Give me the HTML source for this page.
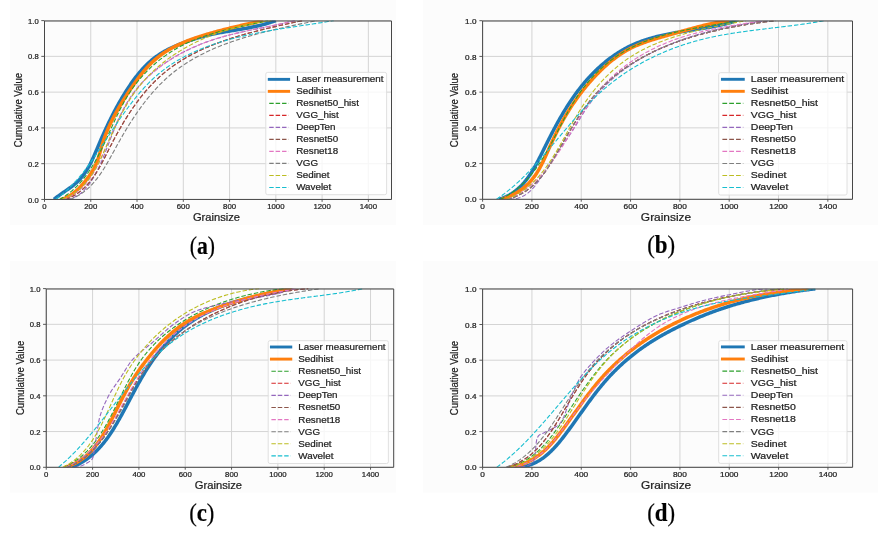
<!DOCTYPE html><html><head><meta charset="utf-8"><style>html,body{margin:0;padding:0;background:#fff;overflow:hidden;}svg{display:block;will-change:transform;}</style></head><body>
<svg width="878" height="533" viewBox="0 0 878 533" font-family='"Liberation Sans", sans-serif' fill="#1e1e1e">
<style>text{stroke:#1e1e1e;stroke-width:0.22px;}</style>
<rect width="878" height="533" fill="#ffffff"/>
<rect x="10" y="0" width="386" height="225" fill="#fcfcfc"/>
<clipPath id="clipa"><rect x="44.5" y="20.6" width="347" height="178.85"/></clipPath>
<path d="M44.5,20.6V199.45M90.77,20.6V199.45M137.03,20.6V199.45M183.3,20.6V199.45M229.57,20.6V199.45M275.83,20.6V199.45M322.1,20.6V199.45M368.37,20.6V199.45M44.5,199.45H391.5M44.5,163.68H391.5M44.5,127.91H391.5M44.5,92.14H391.5M44.5,56.37H391.5M44.5,20.6H391.5" stroke="#d4d4d4" stroke-width="1" fill="none"/>
<g clip-path="url(#clipa)" fill="none" stroke-linejoin="round">
<path d="M53.98,199.45 L54.86,198.7 L55.76,197.96 L56.68,197.23 L57.62,196.51 L58.57,195.8 L59.55,195.09 L60.54,194.38 L61.53,193.68 L62.54,192.98 L63.56,192.28 L64.58,191.58 L65.6,190.88 L66.63,190.17 L67.65,189.46 L68.67,188.75 L69.69,188.02 L70.69,187.29 L71.69,186.55 L72.68,185.8 L73.65,185.04 L74.6,184.26 L75.54,183.48 L76.46,182.67 L77.35,181.85 L78.23,181.01 L79.07,180.15 L79.89,179.28 L80.7,178.39 L81.47,177.48 L82.23,176.56 L82.97,175.62 L83.68,174.67 L84.38,173.71 L85.06,172.73 L85.72,171.74 L86.37,170.73 L87,169.72 L87.61,168.7 L88.21,167.66 L88.8,166.62 L89.37,165.56 L89.94,164.5 L90.49,163.43 L91.03,162.35 L91.55,161.27 L92.08,160.18 L92.59,159.08 L93.09,157.98 L93.59,156.88 L94.08,155.77 L94.57,154.66 L95.05,153.54 L95.53,152.42 L96,151.3 L96.48,150.18 L96.95,149.06 L97.42,147.94 L97.89,146.82 L98.36,145.7 L98.83,144.59 L99.31,143.47 L99.78,142.36 L100.26,141.25 L100.74,140.14 L101.22,139.03 L101.71,137.92 L102.19,136.82 L102.68,135.72 L103.17,134.62 L103.67,133.52 L104.16,132.42 L104.66,131.33 L105.16,130.23 L105.66,129.14 L106.17,128.05 L106.68,126.97 L107.19,125.88 L107.7,124.8 L108.22,123.71 L108.74,122.63 L109.27,121.55 L109.79,120.48 L110.32,119.4 L110.86,118.33 L111.39,117.26 L111.93,116.18 L112.48,115.12 L113.03,114.05 L113.58,112.98 L114.14,111.92 L114.7,110.86 L115.26,109.8 L115.83,108.74 L116.4,107.68 L116.98,106.63 L117.56,105.58 L118.14,104.52 L118.73,103.47 L119.33,102.43 L119.92,101.38 L120.53,100.33 L121.14,99.29 L121.75,98.25 L122.37,97.21 L122.99,96.17 L123.62,95.13 L124.25,94.1 L124.89,93.06 L125.54,92.03 L126.19,91 L126.84,89.97 L127.5,88.94 L128.17,87.92 L128.84,86.9 L129.52,85.88 L130.21,84.87 L130.9,83.86 L131.59,82.85 L132.3,81.85 L133.01,80.86 L133.73,79.87 L134.46,78.88 L135.19,77.9 L135.93,76.93 L136.68,75.97 L137.43,75.01 L138.2,74.06 L138.97,73.12 L139.75,72.19 L140.54,71.26 L141.34,70.35 L142.14,69.44 L142.96,68.55 L143.78,67.66 L144.62,66.78 L145.46,65.92 L146.31,65.07 L147.17,64.22 L148.04,63.39 L148.92,62.58 L149.81,61.77 L150.71,60.98 L151.63,60.2 L152.55,59.43 L153.48,58.68 L154.42,57.95 L155.38,57.22 L156.34,56.52 L157.32,55.83 L158.3,55.15 L159.3,54.49 L160.31,53.84 L161.33,53.2 L162.35,52.58 L163.39,51.98 L164.43,51.38 L165.48,50.8 L166.54,50.23 L167.61,49.67 L168.68,49.12 L169.76,48.58 L170.85,48.06 L171.95,47.54 L173.04,47.04 L174.15,46.54 L175.26,46.05 L176.37,45.57 L177.49,45.1 L178.61,44.64 L179.74,44.19 L180.87,43.74 L182,43.3 L183.14,42.87 L184.27,42.44 L185.41,42.02 L186.55,41.6 L187.7,41.2 L188.84,40.8 L189.99,40.4 L191.14,40.01 L192.29,39.63 L193.44,39.26 L194.6,38.89 L195.76,38.53 L196.91,38.18 L198.07,37.83 L199.24,37.49 L200.4,37.16 L201.57,36.84 L202.73,36.52 L203.9,36.22 L205.08,35.92 L206.25,35.62 L207.42,35.34 L208.6,35.06 L209.77,34.79 L210.95,34.53 L212.13,34.28 L213.31,34.03 L214.5,33.78 L215.68,33.55 L216.86,33.31 L218.05,33.09 L219.24,32.86 L220.42,32.64 L221.61,32.43 L222.8,32.22 L223.99,32.01 L225.18,31.8 L226.37,31.6 L227.56,31.4 L228.75,31.2 L229.94,31 L231.13,30.81 L232.32,30.61 L233.51,30.41 L234.7,30.22 L235.9,30.02 L237.09,29.82 L238.28,29.63 L239.47,29.43 L240.66,29.22 L241.85,29.02 L243.04,28.81 L244.23,28.61 L245.41,28.39 L246.6,28.18 L247.79,27.96 L248.97,27.73 L250.16,27.51 L251.34,27.27 L252.52,27.03 L253.7,26.79 L254.88,26.54 L256.06,26.28 L257.24,26.02 L258.42,25.75 L259.59,25.47 L260.76,25.18 L261.93,24.89 L263.1,24.59 L264.27,24.28 L265.44,23.96 L266.6,23.63 L267.76,23.29 L268.92,22.94 L270.08,22.57 L271.24,22.2 L272.39,21.82 L273.54,21.43 L274.69,21.02 L275.83,20.6" stroke="#1f77b4" stroke-width="3.5"/>
<path d="M60.69,199.45 L61.91,199.12 L63.1,198.74 L64.27,198.33 L65.4,197.87 L66.52,197.37 L67.6,196.84 L68.67,196.27 L69.71,195.67 L70.73,195.04 L71.73,194.37 L72.71,193.68 L73.67,192.95 L74.61,192.21 L75.53,191.43 L76.44,190.64 L77.32,189.82 L78.2,188.98 L79.06,188.13 L79.9,187.25 L80.73,186.37 L81.55,185.46 L82.36,184.55 L83.15,183.63 L83.94,182.69 L84.72,181.75 L85.49,180.8 L86.25,179.85 L86.99,178.89 L87.73,177.92 L88.46,176.95 L89.17,175.97 L89.87,174.98 L90.55,173.98 L91.22,172.97 L91.87,171.95 L92.5,170.93 L93.11,169.89 L93.7,168.85 L94.27,167.79 L94.82,166.72 L95.35,165.65 L95.85,164.56 L96.33,163.46 L96.78,162.35 L97.21,161.22 L97.62,160.09 L98.01,158.95 L98.38,157.8 L98.74,156.64 L99.09,155.48 L99.43,154.31 L99.76,153.15 L100.09,151.97 L100.41,150.8 L100.74,149.63 L101.06,148.46 L101.39,147.29 L101.73,146.12 L102.08,144.96 L102.44,143.8 L102.81,142.65 L103.18,141.5 L103.57,140.36 L103.96,139.22 L104.37,138.08 L104.78,136.95 L105.2,135.83 L105.63,134.7 L106.07,133.58 L106.52,132.47 L106.98,131.36 L107.44,130.25 L107.92,129.14 L108.4,128.04 L108.88,126.95 L109.38,125.85 L109.88,124.76 L110.39,123.67 L110.91,122.59 L111.43,121.51 L111.97,120.43 L112.5,119.36 L113.05,118.29 L113.6,117.22 L114.16,116.15 L114.72,115.09 L115.29,114.03 L115.87,112.97 L116.45,111.91 L117.04,110.86 L117.63,109.81 L118.23,108.76 L118.83,107.72 L119.44,106.68 L120.06,105.63 L120.68,104.59 L121.3,103.56 L121.93,102.52 L122.56,101.49 L123.2,100.46 L123.84,99.43 L124.48,98.4 L125.13,97.37 L125.78,96.35 L126.44,95.33 L127.1,94.3 L127.76,93.28 L128.43,92.26 L129.1,91.25 L129.77,90.23 L130.45,89.22 L131.13,88.2 L131.81,87.19 L132.5,86.19 L133.19,85.18 L133.89,84.18 L134.59,83.18 L135.29,82.19 L136,81.2 L136.72,80.22 L137.44,79.24 L138.17,78.26 L138.9,77.3 L139.64,76.33 L140.39,75.38 L141.14,74.43 L141.9,73.49 L142.67,72.55 L143.44,71.62 L144.22,70.7 L145.01,69.79 L145.8,68.89 L146.61,67.99 L147.42,67.11 L148.24,66.23 L149.07,65.36 L149.9,64.51 L150.75,63.66 L151.61,62.82 L152.47,62 L153.34,61.19 L154.23,60.38 L155.12,59.59 L156.03,58.82 L156.94,58.05 L157.87,57.3 L158.8,56.56 L159.75,55.83 L160.71,55.12 L161.67,54.42 L162.65,53.73 L163.64,53.06 L164.63,52.4 L165.64,51.75 L166.65,51.11 L167.68,50.48 L168.71,49.86 L169.75,49.26 L170.8,48.67 L171.85,48.08 L172.91,47.51 L173.98,46.95 L175.06,46.4 L176.14,45.86 L177.23,45.33 L178.33,44.8 L179.43,44.29 L180.54,43.79 L181.65,43.29 L182.77,42.81 L183.89,42.33 L185.02,41.86 L186.15,41.4 L187.28,40.95 L188.42,40.5 L189.57,40.06 L190.71,39.63 L191.86,39.21 L193.01,38.79 L194.17,38.38 L195.32,37.98 L196.48,37.59 L197.64,37.19 L198.8,36.81 L199.96,36.43 L201.13,36.06 L202.29,35.69 L203.45,35.33 L204.62,34.97 L205.78,34.61 L206.95,34.27 L208.11,33.92 L209.27,33.58 L210.44,33.24 L211.6,32.91 L212.76,32.58 L213.92,32.26 L215.08,31.94 L216.24,31.62 L217.4,31.31 L218.57,30.99 L219.73,30.69 L220.89,30.38 L222.05,30.08 L223.21,29.78 L224.37,29.49 L225.53,29.19 L226.69,28.9 L227.86,28.62 L229.02,28.33 L230.18,28.05 L231.34,27.77 L232.51,27.49 L233.67,27.21 L234.84,26.94 L236,26.66 L237.17,26.39 L238.34,26.12 L239.5,25.85 L240.67,25.58 L241.84,25.32 L243.01,25.05 L244.18,24.79 L245.36,24.52 L246.53,24.26 L247.71,24 L248.88,23.74 L250.06,23.48 L251.24,23.22 L252.42,22.96 L253.6,22.69 L254.78,22.43 L255.97,22.17 L257.15,21.91 L258.34,21.65 L259.53,21.39 L260.72,21.13 L261.92,20.87 L263.11,20.6" stroke="#ff7f0e" stroke-width="3.5"/>
<path d="M59.55,199.46 L60.64,198.83 L61.71,198.19 L62.76,197.54 L63.8,196.87 L64.83,196.19 L65.84,195.5 L66.83,194.79 L67.81,194.07 L68.77,193.34 L69.72,192.6 L70.65,191.85 L71.57,191.09 L72.48,190.31 L73.37,189.52 L74.25,188.73 L75.12,187.92 L75.97,187.1 L76.81,186.27 L77.64,185.43 L78.46,184.58 L79.26,183.72 L80.06,182.86 L80.84,181.98 L81.61,181.09 L82.37,180.19 L83.11,179.29 L83.85,178.37 L84.58,177.45 L85.3,176.52 L86,175.58 L86.7,174.63 L87.39,173.68 L88.07,172.72 L88.74,171.75 L89.4,170.77 L90.05,169.79 L90.7,168.79 L91.33,167.8 L91.96,166.79 L92.58,165.78 L93.2,164.76 L93.8,163.74 L94.4,162.71 L95,161.68 L95.58,160.64 L96.17,159.59 L96.74,158.54 L97.31,157.49 L97.87,156.43 L98.43,155.37 L98.99,154.3 L99.54,153.22 L100.08,152.15 L100.62,151.07 L101.16,149.98 L101.69,148.9 L102.22,147.81 L102.75,146.71 L103.27,145.62 L103.79,144.52 L104.3,143.42 L104.82,142.31 L105.33,141.21 L105.84,140.1 L106.35,138.99 L106.86,137.88 L107.37,136.77 L107.87,135.65 L108.38,134.54 L108.88,133.42 L109.38,132.31 L109.89,131.19 L110.39,130.07 L110.89,128.95 L111.4,127.84 L111.91,126.72 L112.41,125.6 L112.92,124.49 L113.43,123.37 L113.94,122.26 L114.46,121.15 L114.97,120.04 L115.49,118.93 L116.01,117.82 L116.54,116.71 L117.06,115.61 L117.59,114.51 L118.13,113.41 L118.67,112.31 L119.21,111.22 L119.76,110.12 L120.31,109.04 L120.87,107.95 L121.43,106.87 L121.99,105.79 L122.57,104.72 L123.15,103.65 L123.73,102.59 L124.32,101.53 L124.92,100.47 L125.52,99.42 L126.13,98.37 L126.75,97.33 L127.38,96.3 L128.01,95.27 L128.65,94.25 L129.3,93.23 L129.96,92.22 L130.62,91.21 L131.3,90.21 L131.98,89.22 L132.67,88.23 L133.37,87.25 L134.08,86.28 L134.8,85.31 L135.53,84.36 L136.26,83.4 L137,82.46 L137.75,81.52 L138.51,80.59 L139.28,79.66 L140.05,78.74 L140.84,77.83 L141.63,76.93 L142.43,76.03 L143.23,75.14 L144.05,74.26 L144.87,73.39 L145.7,72.52 L146.54,71.66 L147.38,70.81 L148.23,69.96 L149.09,69.12 L149.96,68.29 L150.83,67.47 L151.71,66.66 L152.6,65.85 L153.49,65.05 L154.4,64.26 L155.3,63.48 L156.22,62.7 L157.14,61.93 L158.07,61.17 L159.01,60.42 L159.95,59.68 L160.9,58.94 L161.85,58.21 L162.81,57.5 L163.78,56.78 L164.75,56.08 L165.73,55.39 L166.72,54.7 L167.71,54.03 L168.71,53.36 L169.71,52.7 L170.72,52.04 L171.74,51.4 L172.76,50.77 L173.79,50.14 L174.82,49.53 L175.86,48.92 L176.9,48.32 L177.95,47.73 L179.01,47.15 L180.07,46.58 L181.13,46.01 L182.2,45.46 L183.28,44.91 L184.36,44.38 L185.44,43.85 L186.53,43.33 L187.63,42.83 L188.73,42.33 L189.83,41.83 L190.94,41.35 L192.05,40.88 L193.17,40.41 L194.29,39.95 L195.42,39.5 L196.54,39.05 L197.68,38.62 L198.81,38.19 L199.95,37.77 L201.09,37.35 L202.24,36.94 L203.39,36.54 L204.54,36.15 L205.69,35.76 L206.85,35.38 L208.01,35 L209.17,34.63 L210.34,34.27 L211.5,33.91 L212.67,33.56 L213.85,33.21 L215.02,32.87 L216.19,32.53 L217.37,32.2 L218.55,31.88 L219.73,31.55 L220.91,31.24 L222.09,30.92 L223.28,30.61 L224.46,30.31 L225.65,30.01 L226.83,29.71 L228.02,29.42 L229.21,29.13 L230.4,28.84 L231.58,28.56 L232.77,28.28 L233.96,28 L235.15,27.73 L236.34,27.46 L237.53,27.19 L238.72,26.92 L239.9,26.66 L241.09,26.4 L242.28,26.14 L243.46,25.88 L244.65,25.62 L245.83,25.37 L247.01,25.11 L248.19,24.86 L249.37,24.61 L250.55,24.36 L251.73,24.11 L252.9,23.86 L254.08,23.61 L255.25,23.36 L256.42,23.11 L257.58,22.87 L258.75,22.62 L259.91,22.37 L261.07,22.12 L262.23,21.87 L263.38,21.62 L264.53,21.37 L265.68,21.12 L266.83,20.87 L267.97,20.61" stroke="#2ca02c" stroke-width="1.1" stroke-dasharray="4.45 1.95"/>
<path d="M65.8,199.46 L66.99,199 L68.15,198.52 L69.29,198.02 L70.41,197.5 L71.51,196.95 L72.58,196.39 L73.63,195.8 L74.67,195.2 L75.68,194.57 L76.67,193.93 L77.64,193.27 L78.59,192.59 L79.52,191.9 L80.44,191.18 L81.33,190.45 L82.21,189.71 L83.07,188.94 L83.92,188.16 L84.75,187.37 L85.56,186.56 L86.36,185.74 L87.14,184.9 L87.91,184.05 L88.67,183.18 L89.41,182.3 L90.14,181.41 L90.85,180.51 L91.55,179.59 L92.25,178.67 L92.93,177.73 L93.6,176.78 L94.26,175.82 L94.91,174.85 L95.55,173.87 L96.18,172.89 L96.8,171.89 L97.42,170.88 L98.03,169.87 L98.63,168.85 L99.22,167.82 L99.81,166.79 L100.39,165.75 L100.97,164.7 L101.54,163.65 L102.11,162.59 L102.67,161.52 L103.23,160.45 L103.79,159.38 L104.34,158.31 L104.9,157.23 L105.45,156.14 L106,155.06 L106.55,153.97 L107.09,152.88 L107.64,151.79 L108.19,150.69 L108.74,149.6 L109.29,148.51 L109.85,147.41 L110.4,146.32 L110.96,145.23 L111.52,144.13 L112.09,143.04 L112.65,141.95 L113.22,140.86 L113.8,139.78 L114.37,138.69 L114.95,137.61 L115.54,136.52 L116.12,135.44 L116.71,134.36 L117.31,133.28 L117.9,132.21 L118.5,131.13 L119.1,130.06 L119.71,128.99 L120.32,127.92 L120.94,126.86 L121.56,125.8 L122.18,124.74 L122.8,123.68 L123.43,122.62 L124.07,121.57 L124.7,120.52 L125.34,119.48 L125.99,118.44 L126.64,117.4 L127.29,116.36 L127.95,115.33 L128.61,114.3 L129.28,113.28 L129.95,112.26 L130.62,111.24 L131.3,110.23 L131.99,109.22 L132.68,108.21 L133.37,107.21 L134.07,106.22 L134.77,105.22 L135.48,104.24 L136.19,103.25 L136.91,102.28 L137.63,101.3 L138.36,100.34 L139.09,99.37 L139.82,98.42 L140.57,97.46 L141.31,96.52 L142.06,95.57 L142.82,94.64 L143.58,93.71 L144.35,92.78 L145.12,91.86 L145.9,90.95 L146.69,90.04 L147.48,89.14 L148.27,88.25 L149.07,87.36 L149.88,86.48 L150.69,85.6 L151.51,84.73 L152.33,83.87 L153.16,83.02 L154,82.17 L154.84,81.33 L155.68,80.49 L156.54,79.66 L157.4,78.84 L158.26,78.03 L159.13,77.23 L160.01,76.43 L160.89,75.64 L161.78,74.86 L162.68,74.08 L163.58,73.32 L164.49,72.56 L165.41,71.81 L166.33,71.07 L167.26,70.33 L168.19,69.61 L169.13,68.89 L170.08,68.18 L171.03,67.47 L171.99,66.78 L172.95,66.09 L173.92,65.41 L174.9,64.73 L175.88,64.07 L176.87,63.41 L177.86,62.75 L178.85,62.11 L179.86,61.47 L180.86,60.84 L181.88,60.21 L182.89,59.6 L183.91,58.99 L184.94,58.38 L185.97,57.78 L187.01,57.19 L188.05,56.61 L189.1,56.03 L190.15,55.46 L191.2,54.89 L192.26,54.33 L193.32,53.78 L194.39,53.24 L195.46,52.7 L196.54,52.16 L197.62,51.63 L198.7,51.11 L199.79,50.59 L200.88,50.08 L201.97,49.58 L203.07,49.08 L204.17,48.58 L205.28,48.1 L206.39,47.61 L207.5,47.14 L208.61,46.66 L209.73,46.2 L210.85,45.74 L211.98,45.28 L213.11,44.83 L214.24,44.38 L215.37,43.94 L216.5,43.5 L217.64,43.07 L218.78,42.65 L219.93,42.22 L221.07,41.81 L222.22,41.39 L223.37,40.99 L224.52,40.58 L225.68,40.18 L226.84,39.79 L227.99,39.4 L229.16,39.01 L230.32,38.63 L231.48,38.25 L232.65,37.88 L233.82,37.51 L234.98,37.15 L236.15,36.78 L237.33,36.43 L238.5,36.07 L239.67,35.72 L240.85,35.37 L242.03,35.03 L243.2,34.69 L244.38,34.35 L245.56,34.02 L246.74,33.69 L247.92,33.37 L249.11,33.04 L250.29,32.72 L251.47,32.41 L252.65,32.09 L253.84,31.78 L255.02,31.47 L256.21,31.17 L257.39,30.87 L258.57,30.57 L259.76,30.27 L260.94,29.98 L262.13,29.68 L263.31,29.39 L264.49,29.11 L265.68,28.82 L266.86,28.54 L268.04,28.26 L269.22,27.98 L270.4,27.71 L271.58,27.43 L272.76,27.16 L273.94,26.89 L275.12,26.62 L276.3,26.36 L277.47,26.09 L278.64,25.83 L279.82,25.57 L280.99,25.31 L282.16,25.05 L283.33,24.8 L284.49,24.54 L285.66,24.29 L286.82,24.03 L287.98,23.78 L289.14,23.53 L290.3,23.28 L291.46,23.04 L292.61,22.79 L293.76,22.54 L294.91,22.3 L296.06,22.05 L297.2,21.81 L298.35,21.56 L299.49,21.32 L300.62,21.08 L301.76,20.84 L302.89,20.59" stroke="#d62728" stroke-width="1.1" stroke-dasharray="4.45 1.95"/>
<path d="M66.94,199.45 L68.25,199.21 L69.52,198.92 L70.75,198.59 L71.94,198.21 L73.1,197.78 L74.22,197.32 L75.31,196.81 L76.36,196.26 L77.39,195.68 L78.38,195.06 L79.34,194.4 L80.28,193.71 L81.19,192.99 L82.07,192.25 L82.93,191.47 L83.76,190.67 L84.57,189.84 L85.36,188.99 L86.13,188.11 L86.88,187.22 L87.61,186.31 L88.33,185.38 L89.02,184.44 L89.71,183.48 L90.38,182.51 L91.03,181.53 L91.68,180.54 L92.31,179.54 L92.93,178.53 L93.54,177.51 L94.14,176.48 L94.72,175.45 L95.3,174.4 L95.87,173.35 L96.43,172.29 L96.98,171.23 L97.52,170.15 L98.05,169.07 L98.57,167.99 L99.09,166.9 L99.6,165.8 L100.1,164.7 L100.6,163.59 L101.09,162.48 L101.57,161.37 L102.05,160.25 L102.52,159.13 L102.99,158 L103.46,156.87 L103.92,155.74 L104.37,154.61 L104.83,153.47 L105.28,152.33 L105.72,151.19 L106.17,150.05 L106.61,148.91 L107.05,147.77 L107.49,146.63 L107.93,145.49 L108.37,144.35 L108.81,143.21 L109.25,142.08 L109.69,140.94 L110.13,139.8 L110.57,138.67 L111.01,137.54 L111.45,136.4 L111.9,135.27 L112.34,134.15 L112.79,133.02 L113.24,131.9 L113.69,130.77 L114.14,129.65 L114.6,128.54 L115.06,127.42 L115.52,126.31 L115.99,125.2 L116.46,124.1 L116.94,122.99 L117.42,121.89 L117.9,120.8 L118.39,119.7 L118.88,118.61 L119.38,117.53 L119.88,116.45 L120.39,115.37 L120.91,114.3 L121.43,113.23 L121.95,112.16 L122.49,111.1 L123.03,110.05 L123.58,109 L124.13,107.95 L124.69,106.91 L125.26,105.88 L125.84,104.84 L126.43,103.82 L127.02,102.8 L127.63,101.79 L128.24,100.78 L128.86,99.78 L129.49,98.78 L130.13,97.79 L130.78,96.81 L131.45,95.83 L132.12,94.86 L132.8,93.9 L133.49,92.94 L134.19,91.99 L134.91,91.05 L135.63,90.12 L136.37,89.19 L137.12,88.27 L137.88,87.35 L138.64,86.45 L139.42,85.55 L140.21,84.65 L141.01,83.77 L141.82,82.89 L142.63,82.02 L143.46,81.15 L144.3,80.3 L145.14,79.45 L146,78.6 L146.86,77.77 L147.73,76.94 L148.62,76.12 L149.5,75.3 L150.4,74.49 L151.31,73.69 L152.22,72.9 L153.15,72.12 L154.08,71.34 L155.01,70.57 L155.96,69.8 L156.91,69.05 L157.87,68.3 L158.84,67.55 L159.81,66.82 L160.79,66.09 L161.78,65.37 L162.78,64.66 L163.78,63.95 L164.78,63.25 L165.8,62.56 L166.82,61.87 L167.84,61.2 L168.87,60.53 L169.91,59.86 L170.95,59.21 L171.99,58.56 L173.05,57.92 L174.1,57.28 L175.16,56.66 L176.23,56.04 L177.3,55.43 L178.38,54.82 L179.45,54.23 L180.54,53.64 L181.63,53.05 L182.72,52.48 L183.81,51.91 L184.91,51.35 L186.01,50.8 L187.12,50.25 L188.22,49.71 L189.34,49.18 L190.45,48.66 L191.57,48.14 L192.69,47.63 L193.81,47.13 L194.93,46.64 L196.06,46.15 L197.19,45.67 L198.32,45.2 L199.45,44.74 L200.58,44.28 L201.71,43.83 L202.85,43.39 L203.99,42.95 L205.12,42.53 L206.26,42.11 L207.4,41.69 L208.54,41.29 L209.68,40.89 L210.82,40.5 L211.97,40.12 L213.11,39.74 L214.25,39.37 L215.4,39.01 L216.54,38.65 L217.69,38.3 L218.83,37.95 L219.98,37.61 L221.12,37.28 L222.27,36.95 L223.42,36.63 L224.57,36.31 L225.72,36 L226.87,35.69 L228.02,35.39 L229.17,35.09 L230.32,34.79 L231.48,34.5 L232.63,34.22 L233.78,33.93 L234.94,33.65 L236.09,33.38 L237.25,33.11 L238.41,32.84 L239.56,32.57 L240.72,32.31 L241.88,32.05 L243.04,31.79 L244.2,31.54 L245.36,31.29 L246.52,31.04 L247.69,30.79 L248.85,30.54 L250.01,30.3 L251.18,30.05 L252.34,29.81 L253.51,29.57 L254.68,29.33 L255.84,29.09 L257.01,28.85 L258.18,28.61 L259.35,28.37 L260.52,28.14 L261.69,27.9 L262.86,27.66 L264.04,27.42 L265.21,27.18 L266.38,26.95 L267.56,26.71 L268.74,26.46 L269.91,26.22 L271.09,25.98 L272.27,25.73 L273.45,25.49 L274.63,25.24 L275.81,24.99 L276.99,24.74 L278.17,24.48 L279.35,24.23 L280.54,23.97 L281.72,23.71 L282.91,23.44 L284.09,23.17 L285.28,22.9 L286.47,22.63 L287.66,22.35 L288.84,22.07 L290.03,21.78 L291.23,21.49 L292.42,21.2 L293.61,20.9 L294.8,20.6" stroke="#9467bd" stroke-width="1.1" stroke-dasharray="4.45 1.95"/>
<path d="M65.8,199.46 L66.99,199 L68.15,198.52 L69.29,198.02 L70.41,197.5 L71.51,196.95 L72.58,196.39 L73.63,195.8 L74.67,195.2 L75.68,194.57 L76.67,193.93 L77.64,193.27 L78.59,192.59 L79.52,191.9 L80.44,191.18 L81.33,190.45 L82.21,189.71 L83.07,188.94 L83.92,188.16 L84.75,187.37 L85.56,186.56 L86.36,185.74 L87.14,184.9 L87.91,184.05 L88.67,183.18 L89.41,182.3 L90.14,181.41 L90.85,180.51 L91.55,179.59 L92.25,178.67 L92.93,177.73 L93.6,176.78 L94.26,175.82 L94.91,174.85 L95.55,173.87 L96.18,172.89 L96.8,171.89 L97.42,170.88 L98.03,169.87 L98.63,168.85 L99.22,167.82 L99.81,166.79 L100.39,165.75 L100.97,164.7 L101.54,163.65 L102.11,162.59 L102.67,161.52 L103.23,160.45 L103.79,159.38 L104.34,158.31 L104.9,157.23 L105.45,156.14 L106,155.06 L106.55,153.97 L107.09,152.88 L107.64,151.79 L108.19,150.69 L108.74,149.6 L109.29,148.51 L109.85,147.41 L110.4,146.32 L110.96,145.23 L111.52,144.13 L112.09,143.04 L112.65,141.95 L113.22,140.86 L113.8,139.78 L114.37,138.69 L114.95,137.61 L115.54,136.52 L116.12,135.44 L116.71,134.36 L117.31,133.28 L117.9,132.21 L118.5,131.13 L119.1,130.06 L119.71,128.99 L120.32,127.92 L120.94,126.86 L121.56,125.8 L122.18,124.74 L122.8,123.68 L123.43,122.62 L124.07,121.57 L124.7,120.52 L125.34,119.48 L125.99,118.44 L126.64,117.4 L127.29,116.36 L127.95,115.33 L128.61,114.3 L129.28,113.28 L129.95,112.26 L130.62,111.24 L131.3,110.23 L131.99,109.22 L132.68,108.21 L133.37,107.21 L134.07,106.22 L134.77,105.22 L135.48,104.24 L136.19,103.25 L136.91,102.28 L137.63,101.3 L138.36,100.34 L139.09,99.37 L139.82,98.42 L140.57,97.46 L141.31,96.52 L142.06,95.57 L142.82,94.64 L143.58,93.71 L144.35,92.78 L145.12,91.86 L145.9,90.95 L146.69,90.04 L147.48,89.14 L148.27,88.25 L149.07,87.36 L149.88,86.48 L150.69,85.6 L151.51,84.73 L152.33,83.87 L153.16,83.02 L154,82.17 L154.84,81.33 L155.68,80.49 L156.54,79.66 L157.4,78.84 L158.26,78.03 L159.13,77.23 L160.01,76.43 L160.89,75.64 L161.78,74.86 L162.68,74.08 L163.58,73.32 L164.49,72.56 L165.41,71.81 L166.33,71.07 L167.26,70.33 L168.19,69.61 L169.13,68.89 L170.08,68.18 L171.03,67.47 L171.99,66.78 L172.95,66.09 L173.92,65.41 L174.9,64.73 L175.88,64.07 L176.87,63.41 L177.86,62.75 L178.85,62.11 L179.86,61.47 L180.86,60.84 L181.88,60.21 L182.89,59.6 L183.91,58.99 L184.94,58.38 L185.97,57.78 L187.01,57.19 L188.05,56.61 L189.1,56.03 L190.15,55.46 L191.2,54.89 L192.26,54.33 L193.32,53.78 L194.39,53.24 L195.46,52.7 L196.54,52.16 L197.62,51.63 L198.7,51.11 L199.79,50.59 L200.88,50.08 L201.97,49.58 L203.07,49.08 L204.17,48.58 L205.28,48.1 L206.39,47.61 L207.5,47.14 L208.61,46.66 L209.73,46.2 L210.85,45.74 L211.98,45.28 L213.11,44.83 L214.24,44.38 L215.37,43.94 L216.5,43.5 L217.64,43.07 L218.78,42.65 L219.93,42.22 L221.07,41.81 L222.22,41.39 L223.37,40.99 L224.52,40.58 L225.68,40.18 L226.84,39.79 L227.99,39.4 L229.16,39.01 L230.32,38.63 L231.48,38.25 L232.65,37.88 L233.82,37.51 L234.98,37.15 L236.15,36.78 L237.33,36.43 L238.5,36.07 L239.67,35.72 L240.85,35.37 L242.03,35.03 L243.2,34.69 L244.38,34.35 L245.56,34.02 L246.74,33.69 L247.92,33.37 L249.11,33.04 L250.29,32.72 L251.47,32.41 L252.65,32.09 L253.84,31.78 L255.02,31.47 L256.21,31.17 L257.39,30.87 L258.57,30.57 L259.76,30.27 L260.94,29.98 L262.13,29.68 L263.31,29.39 L264.49,29.11 L265.68,28.82 L266.86,28.54 L268.04,28.26 L269.22,27.98 L270.4,27.71 L271.58,27.43 L272.76,27.16 L273.94,26.89 L275.12,26.62 L276.3,26.36 L277.47,26.09 L278.64,25.83 L279.82,25.57 L280.99,25.31 L282.16,25.05 L283.33,24.8 L284.49,24.54 L285.66,24.29 L286.82,24.03 L287.98,23.78 L289.14,23.53 L290.3,23.28 L291.46,23.04 L292.61,22.79 L293.76,22.54 L294.91,22.3 L296.06,22.05 L297.2,21.81 L298.35,21.56 L299.49,21.32 L300.62,21.08 L301.76,20.84 L302.89,20.59" stroke="#8c564b" stroke-width="1.1" stroke-dasharray="4.45 1.95"/>
<path d="M63.01,199.46 L64.23,199.01 L65.42,198.54 L66.59,198.04 L67.73,197.52 L68.85,196.99 L69.95,196.43 L71.02,195.85 L72.07,195.25 L73.09,194.63 L74.1,193.99 L75.08,193.33 L76.05,192.66 L76.99,191.96 L77.91,191.25 L78.82,190.52 L79.7,189.77 L80.57,189.01 L81.41,188.23 L82.24,187.44 L83.05,186.63 L83.85,185.8 L84.63,184.96 L85.39,184.11 L86.14,183.24 L86.87,182.36 L87.59,181.46 L88.3,180.56 L88.99,179.64 L89.66,178.71 L90.33,177.76 L90.98,176.81 L91.62,175.84 L92.25,174.87 L92.87,173.88 L93.47,172.89 L94.07,171.88 L94.66,170.87 L95.23,169.85 L95.8,168.81 L96.36,167.78 L96.91,166.73 L97.46,165.68 L97.99,164.61 L98.52,163.55 L99.04,162.47 L99.56,161.39 L100.07,160.31 L100.58,159.22 L101.08,158.12 L101.58,157.02 L102.07,155.92 L102.56,154.81 L103.04,153.7 L103.53,152.59 L104.01,151.47 L104.49,150.35 L104.97,149.23 L105.44,148.11 L105.92,146.99 L106.4,145.86 L106.87,144.74 L107.35,143.61 L107.83,142.49 L108.31,141.36 L108.79,140.23 L109.27,139.11 L109.75,137.98 L110.23,136.86 L110.72,135.73 L111.2,134.61 L111.69,133.49 L112.18,132.36 L112.68,131.24 L113.17,130.13 L113.67,129.01 L114.17,127.89 L114.68,126.78 L115.19,125.67 L115.7,124.56 L116.22,123.45 L116.74,122.35 L117.26,121.25 L117.79,120.15 L118.32,119.06 L118.86,117.97 L119.4,116.88 L119.95,115.79 L120.5,114.71 L121.06,113.64 L121.62,112.56 L122.19,111.49 L122.77,110.43 L123.35,109.37 L123.94,108.32 L124.53,107.27 L125.13,106.22 L125.74,105.18 L126.36,104.15 L126.98,103.12 L127.61,102.1 L128.25,101.08 L128.89,100.07 L129.55,99.07 L130.21,98.07 L130.88,97.08 L131.56,96.09 L132.25,95.12 L132.94,94.14 L133.65,93.18 L134.36,92.23 L135.09,91.28 L135.82,90.34 L136.57,89.4 L137.32,88.48 L138.08,87.56 L138.85,86.65 L139.63,85.74 L140.42,84.85 L141.22,83.96 L142.03,83.08 L142.84,82.2 L143.66,81.34 L144.49,80.48 L145.33,79.63 L146.18,78.78 L147.04,77.94 L147.9,77.12 L148.77,76.29 L149.65,75.48 L150.53,74.67 L151.43,73.87 L152.33,73.08 L153.24,72.29 L154.15,71.52 L155.08,70.75 L156,69.98 L156.94,69.23 L157.88,68.48 L158.83,67.74 L159.79,67.01 L160.75,66.28 L161.72,65.56 L162.7,64.85 L163.68,64.15 L164.66,63.45 L165.66,62.76 L166.66,62.08 L167.66,61.4 L168.67,60.73 L169.69,60.07 L170.71,59.42 L171.74,58.77 L172.77,58.13 L173.8,57.5 L174.85,56.88 L175.89,56.26 L176.94,55.65 L178,55.05 L179.06,54.45 L180.13,53.87 L181.2,53.28 L182.27,52.71 L183.35,52.14 L184.43,51.58 L185.52,51.03 L186.61,50.49 L187.7,49.95 L188.8,49.42 L189.9,48.9 L191,48.38 L192.11,47.87 L193.22,47.37 L194.34,46.87 L195.45,46.38 L196.57,45.9 L197.7,45.43 L198.82,44.96 L199.95,44.5 L201.08,44.05 L202.22,43.6 L203.35,43.17 L204.49,42.74 L205.63,42.31 L206.77,41.89 L207.92,41.48 L209.06,41.08 L210.21,40.68 L211.36,40.29 L212.51,39.91 L213.67,39.53 L214.82,39.16 L215.98,38.8 L217.14,38.44 L218.3,38.08 L219.46,37.74 L220.62,37.39 L221.78,37.06 L222.95,36.73 L224.12,36.4 L225.28,36.08 L226.45,35.76 L227.62,35.45 L228.79,35.14 L229.97,34.84 L231.14,34.54 L232.31,34.24 L233.49,33.95 L234.67,33.66 L235.84,33.38 L237.02,33.1 L238.2,32.82 L239.38,32.54 L240.56,32.27 L241.74,32 L242.92,31.74 L244.1,31.48 L245.29,31.21 L246.47,30.96 L247.65,30.7 L248.84,30.45 L250.02,30.19 L251.2,29.94 L252.39,29.69 L253.57,29.45 L254.76,29.2 L255.94,28.96 L257.13,28.71 L258.31,28.47 L259.5,28.23 L260.68,27.99 L261.87,27.74 L263.05,27.5 L264.24,27.26 L265.42,27.02 L266.6,26.78 L267.79,26.54 L268.97,26.3 L270.15,26.06 L271.33,25.81 L272.52,25.57 L273.7,25.33 L274.88,25.08 L276.06,24.83 L277.24,24.59 L278.41,24.34 L279.59,24.09 L280.77,23.83 L281.94,23.58 L283.12,23.32 L284.29,23.06 L285.46,22.8 L286.63,22.53 L287.81,22.27 L288.97,22 L290.14,21.72 L291.31,21.45 L292.47,21.17 L293.64,20.89 L294.8,20.6" stroke="#e377c2" stroke-width="1.1" stroke-dasharray="4.45 1.95"/>
<path d="M69.97,199.47 L71.13,199.01 L72.28,198.53 L73.41,198.03 L74.51,197.51 L75.6,196.97 L76.66,196.42 L77.71,195.84 L78.74,195.24 L79.75,194.63 L80.74,194 L81.71,193.35 L82.67,192.68 L83.61,192 L84.53,191.3 L85.44,190.58 L86.33,189.85 L87.2,189.1 L88.06,188.34 L88.91,187.56 L89.74,186.77 L90.56,185.97 L91.36,185.15 L92.15,184.31 L92.93,183.47 L93.7,182.61 L94.45,181.74 L95.2,180.86 L95.93,179.97 L96.65,179.06 L97.36,178.15 L98.06,177.22 L98.76,176.28 L99.44,175.34 L100.11,174.38 L100.78,173.42 L101.44,172.45 L102.09,171.47 L102.73,170.48 L103.37,169.48 L104,168.48 L104.63,167.46 L105.25,166.45 L105.86,165.42 L106.47,164.39 L107.08,163.36 L107.68,162.32 L108.27,161.27 L108.87,160.23 L109.46,159.17 L110.05,158.12 L110.64,157.06 L111.22,155.99 L111.81,154.93 L112.39,153.86 L112.98,152.79 L113.56,151.72 L114.15,150.64 L114.73,149.57 L115.32,148.5 L115.91,147.42 L116.5,146.35 L117.09,145.27 L117.68,144.2 L118.28,143.13 L118.88,142.06 L119.48,140.99 L120.09,139.92 L120.7,138.85 L121.31,137.78 L121.92,136.72 L122.54,135.65 L123.16,134.59 L123.78,133.53 L124.4,132.47 L125.03,131.41 L125.66,130.36 L126.3,129.31 L126.94,128.26 L127.58,127.21 L128.22,126.16 L128.87,125.12 L129.52,124.08 L130.18,123.04 L130.84,122 L131.5,120.97 L132.16,119.94 L132.83,118.91 L133.51,117.89 L134.18,116.87 L134.87,115.85 L135.55,114.83 L136.24,113.82 L136.93,112.82 L137.63,111.81 L138.33,110.81 L139.03,109.82 L139.74,108.82 L140.45,107.84 L141.17,106.85 L141.89,105.87 L142.62,104.9 L143.35,103.93 L144.08,102.96 L144.82,102 L145.57,101.04 L146.32,100.09 L147.07,99.14 L147.83,98.2 L148.59,97.26 L149.36,96.33 L150.13,95.41 L150.91,94.48 L151.69,93.57 L152.48,92.66 L153.27,91.75 L154.06,90.86 L154.87,89.96 L155.67,89.08 L156.49,88.19 L157.31,87.32 L158.13,86.45 L158.96,85.59 L159.79,84.73 L160.63,83.89 L161.48,83.04 L162.33,82.21 L163.18,81.38 L164.04,80.56 L164.91,79.74 L165.79,78.93 L166.66,78.13 L167.55,77.34 L168.44,76.55 L169.34,75.78 L170.24,75 L171.15,74.24 L172.06,73.49 L172.99,72.74 L173.91,72 L174.85,71.27 L175.79,70.54 L176.73,69.83 L177.68,69.12 L178.64,68.41 L179.6,67.72 L180.57,67.03 L181.54,66.35 L182.52,65.68 L183.5,65.02 L184.49,64.36 L185.49,63.71 L186.49,63.06 L187.49,62.42 L188.5,61.79 L189.52,61.17 L190.54,60.55 L191.56,59.94 L192.59,59.34 L193.62,58.74 L194.66,58.15 L195.7,57.57 L196.75,56.99 L197.8,56.42 L198.86,55.86 L199.92,55.3 L200.98,54.75 L202.05,54.2 L203.13,53.66 L204.2,53.13 L205.28,52.6 L206.37,52.08 L207.46,51.56 L208.55,51.05 L209.64,50.55 L210.74,50.05 L211.85,49.55 L212.95,49.06 L214.06,48.58 L215.17,48.1 L216.29,47.63 L217.41,47.17 L218.53,46.7 L219.66,46.25 L220.79,45.8 L221.92,45.35 L223.05,44.91 L224.19,44.47 L225.33,44.04 L226.47,43.62 L227.61,43.2 L228.76,42.78 L229.91,42.37 L231.06,41.96 L232.21,41.56 L233.37,41.16 L234.53,40.76 L235.69,40.37 L236.85,39.99 L238.02,39.61 L239.18,39.23 L240.35,38.86 L241.52,38.49 L242.69,38.12 L243.86,37.76 L245.04,37.4 L246.21,37.05 L247.39,36.7 L248.57,36.35 L249.75,36.01 L250.93,35.67 L252.11,35.34 L253.29,35.01 L254.48,34.68 L255.66,34.35 L256.85,34.03 L258.03,33.71 L259.22,33.4 L260.41,33.09 L261.6,32.78 L262.78,32.47 L263.97,32.17 L265.16,31.87 L266.35,31.57 L267.54,31.28 L268.73,30.98 L269.92,30.69 L271.11,30.41 L272.3,30.12 L273.49,29.84 L274.68,29.56 L275.87,29.28 L277.06,29.01 L278.25,28.74 L279.43,28.47 L280.62,28.2 L281.81,27.93 L282.99,27.67 L284.18,27.41 L285.36,27.14 L286.55,26.89 L287.73,26.63 L288.91,26.37 L290.09,26.12 L291.27,25.87 L292.45,25.62 L293.62,25.37 L294.8,25.12 L295.97,24.87 L297.14,24.63 L298.32,24.39 L299.48,24.14 L300.65,23.9 L301.82,23.66 L302.98,23.42 L304.14,23.18 L305.3,22.95 L306.46,22.71 L307.61,22.47 L308.77,22.24 L309.92,22 L311.06,21.77 L312.21,21.53 L313.35,21.3 L314.49,21.07 L315.63,20.84 L316.77,20.6" stroke="#7f7f7f" stroke-width="1.1" stroke-dasharray="4.45 1.95"/>
<path d="M61.86,199.46 L63.08,199 L64.27,198.52 L65.45,198.02 L66.6,197.5 L67.72,196.96 L68.83,196.4 L69.91,195.82 L70.97,195.22 L72.01,194.6 L73.03,193.96 L74.03,193.3 L75.01,192.63 L75.97,191.94 L76.91,191.23 L77.83,190.51 L78.73,189.76 L79.62,189.01 L80.48,188.23 L81.33,187.45 L82.17,186.64 L82.98,185.82 L83.79,184.99 L84.57,184.14 L85.34,183.28 L86.1,182.41 L86.84,181.52 L87.57,180.62 L88.28,179.71 L88.98,178.79 L89.67,177.85 L90.35,176.9 L91.02,175.94 L91.67,174.98 L92.31,174 L92.94,173.01 L93.57,172.01 L94.18,171 L94.78,169.99 L95.38,168.96 L95.96,167.93 L96.54,166.89 L97.11,165.84 L97.67,164.78 L98.23,163.72 L98.78,162.65 L99.32,161.58 L99.86,160.5 L100.39,159.41 L100.92,158.32 L101.44,157.22 L101.96,156.12 L102.48,155.02 L102.99,153.91 L103.5,152.8 L104,151.68 L104.51,150.57 L105.01,149.45 L105.52,148.33 L106.02,147.2 L106.52,146.08 L107.02,144.95 L107.52,143.83 L108.03,142.7 L108.53,141.57 L109.03,140.44 L109.54,139.32 L110.04,138.19 L110.55,137.06 L111.06,135.93 L111.57,134.81 L112.08,133.68 L112.59,132.55 L113.1,131.43 L113.62,130.31 L114.14,129.18 L114.66,128.06 L115.19,126.94 L115.71,125.82 L116.24,124.71 L116.78,123.59 L117.31,122.48 L117.85,121.37 L118.39,120.27 L118.94,119.16 L119.49,118.06 L120.05,116.96 L120.6,115.87 L121.17,114.78 L121.74,113.69 L122.31,112.6 L122.88,111.52 L123.47,110.44 L124.05,109.37 L124.65,108.3 L125.24,107.24 L125.85,106.18 L126.45,105.12 L127.07,104.07 L127.69,103.03 L128.32,101.99 L128.95,100.95 L129.59,99.93 L130.24,98.9 L130.89,97.89 L131.55,96.87 L132.22,95.87 L132.89,94.87 L133.58,93.88 L134.27,92.89 L134.96,91.91 L135.67,90.94 L136.38,89.97 L137.1,89.02 L137.83,88.07 L138.57,87.12 L139.31,86.18 L140.07,85.25 L140.83,84.33 L141.59,83.42 L142.37,82.51 L143.15,81.6 L143.94,80.71 L144.74,79.82 L145.54,78.94 L146.36,78.07 L147.17,77.2 L148,76.34 L148.83,75.48 L149.67,74.64 L150.52,73.8 L151.37,72.96 L152.23,72.14 L153.1,71.32 L153.97,70.5 L154.85,69.7 L155.73,68.9 L156.63,68.11 L157.52,67.32 L158.43,66.54 L159.34,65.77 L160.26,65.01 L161.18,64.25 L162.11,63.49 L163.04,62.75 L163.98,62.01 L164.93,61.28 L165.88,60.55 L166.84,59.84 L167.8,59.12 L168.77,58.42 L169.74,57.72 L170.72,57.03 L171.71,56.34 L172.7,55.66 L173.69,54.99 L174.69,54.33 L175.69,53.67 L176.7,53.01 L177.72,52.37 L178.74,51.73 L179.76,51.1 L180.79,50.47 L181.83,49.85 L182.86,49.24 L183.91,48.63 L184.95,48.03 L186,47.43 L187.06,46.85 L188.12,46.27 L189.18,45.69 L190.25,45.12 L191.32,44.56 L192.4,44 L193.48,43.46 L194.56,42.91 L195.65,42.38 L196.74,41.85 L197.84,41.32 L198.94,40.8 L200.04,40.29 L201.14,39.79 L202.25,39.29 L203.36,38.8 L204.48,38.31 L205.6,37.83 L206.72,37.36 L207.84,36.89 L208.97,36.43 L210.1,35.98 L211.23,35.53 L212.37,35.08 L213.51,34.65 L214.65,34.22 L215.79,33.79 L216.94,33.38 L218.09,32.96 L219.24,32.56 L220.39,32.16 L221.55,31.77 L222.71,31.38 L223.87,31 L225.03,30.62 L226.19,30.25 L227.36,29.89 L228.52,29.53 L229.69,29.18 L230.86,28.84 L232.04,28.5 L233.21,28.17 L234.39,27.84 L235.56,27.52 L236.74,27.2 L237.92,26.89 L239.1,26.59 L240.29,26.29 L241.47,26 L242.65,25.72 L243.84,25.44 L245.02,25.16 L246.21,24.9 L247.4,24.64 L248.59,24.38 L249.78,24.13 L250.97,23.89 L252.16,23.65 L253.35,23.41 L254.54,23.19 L255.73,22.97 L256.92,22.75 L258.11,22.54 L259.3,22.34 L260.49,22.14 L261.69,21.95 L262.88,21.76 L264.07,21.58 L265.26,21.41 L266.45,21.24 L267.64,21.07 L268.83,20.91 L270.02,20.76 L271.21,20.62" stroke="#bcbd22" stroke-width="1.1" stroke-dasharray="4.45 1.95"/>
<path d="M55.62,199.45 L56.59,198.74 L57.56,198.03 L58.52,197.3 L59.47,196.57 L60.4,195.83 L61.33,195.08 L62.25,194.32 L63.16,193.55 L64.06,192.78 L64.96,191.99 L65.84,191.2 L66.72,190.4 L67.58,189.59 L68.44,188.77 L69.3,187.95 L70.14,187.12 L70.98,186.28 L71.81,185.44 L72.63,184.59 L73.44,183.73 L74.25,182.86 L75.05,181.99 L75.85,181.11 L76.64,180.23 L77.42,179.34 L78.2,178.44 L78.97,177.54 L79.74,176.63 L80.5,175.71 L81.25,174.79 L82,173.87 L82.75,172.94 L83.49,172 L84.22,171.06 L84.95,170.11 L85.68,169.16 L86.4,168.21 L87.12,167.25 L87.84,166.29 L88.55,165.32 L89.26,164.35 L89.96,163.37 L90.66,162.39 L91.36,161.41 L92.06,160.42 L92.75,159.43 L93.45,158.43 L94.14,157.44 L94.82,156.44 L95.51,155.43 L96.19,154.43 L96.88,153.42 L97.56,152.41 L98.24,151.39 L98.92,150.38 L99.6,149.36 L100.27,148.34 L100.95,147.32 L101.63,146.3 L102.31,145.27 L102.98,144.25 L103.66,143.22 L104.34,142.19 L105.02,141.16 L105.7,140.13 L106.37,139.1 L107.05,138.07 L107.73,137.03 L108.41,136 L109.09,134.97 L109.78,133.93 L110.46,132.9 L111.14,131.87 L111.83,130.84 L112.51,129.8 L113.2,128.77 L113.89,127.74 L114.58,126.71 L115.27,125.68 L115.96,124.65 L116.65,123.63 L117.35,122.6 L118.05,121.58 L118.75,120.56 L119.45,119.53 L120.15,118.52 L120.86,117.5 L121.57,116.49 L122.28,115.47 L122.99,114.46 L123.7,113.46 L124.42,112.45 L125.14,111.45 L125.86,110.45 L126.59,109.46 L127.31,108.47 L128.05,107.48 L128.78,106.49 L129.52,105.51 L130.26,104.53 L131,103.56 L131.75,102.59 L132.49,101.62 L133.25,100.66 L134,99.71 L134.76,98.75 L135.53,97.81 L136.3,96.87 L137.07,95.93 L137.84,95 L138.62,94.07 L139.41,93.15 L140.19,92.23 L140.99,91.32 L141.78,90.42 L142.58,89.52 L143.39,88.63 L144.2,87.74 L145.01,86.86 L145.83,85.99 L146.65,85.12 L147.48,84.26 L148.32,83.41 L149.16,82.56 L150,81.72 L150.85,80.89 L151.7,80.07 L152.56,79.25 L153.43,78.44 L154.3,77.64 L155.17,76.85 L156.06,76.06 L156.94,75.29 L157.84,74.52 L158.74,73.76 L159.64,73.01 L160.55,72.26 L161.47,71.53 L162.39,70.81 L163.32,70.09 L164.26,69.38 L165.2,68.68 L166.14,67.99 L167.09,67.3 L168.05,66.63 L169.01,65.96 L169.98,65.3 L170.96,64.65 L171.93,64 L172.92,63.37 L173.91,62.74 L174.9,62.12 L175.9,61.51 L176.9,60.9 L177.91,60.3 L178.93,59.71 L179.94,59.13 L180.97,58.55 L182,57.98 L183.03,57.42 L184.07,56.87 L185.11,56.32 L186.15,55.78 L187.2,55.24 L188.26,54.72 L189.32,54.2 L190.38,53.68 L191.45,53.18 L192.52,52.68 L193.6,52.18 L194.68,51.69 L195.76,51.21 L196.85,50.74 L197.94,50.27 L199.04,49.81 L200.13,49.35 L201.24,48.9 L202.34,48.45 L203.45,48.01 L204.57,47.58 L205.68,47.15 L206.8,46.73 L207.93,46.32 L209.05,45.91 L210.18,45.5 L211.31,45.1 L212.45,44.71 L213.59,44.32 L214.73,43.94 L215.87,43.56 L217.02,43.18 L218.17,42.81 L219.32,42.45 L220.48,42.09 L221.64,41.74 L222.8,41.39 L223.96,41.05 L225.13,40.71 L226.29,40.37 L227.46,40.04 L228.64,39.71 L229.81,39.39 L230.99,39.08 L232.17,38.76 L233.35,38.45 L234.53,38.15 L235.71,37.85 L236.9,37.55 L238.09,37.26 L239.28,36.97 L240.47,36.68 L241.66,36.4 L242.86,36.12 L244.05,35.85 L245.25,35.58 L246.45,35.31 L247.65,35.04 L248.85,34.78 L250.05,34.53 L251.26,34.27 L252.46,34.02 L253.67,33.77 L254.87,33.53 L256.08,33.28 L257.29,33.04 L258.5,32.81 L259.71,32.57 L260.92,32.34 L262.13,32.11 L263.34,31.89 L264.55,31.66 L265.77,31.44 L266.98,31.22 L268.19,31.01 L269.4,30.79 L270.62,30.58 L271.83,30.37 L273.05,30.16 L274.26,29.95 L275.47,29.75 L276.69,29.54 L277.9,29.34 L279.11,29.14 L280.33,28.95 L281.54,28.75 L282.75,28.55 L283.96,28.36 L285.17,28.17 L286.38,27.98 L287.59,27.79 L288.8,27.6 L290.01,27.41 L291.22,27.22 L292.43,27.04 L293.63,26.85 L294.84,26.67 L296.04,26.49 L297.24,26.3 L298.45,26.12 L299.65,25.94 L300.85,25.76 L302.04,25.58 L303.24,25.4 L304.43,25.22 L305.63,25.04 L306.82,24.86 L308.01,24.68 L309.2,24.5 L310.38,24.32 L311.57,24.14 L312.75,23.96 L313.93,23.78 L315.11,23.6 L316.29,23.42 L317.47,23.24 L318.64,23.06 L319.81,22.88 L320.98,22.69 L322.14,22.51 L323.31,22.33 L324.47,22.14 L325.63,21.95 L326.78,21.77 L327.94,21.58 L329.09,21.39 L330.23,21.2 L331.38,21.01 L332.52,20.82 L333.66,20.62" stroke="#17becf" stroke-width="1.1" stroke-dasharray="4.45 1.95"/>
</g>
<path d="M44.5,199.45V21H391.5V199.45Z" fill="none" stroke="#474747" stroke-width="1"/>
<path d="M44.5,199.45v2.4M90.77,199.45v2.4M137.03,199.45v2.4M183.3,199.45v2.4M229.57,199.45v2.4M275.83,199.45v2.4M322.1,199.45v2.4M368.37,199.45v2.4M44.5,199.45h-3.2M44.5,163.68h-3.2M44.5,127.91h-3.2M44.5,92.14h-3.2M44.5,56.37h-3.2M44.5,20.6h-3.2" stroke="#474747" stroke-width="0.9" fill="none"/>
<text x="44.5" y="209.35" font-size="7" text-anchor="middle" textLength="4.33" lengthAdjust="spacingAndGlyphs">0</text>
<text x="90.77" y="209.35" font-size="7" text-anchor="middle" textLength="12.99" lengthAdjust="spacingAndGlyphs">200</text>
<text x="137.03" y="209.35" font-size="7" text-anchor="middle" textLength="12.99" lengthAdjust="spacingAndGlyphs">400</text>
<text x="183.3" y="209.35" font-size="7" text-anchor="middle" textLength="12.99" lengthAdjust="spacingAndGlyphs">600</text>
<text x="229.57" y="209.35" font-size="7" text-anchor="middle" textLength="12.99" lengthAdjust="spacingAndGlyphs">800</text>
<text x="275.83" y="209.35" font-size="7" text-anchor="middle" textLength="17.32" lengthAdjust="spacingAndGlyphs">1000</text>
<text x="322.1" y="209.35" font-size="7" text-anchor="middle" textLength="17.32" lengthAdjust="spacingAndGlyphs">1200</text>
<text x="368.37" y="209.35" font-size="7" text-anchor="middle" textLength="17.32" lengthAdjust="spacingAndGlyphs">1400</text>
<text x="38.7" y="202.55" font-size="7" text-anchor="end" textLength="10.6" lengthAdjust="spacingAndGlyphs">0.0</text>
<text x="38.7" y="166.78" font-size="7" text-anchor="end" textLength="10.6" lengthAdjust="spacingAndGlyphs">0.2</text>
<text x="38.7" y="131.01" font-size="7" text-anchor="end" textLength="10.6" lengthAdjust="spacingAndGlyphs">0.4</text>
<text x="38.7" y="95.24" font-size="7" text-anchor="end" textLength="10.6" lengthAdjust="spacingAndGlyphs">0.6</text>
<text x="38.7" y="59.47" font-size="7" text-anchor="end" textLength="10.6" lengthAdjust="spacingAndGlyphs">0.8</text>
<text x="38.7" y="23.7" font-size="7" text-anchor="end" textLength="10.6" lengthAdjust="spacingAndGlyphs">1.0</text>
<text x="216.5" y="220.75" font-size="10.3" text-anchor="middle" textLength="47.2" lengthAdjust="spacingAndGlyphs">Grainsize</text>
<text transform="translate(22,110.02) scale(1.0,1) rotate(-90)" x="0" y="0" font-size="10.3" text-anchor="middle" textLength="74.3" lengthAdjust="spacingAndGlyphs">Cumulative Value</text>
<rect x="265.8" y="72.4" width="120.8" height="122.3" rx="1.8" fill="#ffffff" fill-opacity="0.8" stroke="#dcdcdc" stroke-width="0.9"/>
<path d="M269.25,79.35H288.65" stroke="#1f77b4" stroke-width="2.9" stroke-linecap="square"/>
<path d="M269.25,91.36H288.65" stroke="#ff7f0e" stroke-width="2.9" stroke-linecap="square"/>
<path d="M269.25,103.37H288.65" stroke="#2ca02c" stroke-width="1.1" stroke-dasharray="4.45 1.95"/>
<path d="M269.25,115.38H288.65" stroke="#d62728" stroke-width="1.1" stroke-dasharray="4.45 1.95"/>
<path d="M269.25,127.39H288.65" stroke="#9467bd" stroke-width="1.1" stroke-dasharray="4.45 1.95"/>
<path d="M269.25,139.4H288.65" stroke="#8c564b" stroke-width="1.1" stroke-dasharray="4.45 1.95"/>
<path d="M269.25,151.41H288.65" stroke="#e377c2" stroke-width="1.1" stroke-dasharray="4.45 1.95"/>
<path d="M269.25,163.42H288.65" stroke="#7f7f7f" stroke-width="1.1" stroke-dasharray="4.45 1.95"/>
<path d="M269.25,175.43H288.65" stroke="#bcbd22" stroke-width="1.1" stroke-dasharray="4.45 1.95"/>
<path d="M269.25,187.44H288.65" stroke="#17becf" stroke-width="1.1" stroke-dasharray="4.45 1.95"/>
<text x="0" y="0" font-size="8.7" transform="translate(296.2,82.3) scale(1.13,1)">Laser measurement</text>
<text x="0" y="0" font-size="8.7" transform="translate(296.2,94.31) scale(1.13,1)">Sedihist</text>
<text x="0" y="0" font-size="8.7" transform="translate(296.2,106.32) scale(1.13,1)">Resnet50_hist</text>
<text x="0" y="0" font-size="8.7" transform="translate(296.2,118.33) scale(1.13,1)">VGG_hist</text>
<text x="0" y="0" font-size="8.7" transform="translate(296.2,130.34) scale(1.13,1)">DeepTen</text>
<text x="0" y="0" font-size="8.7" transform="translate(296.2,142.35) scale(1.13,1)">Resnet50</text>
<text x="0" y="0" font-size="8.7" transform="translate(296.2,154.36) scale(1.13,1)">Resnet18</text>
<text x="0" y="0" font-size="8.7" transform="translate(296.2,166.37) scale(1.13,1)">VGG</text>
<text x="0" y="0" font-size="8.7" transform="translate(296.2,178.38) scale(1.13,1)">Sedinet</text>
<text x="0" y="0" font-size="8.7" transform="translate(296.2,190.39) scale(1.13,1)">Wavelet</text>
<text x="202.3" y="253.7" font-family='"Liberation Serif", serif' font-size="24.5" text-anchor="middle" textLength="25.3" lengthAdjust="spacingAndGlyphs" fill="#000">(<tspan font-weight="bold">a</tspan>)</text>
<rect x="423" y="0" width="455" height="225" fill="#fcfcfc"/>
<clipPath id="clipb"><rect x="482.6" y="20.7" width="369.9" height="178.6"/></clipPath>
<path d="M482.6,20.7V199.3M531.92,20.7V199.3M581.24,20.7V199.3M630.56,20.7V199.3M679.88,20.7V199.3M729.2,20.7V199.3M778.52,20.7V199.3M827.84,20.7V199.3M482.6,199.3H852.5M482.6,163.58H852.5M482.6,127.86H852.5M482.6,92.14H852.5M482.6,56.42H852.5M482.6,20.7H852.5" stroke="#d4d4d4" stroke-width="1" fill="none"/>
<g clip-path="url(#clipb)" fill="none" stroke-linejoin="round">
<path d="M498.87,199.3 L500.14,198.92 L501.38,198.5 L502.6,198.07 L503.79,197.6 L504.96,197.11 L506.1,196.6 L507.22,196.06 L508.32,195.5 L509.39,194.91 L510.44,194.3 L511.48,193.67 L512.49,193.02 L513.47,192.35 L514.44,191.65 L515.39,190.94 L516.32,190.21 L517.23,189.46 L518.12,188.69 L519,187.9 L519.85,187.09 L520.69,186.27 L521.52,185.44 L522.32,184.58 L523.11,183.71 L523.89,182.83 L524.65,181.93 L525.39,181.02 L526.12,180.1 L526.84,179.17 L527.54,178.22 L528.24,177.26 L528.92,176.29 L529.59,175.31 L530.24,174.33 L530.89,173.33 L531.53,172.32 L532.15,171.31 L532.77,170.28 L533.38,169.25 L533.99,168.22 L534.58,167.17 L535.17,166.13 L535.75,165.07 L536.33,164.01 L536.9,162.95 L537.46,161.89 L538.02,160.82 L538.58,159.74 L539.13,158.67 L539.68,157.59 L540.23,156.51 L540.78,155.42 L541.32,154.34 L541.86,153.25 L542.4,152.16 L542.94,151.07 L543.47,149.98 L544.01,148.89 L544.55,147.8 L545.09,146.71 L545.63,145.62 L546.17,144.53 L546.71,143.44 L547.26,142.35 L547.8,141.27 L548.35,140.18 L548.9,139.09 L549.45,138.01 L550,136.92 L550.56,135.84 L551.12,134.76 L551.68,133.68 L552.24,132.6 L552.8,131.52 L553.37,130.45 L553.94,129.37 L554.51,128.3 L555.09,127.23 L555.67,126.16 L556.25,125.09 L556.83,124.02 L557.42,122.96 L558,121.9 L558.6,120.84 L559.19,119.78 L559.79,118.73 L560.39,117.68 L561,116.63 L561.61,115.58 L562.22,114.53 L562.84,113.49 L563.46,112.45 L564.08,111.42 L564.71,110.38 L565.35,109.35 L565.98,108.32 L566.62,107.3 L567.27,106.28 L567.92,105.26 L568.57,104.24 L569.23,103.23 L569.89,102.22 L570.56,101.22 L571.23,100.22 L571.91,99.22 L572.59,98.23 L573.28,97.24 L573.97,96.25 L574.66,95.27 L575.37,94.29 L576.07,93.32 L576.79,92.35 L577.5,91.39 L578.23,90.43 L578.96,89.47 L579.69,88.52 L580.43,87.57 L581.18,86.63 L581.93,85.69 L582.69,84.76 L583.45,83.83 L584.22,82.91 L585,81.99 L585.78,81.08 L586.57,80.17 L587.37,79.27 L588.17,78.37 L588.98,77.48 L589.8,76.6 L590.62,75.72 L591.45,74.84 L592.28,73.97 L593.13,73.11 L593.98,72.25 L594.83,71.4 L595.7,70.55 L596.57,69.72 L597.45,68.88 L598.33,68.06 L599.22,67.24 L600.12,66.43 L601.02,65.62 L601.93,64.83 L602.85,64.04 L603.77,63.25 L604.71,62.48 L605.64,61.71 L606.59,60.96 L607.54,60.21 L608.49,59.46 L609.45,58.73 L610.42,58.01 L611.4,57.29 L612.38,56.58 L613.36,55.89 L614.36,55.2 L615.36,54.52 L616.36,53.85 L617.37,53.19 L618.39,52.54 L619.41,51.9 L620.44,51.27 L621.48,50.65 L622.52,50.05 L623.57,49.45 L624.62,48.86 L625.68,48.29 L626.74,47.72 L627.81,47.17 L628.88,46.63 L629.96,46.1 L631.05,45.58 L632.14,45.07 L633.24,44.58 L634.34,44.09 L635.45,43.62 L636.56,43.16 L637.68,42.71 L638.8,42.27 L639.92,41.84 L641.05,41.42 L642.19,41.01 L643.32,40.61 L644.47,40.22 L645.61,39.83 L646.76,39.46 L647.91,39.1 L649.07,38.74 L650.23,38.4 L651.39,38.06 L652.55,37.73 L653.72,37.41 L654.89,37.1 L656.07,36.79 L657.24,36.49 L658.42,36.2 L659.6,35.92 L660.78,35.64 L661.96,35.37 L663.15,35.1 L664.33,34.85 L665.52,34.59 L666.71,34.35 L667.9,34.11 L669.09,33.87 L670.28,33.64 L671.47,33.42 L672.66,33.2 L673.85,32.98 L675.05,32.77 L676.24,32.56 L677.44,32.36 L678.63,32.16 L679.83,31.96 L681.02,31.76 L682.22,31.57 L683.41,31.38 L684.61,31.19 L685.8,31.01 L687,30.82 L688.19,30.64 L689.39,30.45 L690.58,30.27 L691.78,30.09 L692.98,29.91 L694.17,29.73 L695.36,29.54 L696.56,29.36 L697.75,29.18 L698.95,28.99 L700.14,28.8 L701.33,28.61 L702.52,28.42 L703.71,28.23 L704.9,28.03 L706.09,27.83 L707.28,27.63 L708.47,27.42 L709.66,27.21 L710.84,27 L712.03,26.78 L713.21,26.56 L714.39,26.33 L715.57,26.1 L716.76,25.86 L717.93,25.62 L719.11,25.36 L720.29,25.11 L721.46,24.85 L722.64,24.58 L723.81,24.3 L724.98,24.01 L726.15,23.72 L727.32,23.42 L728.49,23.11 L729.65,22.8 L730.81,22.47 L731.97,22.14 L733.13,21.79 L734.29,21.44 L735.44,21.07 L736.6,20.7" stroke="#1f77b4" stroke-width="3.5"/>
<path d="M501.59,199.3 L502.77,198.92 L503.95,198.53 L505.12,198.11 L506.28,197.68 L507.43,197.22 L508.57,196.75 L509.7,196.25 L510.81,195.74 L511.92,195.21 L513.01,194.65 L514.09,194.08 L515.16,193.5 L516.21,192.89 L517.25,192.26 L518.27,191.62 L519.29,190.96 L520.28,190.28 L521.26,189.58 L522.23,188.87 L523.18,188.13 L524.12,187.38 L525.03,186.62 L525.93,185.83 L526.82,185.03 L527.68,184.21 L528.53,183.38 L529.36,182.53 L530.17,181.66 L530.96,180.78 L531.73,179.88 L532.48,178.97 L533.21,178.04 L533.93,177.09 L534.63,176.14 L535.32,175.17 L535.98,174.18 L536.64,173.19 L537.28,172.18 L537.91,171.17 L538.52,170.14 L539.12,169.1 L539.71,168.06 L540.29,167 L540.86,165.94 L541.42,164.87 L541.97,163.79 L542.51,162.71 L543.05,161.62 L543.58,160.53 L544.1,159.43 L544.62,158.33 L545.13,157.22 L545.64,156.11 L546.14,155 L546.64,153.88 L547.14,152.77 L547.63,151.65 L548.13,150.54 L548.62,149.42 L549.12,148.31 L549.61,147.2 L550.11,146.08 L550.61,144.98 L551.11,143.87 L551.62,142.77 L552.12,141.67 L552.63,140.57 L553.15,139.48 L553.66,138.39 L554.18,137.3 L554.71,136.21 L555.23,135.13 L555.76,134.05 L556.29,132.97 L556.83,131.9 L557.37,130.83 L557.91,129.76 L558.46,128.69 L559.01,127.63 L559.57,126.57 L560.13,125.51 L560.69,124.45 L561.26,123.4 L561.84,122.35 L562.41,121.3 L563,120.26 L563.59,119.22 L564.18,118.18 L564.78,117.14 L565.38,116.11 L565.99,115.07 L566.6,114.05 L567.22,113.02 L567.85,111.99 L568.48,110.97 L569.11,109.95 L569.76,108.94 L570.41,107.92 L571.06,106.91 L571.72,105.9 L572.39,104.9 L573.06,103.9 L573.74,102.9 L574.42,101.9 L575.11,100.91 L575.8,99.92 L576.5,98.93 L577.21,97.94 L577.92,96.96 L578.64,95.99 L579.36,95.01 L580.09,94.04 L580.82,93.08 L581.56,92.12 L582.31,91.16 L583.06,90.2 L583.81,89.25 L584.58,88.31 L585.34,87.36 L586.11,86.43 L586.89,85.49 L587.67,84.56 L588.46,83.64 L589.25,82.72 L590.05,81.8 L590.85,80.89 L591.66,79.98 L592.48,79.08 L593.29,78.19 L594.12,77.3 L594.95,76.41 L595.78,75.53 L596.62,74.65 L597.46,73.78 L598.31,72.91 L599.16,72.05 L600.02,71.2 L600.89,70.35 L601.76,69.51 L602.63,68.68 L603.51,67.85 L604.39,67.03 L605.29,66.21 L606.18,65.41 L607.08,64.61 L607.99,63.81 L608.91,63.03 L609.83,62.26 L610.75,61.49 L611.68,60.73 L612.62,59.99 L613.57,59.25 L614.52,58.52 L615.47,57.8 L616.44,57.09 L617.41,56.39 L618.38,55.7 L619.37,55.02 L620.36,54.35 L621.35,53.69 L622.36,53.05 L623.37,52.41 L624.38,51.79 L625.41,51.18 L626.44,50.58 L627.48,50 L628.53,49.42 L629.58,48.86 L630.64,48.31 L631.71,47.78 L632.79,47.26 L633.87,46.75 L634.96,46.25 L636.06,45.77 L637.16,45.29 L638.27,44.83 L639.38,44.37 L640.5,43.93 L641.63,43.5 L642.76,43.07 L643.89,42.66 L645.03,42.25 L646.17,41.85 L647.32,41.45 L648.47,41.07 L649.62,40.69 L650.78,40.31 L651.94,39.95 L653.1,39.58 L654.26,39.23 L655.43,38.87 L656.6,38.53 L657.77,38.18 L658.94,37.84 L660.11,37.5 L661.28,37.16 L662.46,36.83 L663.63,36.5 L664.8,36.17 L665.98,35.84 L667.15,35.51 L668.32,35.18 L669.49,34.85 L670.66,34.52 L671.83,34.19 L673,33.85 L674.16,33.52 L675.33,33.19 L676.49,32.85 L677.65,32.52 L678.82,32.19 L679.98,31.85 L681.14,31.52 L682.3,31.19 L683.45,30.86 L684.61,30.53 L685.77,30.2 L686.93,29.88 L688.09,29.55 L689.25,29.23 L690.4,28.91 L691.56,28.59 L692.72,28.27 L693.88,27.96 L695.04,27.65 L696.2,27.34 L697.36,27.03 L698.52,26.73 L699.68,26.44 L700.84,26.14 L702,25.85 L703.17,25.57 L704.33,25.28 L705.5,25.01 L706.66,24.73 L707.83,24.47 L709,24.2 L710.17,23.95 L711.35,23.7 L712.52,23.45 L713.7,23.21 L714.88,22.97 L716.06,22.75 L717.24,22.52 L718.43,22.31 L719.61,22.1 L720.8,21.9 L721.99,21.7 L723.19,21.52 L724.38,21.34 L725.58,21.16 L726.79,21 L727.99,20.84 L729.2,20.7" stroke="#ff7f0e" stroke-width="3.5"/>
<path d="M500.37,199.32 L501.5,198.78 L502.61,198.23 L503.71,197.66 L504.79,197.08 L505.86,196.49 L506.91,195.88 L507.95,195.26 L508.98,194.63 L509.99,193.99 L510.99,193.33 L511.98,192.66 L512.96,191.98 L513.92,191.28 L514.87,190.57 L515.81,189.86 L516.73,189.13 L517.65,188.38 L518.55,187.63 L519.44,186.87 L520.32,186.09 L521.19,185.31 L522.05,184.51 L522.89,183.71 L523.73,182.89 L524.56,182.07 L525.38,181.23 L526.18,180.38 L526.98,179.53 L527.77,178.67 L528.55,177.79 L529.32,176.91 L530.08,176.02 L530.83,175.12 L531.57,174.22 L532.31,173.3 L533.04,172.38 L533.75,171.45 L534.47,170.51 L535.17,169.56 L535.87,168.61 L536.56,167.65 L537.24,166.68 L537.92,165.71 L538.59,164.73 L539.25,163.74 L539.91,162.75 L540.56,161.75 L541.21,160.75 L541.85,159.74 L542.48,158.72 L543.11,157.7 L543.74,156.68 L544.36,155.65 L544.98,154.61 L545.59,153.58 L546.2,152.53 L546.8,151.48 L547.4,150.43 L548,149.38 L548.59,148.32 L549.18,147.26 L549.77,146.19 L550.35,145.12 L550.93,144.05 L551.51,142.98 L552.09,141.9 L552.67,140.82 L553.24,139.74 L553.81,138.66 L554.38,137.57 L554.95,136.49 L555.52,135.4 L556.09,134.31 L556.66,133.22 L557.22,132.13 L557.79,131.04 L558.36,129.95 L558.92,128.86 L559.49,127.76 L560.06,126.67 L560.63,125.58 L561.2,124.49 L561.77,123.4 L562.34,122.31 L562.92,121.22 L563.49,120.13 L564.07,119.04 L564.65,117.96 L565.23,116.87 L565.82,115.79 L566.41,114.71 L567,113.63 L567.59,112.56 L568.19,111.49 L568.79,110.42 L569.39,109.35 L570,108.29 L570.62,107.23 L571.23,106.17 L571.86,105.12 L572.48,104.07 L573.11,103.02 L573.75,101.98 L574.39,100.95 L575.04,99.91 L575.69,98.89 L576.35,97.87 L577.02,96.85 L577.69,95.84 L578.37,94.83 L579.05,93.83 L579.75,92.84 L580.44,91.85 L581.15,90.87 L581.86,89.89 L582.59,88.92 L583.31,87.96 L584.05,87 L584.79,86.05 L585.54,85.11 L586.3,84.17 L587.07,83.24 L587.84,82.32 L588.62,81.4 L589.4,80.49 L590.2,79.59 L591,78.69 L591.8,77.8 L592.62,76.92 L593.44,76.05 L594.26,75.18 L595.1,74.32 L595.94,73.47 L596.79,72.62 L597.64,71.79 L598.5,70.95 L599.37,70.13 L600.25,69.32 L601.13,68.51 L602.01,67.71 L602.91,66.91 L603.81,66.13 L604.72,65.35 L605.63,64.58 L606.55,63.82 L607.47,63.07 L608.41,62.32 L609.34,61.59 L610.29,60.86 L611.24,60.14 L612.2,59.42 L613.16,58.72 L614.13,58.02 L615.1,57.33 L616.08,56.65 L617.07,55.98 L618.06,55.32 L619.06,54.67 L620.06,54.02 L621.07,53.38 L622.09,52.75 L623.11,52.13 L624.14,51.52 L625.17,50.92 L626.21,50.33 L627.25,49.75 L628.3,49.17 L629.36,48.6 L630.42,48.05 L631.48,47.5 L632.55,46.96 L633.63,46.43 L634.71,45.91 L635.8,45.4 L636.89,44.9 L637.98,44.4 L639.09,43.91 L640.19,43.44 L641.3,42.97 L642.41,42.5 L643.53,42.05 L644.66,41.6 L645.78,41.16 L646.91,40.73 L648.05,40.31 L649.19,39.89 L650.33,39.48 L651.48,39.08 L652.62,38.68 L653.78,38.3 L654.93,37.91 L656.09,37.54 L657.25,37.17 L658.42,36.81 L659.59,36.45 L660.76,36.1 L661.93,35.76 L663.11,35.42 L664.29,35.09 L665.47,34.76 L666.65,34.44 L667.84,34.12 L669.02,33.81 L670.21,33.51 L671.4,33.21 L672.6,32.91 L673.79,32.62 L674.99,32.34 L676.19,32.06 L677.38,31.78 L678.58,31.51 L679.79,31.24 L680.99,30.98 L682.19,30.72 L683.4,30.46 L684.6,30.21 L685.81,29.96 L687.01,29.72 L688.22,29.48 L689.43,29.24 L690.63,29.01 L691.84,28.77 L693.05,28.55 L694.25,28.32 L695.46,28.1 L696.67,27.88 L697.87,27.66 L699.08,27.44 L700.29,27.23 L701.49,27.02 L702.69,26.81 L703.9,26.6 L705.1,26.4 L706.3,26.2 L707.5,25.99 L708.7,25.79 L709.89,25.59 L711.09,25.4 L712.28,25.2 L713.48,25 L714.67,24.81 L715.85,24.61 L717.04,24.42 L718.23,24.23 L719.41,24.03 L720.59,23.84 L721.76,23.65 L722.94,23.46 L724.11,23.26 L725.28,23.07 L726.45,22.88 L727.61,22.68 L728.77,22.49 L729.93,22.3 L731.08,22.1 L732.23,21.9 L733.38,21.71 L734.53,21.51 L735.67,21.31 L736.8,21.11 L737.94,20.91 L739.06,20.7" stroke="#2ca02c" stroke-width="1.1" stroke-dasharray="4.45 1.95"/>
<path d="M507.26,199.31 L508.54,198.97 L509.8,198.6 L511.04,198.21 L512.25,197.81 L513.45,197.38 L514.62,196.93 L515.78,196.46 L516.91,195.97 L518.03,195.46 L519.12,194.94 L520.2,194.39 L521.26,193.83 L522.31,193.24 L523.33,192.64 L524.34,192.03 L525.33,191.39 L526.31,190.74 L527.27,190.07 L528.21,189.39 L529.14,188.69 L530.06,187.97 L530.96,187.24 L531.84,186.49 L532.72,185.73 L533.57,184.96 L534.42,184.17 L535.25,183.37 L536.07,182.56 L536.88,181.73 L537.67,180.89 L538.46,180.04 L539.23,179.18 L539.99,178.3 L540.75,177.41 L541.49,176.52 L542.22,175.61 L542.95,174.69 L543.66,173.77 L544.37,172.83 L545.06,171.89 L545.75,170.93 L546.44,169.97 L547.11,169 L547.78,168.02 L548.44,167.04 L549.1,166.04 L549.75,165.04 L550.39,164.04 L551.03,163.03 L551.66,162.01 L552.29,160.99 L552.92,159.96 L553.54,158.92 L554.16,157.89 L554.78,156.85 L555.39,155.8 L556,154.75 L556.61,153.7 L557.22,152.65 L557.82,151.59 L558.43,150.53 L559.03,149.47 L559.64,148.41 L560.24,147.35 L560.84,146.29 L561.45,145.22 L562.06,144.16 L562.66,143.1 L563.27,142.03 L563.88,140.97 L564.5,139.91 L565.11,138.85 L565.72,137.79 L566.34,136.73 L566.96,135.67 L567.58,134.61 L568.2,133.55 L568.83,132.49 L569.45,131.44 L570.08,130.39 L570.72,129.34 L571.35,128.29 L571.99,127.24 L572.63,126.19 L573.27,125.15 L573.92,124.11 L574.56,123.07 L575.22,122.04 L575.87,121.01 L576.53,119.98 L577.19,118.95 L577.86,117.93 L578.53,116.91 L579.2,115.89 L579.88,114.88 L580.56,113.87 L581.24,112.87 L581.93,111.87 L582.62,110.87 L583.32,109.88 L584.02,108.89 L584.73,107.91 L585.44,106.93 L586.16,105.96 L586.88,104.99 L587.61,104.02 L588.34,103.07 L589.07,102.11 L589.82,101.17 L590.56,100.22 L591.32,99.29 L592.07,98.36 L592.84,97.44 L593.61,96.52 L594.38,95.61 L595.17,94.7 L595.95,93.81 L596.75,92.91 L597.55,92.03 L598.35,91.15 L599.17,90.28 L599.99,89.42 L600.81,88.56 L601.65,87.71 L602.48,86.87 L603.33,86.04 L604.18,85.21 L605.03,84.38 L605.9,83.57 L606.77,82.76 L607.64,81.96 L608.52,81.16 L609.41,80.38 L610.3,79.59 L611.19,78.82 L612.1,78.05 L613.01,77.29 L613.92,76.53 L614.84,75.78 L615.76,75.04 L616.69,74.31 L617.63,73.58 L618.57,72.85 L619.52,72.14 L620.47,71.42 L621.42,70.72 L622.38,70.02 L623.35,69.33 L624.32,68.64 L625.29,67.96 L626.28,67.29 L627.26,66.62 L628.25,65.96 L629.25,65.31 L630.24,64.66 L631.25,64.01 L632.26,63.38 L633.27,62.75 L634.29,62.12 L635.31,61.5 L636.33,60.89 L637.36,60.28 L638.4,59.68 L639.43,59.08 L640.48,58.49 L641.52,57.9 L642.57,57.32 L643.63,56.75 L644.68,56.18 L645.75,55.62 L646.81,55.06 L647.88,54.51 L648.95,53.96 L650.03,53.42 L651.11,52.89 L652.19,52.36 L653.28,51.83 L654.37,51.31 L655.46,50.8 L656.56,50.29 L657.66,49.78 L658.76,49.29 L659.87,48.79 L660.98,48.3 L662.09,47.82 L663.21,47.34 L664.33,46.87 L665.45,46.4 L666.57,45.94 L667.7,45.48 L668.83,45.03 L669.96,44.58 L671.09,44.14 L672.23,43.7 L673.37,43.26 L674.51,42.84 L675.66,42.41 L676.8,41.99 L677.95,41.58 L679.1,41.17 L680.25,40.76 L681.41,40.36 L682.57,39.97 L683.73,39.57 L684.89,39.19 L686.05,38.8 L687.22,38.43 L688.38,38.05 L689.55,37.68 L690.72,37.32 L691.89,36.96 L693.07,36.6 L694.24,36.25 L695.42,35.9 L696.6,35.56 L697.78,35.22 L698.96,34.88 L700.14,34.55 L701.32,34.22 L702.51,33.9 L703.69,33.58 L704.88,33.27 L706.06,32.96 L707.25,32.65 L708.44,32.35 L709.63,32.05 L710.82,31.75 L712.01,31.46 L713.21,31.17 L714.4,30.89 L715.59,30.61 L716.79,30.33 L717.98,30.06 L719.18,29.79 L720.37,29.52 L721.57,29.26 L722.76,29 L723.96,28.75 L725.15,28.5 L726.35,28.25 L727.55,28 L728.74,27.76 L729.94,27.53 L731.13,27.29 L732.33,27.06 L733.53,26.83 L734.72,26.61 L735.92,26.39 L737.11,26.17 L738.3,25.95 L739.5,25.74 L740.69,25.53 L741.88,25.33 L743.08,25.13 L744.27,24.93 L745.46,24.73 L746.65,24.54 L747.84,24.35 L749.02,24.16 L750.21,23.97 L751.4,23.79 L752.58,23.61 L753.76,23.44 L754.95,23.26 L756.13,23.09 L757.31,22.92 L758.49,22.76 L759.66,22.6 L760.84,22.43 L762.01,22.28 L763.19,22.12 L764.36,21.97 L765.53,21.82 L766.69,21.67 L767.86,21.53 L769.02,21.38 L770.19,21.24 L771.35,21.1 L772.51,20.97 L773.66,20.84 L774.82,20.7" stroke="#d62728" stroke-width="1.1" stroke-dasharray="4.45 1.95"/>
<path d="M509.73,199.3 L511.16,199.24 L512.55,199.13 L513.9,198.96 L515.21,198.75 L516.47,198.49 L517.7,198.18 L518.89,197.83 L520.04,197.43 L521.15,196.99 L522.24,196.52 L523.29,196 L524.3,195.45 L525.29,194.86 L526.25,194.24 L527.19,193.58 L528.09,192.9 L528.97,192.18 L529.83,191.44 L530.67,190.67 L531.49,189.87 L532.28,189.05 L533.06,188.21 L533.82,187.35 L534.57,186.47 L535.3,185.57 L536.02,184.66 L536.73,183.73 L537.43,182.78 L538.12,181.83 L538.8,180.87 L539.47,179.89 L540.14,178.91 L540.8,177.92 L541.46,176.92 L542.12,175.92 L542.77,174.91 L543.42,173.9 L544.06,172.88 L544.71,171.86 L545.35,170.84 L546,169.82 L546.64,168.8 L547.29,167.77 L547.93,166.75 L548.58,165.73 L549.24,164.72 L549.9,163.7 L550.56,162.69 L551.22,161.69 L551.89,160.68 L552.56,159.68 L553.24,158.68 L553.92,157.69 L554.6,156.7 L555.28,155.7 L555.97,154.71 L556.65,153.73 L557.34,152.74 L558.03,151.75 L558.72,150.77 L559.41,149.78 L560.1,148.8 L560.8,147.81 L561.49,146.83 L562.18,145.85 L562.87,144.86 L563.57,143.87 L564.26,142.89 L564.95,141.9 L565.64,140.91 L566.32,139.91 L567.01,138.92 L567.69,137.92 L568.38,136.93 L569.06,135.92 L569.73,134.92 L570.41,133.91 L571.08,132.9 L571.75,131.89 L572.41,130.87 L573.07,129.84 L573.73,128.82 L574.38,127.79 L575.03,126.75 L575.67,125.71 L576.31,124.66 L576.95,123.62 L577.59,122.57 L578.22,121.52 L578.85,120.46 L579.49,119.41 L580.12,118.36 L580.76,117.31 L581.39,116.26 L582.04,115.21 L582.68,114.17 L583.33,113.13 L583.98,112.1 L584.64,111.07 L585.3,110.05 L585.97,109.03 L586.65,108.02 L587.34,107.02 L588.03,106.03 L588.73,105.04 L589.44,104.06 L590.15,103.09 L590.87,102.12 L591.6,101.16 L592.34,100.21 L593.08,99.27 L593.83,98.33 L594.58,97.4 L595.35,96.48 L596.11,95.56 L596.89,94.65 L597.67,93.75 L598.46,92.85 L599.25,91.97 L600.05,91.08 L600.86,90.21 L601.68,89.34 L602.49,88.48 L603.32,87.62 L604.15,86.77 L604.99,85.93 L605.83,85.1 L606.68,84.27 L607.54,83.45 L608.4,82.63 L609.27,81.82 L610.14,81.02 L611.02,80.23 L611.91,79.44 L612.8,78.66 L613.69,77.88 L614.59,77.11 L615.5,76.35 L616.41,75.59 L617.33,74.84 L618.25,74.09 L619.18,73.35 L620.11,72.62 L621.05,71.9 L622,71.18 L622.94,70.46 L623.9,69.76 L624.86,69.05 L625.82,68.36 L626.79,67.67 L627.76,66.99 L628.74,66.31 L629.72,65.64 L630.71,64.97 L631.7,64.31 L632.69,63.66 L633.69,63.01 L634.7,62.37 L635.71,61.74 L636.72,61.11 L637.74,60.48 L638.76,59.86 L639.79,59.25 L640.82,58.64 L641.85,58.04 L642.89,57.45 L643.93,56.86 L644.98,56.27 L646.03,55.69 L647.08,55.12 L648.14,54.55 L649.2,53.99 L650.26,53.43 L651.33,52.88 L652.4,52.33 L653.48,51.79 L654.56,51.26 L655.64,50.73 L656.73,50.2 L657.81,49.68 L658.91,49.17 L660,48.66 L661.1,48.16 L662.2,47.66 L663.31,47.17 L664.41,46.68 L665.52,46.19 L666.64,45.72 L667.75,45.24 L668.87,44.78 L669.99,44.31 L671.12,43.85 L672.24,43.4 L673.37,42.95 L674.51,42.51 L675.64,42.07 L676.78,41.64 L677.92,41.21 L679.06,40.79 L680.2,40.37 L681.35,39.95 L682.5,39.54 L683.65,39.14 L684.8,38.74 L685.95,38.34 L687.11,37.95 L688.27,37.57 L689.43,37.19 L690.59,36.81 L691.75,36.44 L692.92,36.07 L694.08,35.7 L695.25,35.34 L696.42,34.99 L697.59,34.64 L698.77,34.29 L699.94,33.95 L701.12,33.62 L702.29,33.28 L703.47,32.95 L704.65,32.63 L705.83,32.31 L707.01,31.99 L708.19,31.68 L709.38,31.37 L710.56,31.07 L711.75,30.77 L712.93,30.47 L714.12,30.18 L715.31,29.9 L716.5,29.61 L717.68,29.33 L718.87,29.06 L720.06,28.79 L721.25,28.52 L722.44,28.25 L723.64,27.99 L724.83,27.74 L726.02,27.49 L727.21,27.24 L728.4,26.99 L729.6,26.75 L730.79,26.51 L731.98,26.28 L733.17,26.05 L734.36,25.82 L735.56,25.6 L736.75,25.38 L737.94,25.16 L739.13,24.95 L740.32,24.74 L741.51,24.54 L742.7,24.33 L743.89,24.14 L745.08,23.94 L746.27,23.75 L747.45,23.56 L748.64,23.37 L749.83,23.19 L751.01,23.01 L752.2,22.84 L753.38,22.67 L754.56,22.5 L755.74,22.33 L756.92,22.17 L758.1,22.01 L759.28,21.85 L760.46,21.7 L761.63,21.55 L762.81,21.4 L763.98,21.25 L765.15,21.11 L766.32,20.97 L767.49,20.84 L768.66,20.7" stroke="#9467bd" stroke-width="1.1" stroke-dasharray="4.45 1.95"/>
<path d="M507.26,199.31 L508.54,198.97 L509.8,198.6 L511.04,198.21 L512.25,197.81 L513.45,197.38 L514.62,196.93 L515.78,196.46 L516.91,195.97 L518.03,195.46 L519.12,194.94 L520.2,194.39 L521.26,193.83 L522.31,193.24 L523.33,192.64 L524.34,192.03 L525.33,191.39 L526.31,190.74 L527.27,190.07 L528.21,189.39 L529.14,188.69 L530.06,187.97 L530.96,187.24 L531.84,186.49 L532.72,185.73 L533.57,184.96 L534.42,184.17 L535.25,183.37 L536.07,182.56 L536.88,181.73 L537.67,180.89 L538.46,180.04 L539.23,179.18 L539.99,178.3 L540.75,177.41 L541.49,176.52 L542.22,175.61 L542.95,174.69 L543.66,173.77 L544.37,172.83 L545.06,171.89 L545.75,170.93 L546.44,169.97 L547.11,169 L547.78,168.02 L548.44,167.04 L549.1,166.04 L549.75,165.04 L550.39,164.04 L551.03,163.03 L551.66,162.01 L552.29,160.99 L552.92,159.96 L553.54,158.92 L554.16,157.89 L554.78,156.85 L555.39,155.8 L556,154.75 L556.61,153.7 L557.22,152.65 L557.82,151.59 L558.43,150.53 L559.03,149.47 L559.64,148.41 L560.24,147.35 L560.84,146.29 L561.45,145.22 L562.06,144.16 L562.66,143.1 L563.27,142.03 L563.88,140.97 L564.5,139.91 L565.11,138.85 L565.72,137.79 L566.34,136.73 L566.96,135.67 L567.58,134.61 L568.2,133.55 L568.83,132.49 L569.45,131.44 L570.08,130.39 L570.72,129.34 L571.35,128.29 L571.99,127.24 L572.63,126.19 L573.27,125.15 L573.92,124.11 L574.56,123.07 L575.22,122.04 L575.87,121.01 L576.53,119.98 L577.19,118.95 L577.86,117.93 L578.53,116.91 L579.2,115.89 L579.88,114.88 L580.56,113.87 L581.24,112.87 L581.93,111.87 L582.62,110.87 L583.32,109.88 L584.02,108.89 L584.73,107.91 L585.44,106.93 L586.16,105.96 L586.88,104.99 L587.61,104.02 L588.34,103.07 L589.07,102.11 L589.82,101.17 L590.56,100.22 L591.32,99.29 L592.07,98.36 L592.84,97.44 L593.61,96.52 L594.38,95.61 L595.17,94.7 L595.95,93.81 L596.75,92.91 L597.55,92.03 L598.35,91.15 L599.17,90.28 L599.99,89.42 L600.81,88.56 L601.65,87.71 L602.48,86.87 L603.33,86.04 L604.18,85.21 L605.03,84.38 L605.9,83.57 L606.77,82.76 L607.64,81.96 L608.52,81.16 L609.41,80.38 L610.3,79.59 L611.19,78.82 L612.1,78.05 L613.01,77.29 L613.92,76.53 L614.84,75.78 L615.76,75.04 L616.69,74.31 L617.63,73.58 L618.57,72.85 L619.52,72.14 L620.47,71.42 L621.42,70.72 L622.38,70.02 L623.35,69.33 L624.32,68.64 L625.29,67.96 L626.28,67.29 L627.26,66.62 L628.25,65.96 L629.25,65.31 L630.24,64.66 L631.25,64.01 L632.26,63.38 L633.27,62.75 L634.29,62.12 L635.31,61.5 L636.33,60.89 L637.36,60.28 L638.4,59.68 L639.43,59.08 L640.48,58.49 L641.52,57.9 L642.57,57.32 L643.63,56.75 L644.68,56.18 L645.75,55.62 L646.81,55.06 L647.88,54.51 L648.95,53.96 L650.03,53.42 L651.11,52.89 L652.19,52.36 L653.28,51.83 L654.37,51.31 L655.46,50.8 L656.56,50.29 L657.66,49.78 L658.76,49.29 L659.87,48.79 L660.98,48.3 L662.09,47.82 L663.21,47.34 L664.33,46.87 L665.45,46.4 L666.57,45.94 L667.7,45.48 L668.83,45.03 L669.96,44.58 L671.09,44.14 L672.23,43.7 L673.37,43.26 L674.51,42.84 L675.66,42.41 L676.8,41.99 L677.95,41.58 L679.1,41.17 L680.25,40.76 L681.41,40.36 L682.57,39.97 L683.73,39.57 L684.89,39.19 L686.05,38.8 L687.22,38.43 L688.38,38.05 L689.55,37.68 L690.72,37.32 L691.89,36.96 L693.07,36.6 L694.24,36.25 L695.42,35.9 L696.6,35.56 L697.78,35.22 L698.96,34.88 L700.14,34.55 L701.32,34.22 L702.51,33.9 L703.69,33.58 L704.88,33.27 L706.06,32.96 L707.25,32.65 L708.44,32.35 L709.63,32.05 L710.82,31.75 L712.01,31.46 L713.21,31.17 L714.4,30.89 L715.59,30.61 L716.79,30.33 L717.98,30.06 L719.18,29.79 L720.37,29.52 L721.57,29.26 L722.76,29 L723.96,28.75 L725.15,28.5 L726.35,28.25 L727.55,28 L728.74,27.76 L729.94,27.53 L731.13,27.29 L732.33,27.06 L733.53,26.83 L734.72,26.61 L735.92,26.39 L737.11,26.17 L738.3,25.95 L739.5,25.74 L740.69,25.53 L741.88,25.33 L743.08,25.13 L744.27,24.93 L745.46,24.73 L746.65,24.54 L747.84,24.35 L749.02,24.16 L750.21,23.97 L751.4,23.79 L752.58,23.61 L753.76,23.44 L754.95,23.26 L756.13,23.09 L757.31,22.92 L758.49,22.76 L759.66,22.6 L760.84,22.43 L762.01,22.28 L763.19,22.12 L764.36,21.97 L765.53,21.82 L766.69,21.67 L767.86,21.53 L769.02,21.38 L770.19,21.24 L771.35,21.1 L772.51,20.97 L773.66,20.84 L774.82,20.7" stroke="#8c564b" stroke-width="1.1" stroke-dasharray="4.45 1.95"/>
<path d="M507.27,199.32 L508.43,198.85 L509.57,198.37 L510.7,197.88 L511.82,197.37 L512.93,196.84 L514.02,196.31 L515.1,195.76 L516.16,195.19 L517.22,194.62 L518.26,194.03 L519.29,193.43 L520.31,192.81 L521.32,192.18 L522.32,191.54 L523.3,190.89 L524.27,190.23 L525.24,189.55 L526.19,188.87 L527.13,188.17 L528.07,187.46 L528.99,186.74 L529.9,186.01 L530.8,185.27 L531.69,184.51 L532.58,183.75 L533.45,182.98 L534.32,182.2 L535.17,181.41 L536.02,180.6 L536.86,179.79 L537.69,178.97 L538.51,178.14 L539.32,177.3 L540.13,176.46 L540.93,175.6 L541.72,174.74 L542.5,173.87 L543.28,172.99 L544.05,172.1 L544.81,171.2 L545.56,170.3 L546.31,169.39 L547.05,168.47 L547.79,167.55 L548.52,166.62 L549.25,165.68 L549.96,164.74 L550.68,163.79 L551.39,162.84 L552.09,161.88 L552.79,160.91 L553.48,159.94 L554.17,158.96 L554.85,157.98 L555.53,156.99 L556.2,156 L556.88,155 L557.54,154 L558.21,152.99 L558.87,151.99 L559.52,150.97 L560.18,149.96 L560.83,148.94 L561.48,147.91 L562.12,146.89 L562.77,145.86 L563.41,144.83 L564.05,143.79 L564.68,142.75 L565.32,141.72 L565.95,140.67 L566.58,139.63 L567.22,138.59 L567.84,137.54 L568.47,136.49 L569.1,135.45 L569.73,134.4 L570.36,133.35 L570.98,132.3 L571.61,131.24 L572.24,130.19 L572.87,129.14 L573.49,128.09 L574.12,127.04 L574.75,125.99 L575.38,124.94 L576.01,123.89 L576.65,122.84 L577.28,121.8 L577.92,120.75 L578.55,119.71 L579.19,118.67 L579.84,117.63 L580.48,116.59 L581.13,115.55 L581.78,114.52 L582.43,113.49 L583.08,112.46 L583.74,111.44 L584.41,110.42 L585.07,109.4 L585.74,108.38 L586.41,107.37 L587.09,106.37 L587.77,105.36 L588.46,104.37 L589.15,103.37 L589.84,102.38 L590.54,101.4 L591.25,100.42 L591.96,99.45 L592.67,98.48 L593.4,97.51 L594.12,96.56 L594.86,95.6 L595.59,94.66 L596.34,93.72 L597.09,92.79 L597.85,91.86 L598.62,90.94 L599.39,90.03 L600.17,89.12 L600.95,88.22 L601.74,87.33 L602.54,86.44 L603.35,85.57 L604.16,84.69 L604.98,83.83 L605.8,82.97 L606.63,82.12 L607.47,81.27 L608.31,80.43 L609.16,79.6 L610.01,78.77 L610.87,77.96 L611.74,77.14 L612.61,76.34 L613.49,75.54 L614.37,74.75 L615.26,73.96 L616.16,73.18 L617.06,72.41 L617.97,71.64 L618.88,70.89 L619.8,70.13 L620.72,69.39 L621.65,68.65 L622.59,67.92 L623.53,67.19 L624.47,66.47 L625.42,65.76 L626.38,65.05 L627.34,64.35 L628.3,63.66 L629.27,62.97 L630.25,62.29 L631.23,61.62 L632.21,60.95 L633.2,60.29 L634.2,59.63 L635.2,58.99 L636.2,58.34 L637.21,57.71 L638.22,57.08 L639.24,56.46 L640.26,55.84 L641.29,55.23 L642.32,54.63 L643.36,54.04 L644.4,53.45 L645.44,52.86 L646.49,52.29 L647.54,51.71 L648.6,51.15 L649.66,50.59 L650.72,50.04 L651.79,49.5 L652.86,48.96 L653.94,48.43 L655.02,47.9 L656.1,47.38 L657.19,46.87 L658.28,46.36 L659.38,45.86 L660.47,45.37 L661.57,44.88 L662.68,44.4 L663.79,43.92 L664.9,43.45 L666.01,42.99 L667.13,42.53 L668.25,42.08 L669.38,41.64 L670.5,41.2 L671.63,40.77 L672.77,40.35 L673.9,39.93 L675.04,39.51 L676.18,39.11 L677.33,38.71 L678.48,38.31 L679.63,37.93 L680.78,37.54 L681.94,37.17 L683.09,36.8 L684.25,36.44 L685.42,36.08 L686.58,35.73 L687.75,35.38 L688.92,35.04 L690.09,34.7 L691.26,34.37 L692.44,34.05 L693.61,33.73 L694.79,33.41 L695.97,33.1 L697.15,32.8 L698.34,32.5 L699.52,32.2 L700.71,31.91 L701.9,31.63 L703.08,31.34 L704.27,31.07 L705.46,30.79 L706.66,30.52 L707.85,30.26 L709.04,29.99 L710.24,29.74 L711.43,29.48 L712.63,29.23 L713.83,28.98 L715.02,28.74 L716.22,28.5 L717.42,28.26 L718.62,28.03 L719.82,27.8 L721.01,27.57 L722.21,27.35 L723.41,27.12 L724.61,26.9 L725.81,26.69 L727.01,26.47 L728.21,26.26 L729.4,26.05 L730.6,25.84 L731.8,25.64 L732.99,25.43 L734.19,25.23 L735.38,25.03 L736.58,24.83 L737.77,24.64 L738.96,24.44 L740.15,24.25 L741.34,24.05 L742.53,23.86 L743.72,23.67 L744.9,23.48 L746.09,23.3 L747.27,23.11 L748.45,22.92 L749.64,22.74 L750.81,22.55 L751.99,22.36 L753.17,22.18 L754.34,22 L755.51,21.81 L756.68,21.63 L757.85,21.44 L759.01,21.26 L760.17,21.08 L761.33,20.89 L762.49,20.71" stroke="#e377c2" stroke-width="1.1" stroke-dasharray="4.45 1.95"/>
<path d="M507.26,199.31 L508.54,198.96 L509.8,198.6 L511.03,198.21 L512.25,197.81 L513.44,197.38 L514.62,196.93 L515.77,196.46 L516.91,195.97 L518.02,195.46 L519.12,194.93 L520.2,194.39 L521.26,193.82 L522.3,193.24 L523.33,192.64 L524.34,192.02 L525.33,191.39 L526.31,190.73 L527.27,190.07 L528.21,189.38 L529.14,188.68 L530.05,187.96 L530.95,187.23 L531.84,186.49 L532.71,185.73 L533.57,184.95 L534.41,184.17 L535.25,183.36 L536.07,182.55 L536.87,181.72 L537.67,180.88 L538.45,180.03 L539.23,179.17 L539.99,178.29 L540.74,177.41 L541.48,176.51 L542.22,175.6 L542.94,174.69 L543.66,173.76 L544.36,172.82 L545.06,171.88 L545.75,170.93 L546.43,169.96 L547.11,168.99 L547.78,168.01 L548.44,167.03 L549.09,166.04 L549.74,165.04 L550.39,164.03 L551.03,163.02 L551.66,162 L552.29,160.98 L552.92,159.95 L553.54,158.92 L554.16,157.88 L554.78,156.84 L555.39,155.8 L556,154.75 L556.61,153.7 L557.22,152.64 L557.82,151.59 L558.43,150.53 L559.03,149.47 L559.64,148.41 L560.24,147.35 L560.85,146.28 L561.45,145.22 L562.06,144.16 L562.67,143.1 L563.28,142.03 L563.89,140.97 L564.5,139.91 L565.11,138.85 L565.73,137.78 L566.35,136.72 L566.96,135.66 L567.59,134.61 L568.21,133.55 L568.83,132.49 L569.46,131.44 L570.09,130.39 L570.72,129.34 L571.36,128.29 L571.99,127.24 L572.63,126.19 L573.28,125.15 L573.92,124.11 L574.57,123.07 L575.22,122.04 L575.88,121.01 L576.54,119.98 L577.2,118.95 L577.87,117.93 L578.53,116.91 L579.21,115.9 L579.88,114.88 L580.57,113.87 L581.25,112.87 L581.94,111.87 L582.63,110.87 L583.33,109.88 L584.03,108.89 L584.74,107.91 L585.45,106.93 L586.17,105.96 L586.89,104.99 L587.62,104.03 L588.35,103.07 L589.08,102.12 L589.83,101.17 L590.57,100.23 L591.33,99.29 L592.08,98.36 L592.85,97.44 L593.62,96.52 L594.39,95.61 L595.18,94.71 L595.96,93.81 L596.76,92.92 L597.56,92.03 L598.36,91.16 L599.18,90.29 L600,89.42 L600.82,88.57 L601.66,87.72 L602.49,86.87 L603.34,86.04 L604.19,85.21 L605.04,84.39 L605.91,83.57 L606.77,82.76 L607.65,81.96 L608.53,81.16 L609.41,80.38 L610.31,79.59 L611.2,78.82 L612.11,78.05 L613.01,77.29 L613.93,76.53 L614.85,75.78 L615.77,75.04 L616.7,74.3 L617.64,73.57 L618.58,72.85 L619.52,72.13 L620.47,71.42 L621.43,70.71 L622.39,70.02 L623.35,69.32 L624.32,68.64 L625.3,67.96 L626.28,67.28 L627.26,66.62 L628.25,65.95 L629.25,65.3 L630.25,64.65 L631.25,64 L632.26,63.37 L633.27,62.73 L634.29,62.11 L635.31,61.49 L636.33,60.87 L637.36,60.26 L638.4,59.66 L639.43,59.06 L640.48,58.47 L641.52,57.89 L642.57,57.31 L643.63,56.73 L644.68,56.16 L645.75,55.6 L646.81,55.04 L647.88,54.49 L648.95,53.94 L650.03,53.4 L651.11,52.87 L652.19,52.34 L653.28,51.81 L654.37,51.29 L655.46,50.78 L656.56,50.27 L657.66,49.76 L658.76,49.27 L659.87,48.77 L660.98,48.28 L662.09,47.8 L663.2,47.32 L664.32,46.85 L665.44,46.38 L666.57,45.92 L667.69,45.46 L668.82,45.01 L669.95,44.56 L671.09,44.12 L672.22,43.68 L673.36,43.24 L674.51,42.82 L675.65,42.39 L676.8,41.97 L677.95,41.56 L679.1,41.15 L680.25,40.74 L681.41,40.34 L682.56,39.95 L683.72,39.55 L684.88,39.17 L686.05,38.79 L687.21,38.41 L688.38,38.03 L689.55,37.66 L690.72,37.3 L691.89,36.94 L693.06,36.58 L694.24,36.23 L695.42,35.89 L696.6,35.54 L697.77,35.2 L698.96,34.87 L700.14,34.54 L701.32,34.21 L702.51,33.89 L703.69,33.57 L704.88,33.26 L706.07,32.95 L707.25,32.64 L708.44,32.34 L709.63,32.04 L710.83,31.75 L712.02,31.46 L713.21,31.17 L714.4,30.89 L715.6,30.61 L716.79,30.33 L717.99,30.06 L719.18,29.79 L720.38,29.53 L721.58,29.27 L722.77,29.01 L723.97,28.76 L725.17,28.51 L726.36,28.26 L727.56,28.02 L728.76,27.78 L729.95,27.54 L731.15,27.31 L732.35,27.08 L733.54,26.86 L734.74,26.63 L735.94,26.41 L737.13,26.2 L738.33,25.98 L739.52,25.78 L740.72,25.57 L741.91,25.37 L743.1,25.17 L744.3,24.97 L745.49,24.77 L746.68,24.58 L747.87,24.4 L749.06,24.21 L750.25,24.03 L751.43,23.85 L752.62,23.67 L753.81,23.5 L754.99,23.33 L756.17,23.16 L757.36,23 L758.54,22.83 L759.71,22.67 L760.89,22.52 L762.07,22.36 L763.24,22.21 L764.42,22.06 L765.59,21.91 L766.76,21.77 L767.93,21.63 L769.09,21.49 L770.26,21.35 L771.42,21.22 L772.58,21.09 L773.74,20.96 L774.9,20.83 L776.05,20.7" stroke="#7f7f7f" stroke-width="1.1" stroke-dasharray="4.45 1.95"/>
<path d="M506.04,199.32 L507.23,198.88 L508.39,198.42 L509.54,197.95 L510.67,197.46 L511.79,196.95 L512.9,196.43 L513.99,195.9 L515.07,195.35 L516.13,194.78 L517.18,194.2 L518.21,193.61 L519.23,193 L520.24,192.37 L521.24,191.74 L522.22,191.09 L523.19,190.42 L524.15,189.75 L525.09,189.06 L526.02,188.36 L526.94,187.64 L527.85,186.91 L528.75,186.17 L529.64,185.42 L530.52,184.66 L531.38,183.89 L532.24,183.1 L533.08,182.31 L533.91,181.5 L534.74,180.68 L535.55,179.85 L536.36,179.01 L537.16,178.17 L537.94,177.31 L538.72,176.44 L539.49,175.56 L540.25,174.68 L541,173.78 L541.75,172.88 L542.49,171.97 L543.22,171.04 L543.94,170.12 L544.65,169.18 L545.36,168.24 L546.06,167.28 L546.75,166.33 L547.44,165.36 L548.12,164.39 L548.8,163.41 L549.47,162.42 L550.14,161.43 L550.79,160.43 L551.45,159.43 L552.1,158.42 L552.74,157.41 L553.38,156.39 L554.02,155.36 L554.65,154.33 L555.28,153.3 L555.9,152.26 L556.52,151.22 L557.14,150.18 L557.76,149.13 L558.37,148.07 L558.98,147.02 L559.58,145.96 L560.19,144.9 L560.79,143.83 L561.39,142.77 L561.99,141.7 L562.59,140.63 L563.19,139.56 L563.78,138.48 L564.38,137.41 L564.97,136.33 L565.56,135.25 L566.16,134.18 L566.75,133.1 L567.35,132.02 L567.94,130.94 L568.54,129.86 L569.13,128.79 L569.73,127.71 L570.33,126.63 L570.93,125.56 L571.53,124.48 L572.14,123.41 L572.75,122.34 L573.35,121.27 L573.97,120.2 L574.58,119.14 L575.2,118.07 L575.82,117.01 L576.44,115.96 L577.07,114.9 L577.7,113.85 L578.34,112.81 L578.98,111.76 L579.62,110.72 L580.27,109.69 L580.93,108.66 L581.58,107.63 L582.25,106.61 L582.92,105.59 L583.59,104.58 L584.27,103.57 L584.95,102.57 L585.64,101.57 L586.34,100.58 L587.03,99.59 L587.74,98.61 L588.45,97.63 L589.16,96.66 L589.88,95.69 L590.61,94.73 L591.34,93.77 L592.07,92.82 L592.81,91.87 L593.56,90.93 L594.31,90 L595.06,89.07 L595.83,88.14 L596.59,87.23 L597.36,86.31 L598.14,85.41 L598.93,84.51 L599.71,83.61 L600.51,82.72 L601.31,81.84 L602.11,80.97 L602.92,80.1 L603.74,79.23 L604.56,78.38 L605.39,77.53 L606.22,76.68 L607.06,75.85 L607.91,75.02 L608.76,74.19 L609.61,73.38 L610.48,72.57 L611.34,71.76 L612.22,70.97 L613.1,70.18 L613.98,69.4 L614.87,68.62 L615.77,67.85 L616.67,67.09 L617.58,66.34 L618.49,65.6 L619.42,64.86 L620.34,64.13 L621.27,63.41 L622.21,62.69 L623.16,61.98 L624.11,61.28 L625.07,60.59 L626.03,59.91 L627,59.23 L627.97,58.57 L628.95,57.91 L629.94,57.25 L630.94,56.61 L631.94,55.98 L632.94,55.35 L633.96,54.73 L634.97,54.12 L636,53.52 L637.03,52.92 L638.06,52.33 L639.1,51.75 L640.15,51.18 L641.2,50.62 L642.26,50.06 L643.32,49.51 L644.38,48.97 L645.46,48.43 L646.53,47.9 L647.61,47.38 L648.7,46.86 L649.79,46.36 L650.89,45.86 L651.98,45.36 L653.09,44.87 L654.2,44.39 L655.31,43.92 L656.42,43.45 L657.54,42.99 L658.67,42.53 L659.8,42.08 L660.93,41.64 L662.06,41.2 L663.2,40.77 L664.34,40.34 L665.49,39.92 L666.63,39.51 L667.78,39.1 L668.94,38.7 L670.1,38.3 L671.26,37.91 L672.42,37.52 L673.58,37.14 L674.75,36.76 L675.92,36.39 L677.09,36.02 L678.27,35.66 L679.45,35.3 L680.62,34.95 L681.81,34.6 L682.99,34.26 L684.17,33.92 L685.36,33.59 L686.55,33.26 L687.74,32.94 L688.93,32.62 L690.12,32.3 L691.31,31.99 L692.51,31.68 L693.7,31.37 L694.9,31.07 L696.1,30.78 L697.3,30.48 L698.5,30.19 L699.7,29.91 L700.9,29.63 L702.1,29.35 L703.3,29.07 L704.5,28.8 L705.7,28.53 L706.9,28.26 L708.1,28 L709.31,27.74 L710.51,27.48 L711.71,27.23 L712.91,26.98 L714.11,26.73 L715.31,26.48 L716.5,26.24 L717.7,25.99 L718.9,25.75 L720.1,25.52 L721.29,25.28 L722.48,25.05 L723.68,24.82 L724.87,24.59 L726.06,24.36 L727.25,24.14 L728.43,23.91 L729.62,23.69 L730.8,23.47 L731.98,23.25 L733.16,23.03 L734.34,22.82 L735.51,22.6 L736.68,22.39 L737.85,22.18 L739.02,21.97 L740.19,21.75 L741.35,21.55 L742.51,21.34 L743.67,21.13 L744.82,20.92 L745.97,20.71" stroke="#bcbd22" stroke-width="1.1" stroke-dasharray="4.45 1.95"/>
<path d="M496.43,199.32 L497.42,198.66 L498.39,197.99 L499.37,197.31 L500.33,196.62 L501.29,195.93 L502.25,195.23 L503.2,194.53 L504.15,193.82 L505.09,193.1 L506.03,192.37 L506.96,191.64 L507.89,190.9 L508.81,190.15 L509.73,189.4 L510.64,188.64 L511.55,187.88 L512.46,187.11 L513.36,186.34 L514.25,185.55 L515.15,184.77 L516.04,183.97 L516.92,183.18 L517.8,182.37 L518.68,181.56 L519.55,180.75 L520.42,179.93 L521.29,179.11 L522.15,178.28 L523.01,177.45 L523.87,176.61 L524.72,175.77 L525.57,174.92 L526.42,174.07 L527.26,173.21 L528.1,172.35 L528.94,171.49 L529.77,170.62 L530.61,169.75 L531.44,168.88 L532.26,168 L533.09,167.12 L533.91,166.23 L534.73,165.34 L535.55,164.45 L536.36,163.56 L537.18,162.66 L537.99,161.76 L538.8,160.86 L539.61,159.95 L540.41,159.05 L541.22,158.14 L542.02,157.22 L542.82,156.31 L543.62,155.39 L544.42,154.47 L545.21,153.55 L546.01,152.63 L546.8,151.7 L547.6,150.78 L548.39,149.85 L549.18,148.92 L549.97,147.99 L550.76,147.06 L551.55,146.13 L552.34,145.2 L553.12,144.26 L553.91,143.33 L554.7,142.4 L555.48,141.46 L556.27,140.52 L557.06,139.59 L557.84,138.65 L558.63,137.71 L559.41,136.78 L560.2,135.84 L560.98,134.91 L561.77,133.97 L562.56,133.03 L563.34,132.1 L564.13,131.17 L564.92,130.23 L565.71,129.3 L566.5,128.37 L567.29,127.44 L568.08,126.51 L568.87,125.58 L569.66,124.65 L570.46,123.73 L571.25,122.8 L572.05,121.88 L572.85,120.96 L573.65,120.04 L574.45,119.13 L575.25,118.21 L576.05,117.3 L576.86,116.39 L577.67,115.48 L578.48,114.58 L579.29,113.68 L580.1,112.78 L580.92,111.88 L581.73,110.99 L582.55,110.1 L583.37,109.21 L584.2,108.33 L585.03,107.45 L585.86,106.57 L586.69,105.7 L587.52,104.83 L588.36,103.96 L589.2,103.1 L590.04,102.24 L590.89,101.38 L591.74,100.53 L592.59,99.69 L593.45,98.85 L594.31,98.01 L595.17,97.18 L596.03,96.35 L596.9,95.53 L597.78,94.71 L598.65,93.9 L599.53,93.09 L600.42,92.29 L601.31,91.49 L602.2,90.7 L603.09,89.92 L603.99,89.14 L604.9,88.36 L605.8,87.59 L606.72,86.83 L607.63,86.07 L608.55,85.31 L609.47,84.57 L610.4,83.82 L611.33,83.09 L612.26,82.35 L613.2,81.63 L614.14,80.9 L615.09,80.19 L616.03,79.48 L616.99,78.77 L617.94,78.07 L618.9,77.38 L619.86,76.69 L620.83,76 L621.8,75.32 L622.77,74.65 L623.75,73.98 L624.73,73.32 L625.71,72.66 L626.7,72.01 L627.69,71.36 L628.68,70.72 L629.68,70.08 L630.68,69.45 L631.68,68.82 L632.69,68.2 L633.7,67.59 L634.71,66.98 L635.73,66.37 L636.75,65.77 L637.77,65.17 L638.8,64.59 L639.83,64 L640.86,63.42 L641.89,62.85 L642.93,62.28 L643.97,61.72 L645.02,61.16 L646.07,60.6 L647.12,60.06 L648.17,59.51 L649.22,58.97 L650.28,58.44 L651.35,57.91 L652.41,57.39 L653.48,56.88 L654.55,56.36 L655.62,55.86 L656.7,55.36 L657.78,54.86 L658.86,54.37 L659.94,53.88 L661.03,53.4 L662.12,52.92 L663.21,52.45 L664.31,51.99 L665.41,51.53 L666.51,51.07 L667.61,50.62 L668.72,50.18 L669.83,49.74 L670.94,49.3 L672.05,48.87 L673.17,48.45 L674.28,48.03 L675.4,47.61 L676.53,47.2 L677.65,46.8 L678.78,46.4 L679.91,46 L681.04,45.61 L682.18,45.23 L683.32,44.85 L684.46,44.48 L685.6,44.11 L686.74,43.74 L687.89,43.38 L689.04,43.03 L690.19,42.68 L691.34,42.34 L692.5,42 L693.65,41.66 L694.81,41.33 L695.98,41.01 L697.14,40.69 L698.3,40.38 L699.47,40.07 L700.64,39.76 L701.81,39.46 L702.99,39.17 L704.16,38.88 L705.34,38.6 L706.52,38.32 L707.7,38.04 L708.88,37.77 L710.07,37.51 L711.26,37.24 L712.44,36.99 L713.63,36.74 L714.82,36.49 L716.02,36.24 L717.21,36 L718.41,35.77 L719.6,35.54 L720.8,35.31 L722,35.08 L723.2,34.86 L724.41,34.65 L725.61,34.43 L726.81,34.22 L728.02,34.02 L729.22,33.81 L730.43,33.61 L731.64,33.41 L732.85,33.22 L734.06,33.03 L735.27,32.84 L736.48,32.65 L737.69,32.47 L738.91,32.29 L740.12,32.11 L741.34,31.94 L742.55,31.76 L743.77,31.59 L744.98,31.42 L746.2,31.25 L747.41,31.09 L748.63,30.93 L749.85,30.76 L751.06,30.6 L752.28,30.45 L753.5,30.29 L754.72,30.13 L755.93,29.98 L757.15,29.83 L758.37,29.68 L759.58,29.53 L760.8,29.38 L762.02,29.23 L763.24,29.08 L764.45,28.94 L765.67,28.79 L766.88,28.64 L768.1,28.5 L769.31,28.35 L770.53,28.21 L771.74,28.07 L772.95,27.92 L774.17,27.78 L775.38,27.64 L776.59,27.49 L777.8,27.35 L779.01,27.2 L780.22,27.06 L781.42,26.92 L782.63,26.77 L783.84,26.62 L785.04,26.48 L786.24,26.33 L787.45,26.18 L788.65,26.03 L789.85,25.88 L791.05,25.73 L792.24,25.58 L793.44,25.43 L794.63,25.27 L795.83,25.12 L797.02,24.96 L798.21,24.8 L799.39,24.64 L800.58,24.47 L801.77,24.31 L802.95,24.14 L804.13,23.97 L805.31,23.8 L806.49,23.63 L807.66,23.45 L808.84,23.28 L810.01,23.1 L811.18,22.91 L812.35,22.73 L813.51,22.54 L814.67,22.35 L815.84,22.16 L816.99,21.96 L818.15,21.76 L819.3,21.56 L820.46,21.35 L821.61,21.14 L822.75,20.93 L823.9,20.71" stroke="#17becf" stroke-width="1.1" stroke-dasharray="4.45 1.95"/>
</g>
<path d="M482.6,199.3V21H852.5V199.3Z" fill="none" stroke="#474747" stroke-width="1"/>
<path d="M482.6,199.3v2.4M531.92,199.3v2.4M581.24,199.3v2.4M630.56,199.3v2.4M679.88,199.3v2.4M729.2,199.3v2.4M778.52,199.3v2.4M827.84,199.3v2.4M482.6,199.3h-3.2M482.6,163.58h-3.2M482.6,127.86h-3.2M482.6,92.14h-3.2M482.6,56.42h-3.2M482.6,20.7h-3.2" stroke="#474747" stroke-width="0.9" fill="none"/>
<text x="482.6" y="209.2" font-size="7" text-anchor="middle" textLength="4.62" lengthAdjust="spacingAndGlyphs">0</text>
<text x="531.92" y="209.2" font-size="7" text-anchor="middle" textLength="13.85" lengthAdjust="spacingAndGlyphs">200</text>
<text x="581.24" y="209.2" font-size="7" text-anchor="middle" textLength="13.85" lengthAdjust="spacingAndGlyphs">400</text>
<text x="630.56" y="209.2" font-size="7" text-anchor="middle" textLength="13.85" lengthAdjust="spacingAndGlyphs">600</text>
<text x="679.88" y="209.2" font-size="7" text-anchor="middle" textLength="13.85" lengthAdjust="spacingAndGlyphs">800</text>
<text x="729.2" y="209.2" font-size="7" text-anchor="middle" textLength="18.46" lengthAdjust="spacingAndGlyphs">1000</text>
<text x="778.52" y="209.2" font-size="7" text-anchor="middle" textLength="18.46" lengthAdjust="spacingAndGlyphs">1200</text>
<text x="827.84" y="209.2" font-size="7" text-anchor="middle" textLength="18.46" lengthAdjust="spacingAndGlyphs">1400</text>
<text x="476.42" y="202.4" font-size="7" text-anchor="end" textLength="11.3" lengthAdjust="spacingAndGlyphs">0.0</text>
<text x="476.42" y="166.68" font-size="7" text-anchor="end" textLength="11.3" lengthAdjust="spacingAndGlyphs">0.2</text>
<text x="476.42" y="130.96" font-size="7" text-anchor="end" textLength="11.3" lengthAdjust="spacingAndGlyphs">0.4</text>
<text x="476.42" y="95.24" font-size="7" text-anchor="end" textLength="11.3" lengthAdjust="spacingAndGlyphs">0.6</text>
<text x="476.42" y="59.52" font-size="7" text-anchor="end" textLength="11.3" lengthAdjust="spacingAndGlyphs">0.8</text>
<text x="476.42" y="23.8" font-size="7" text-anchor="end" textLength="11.3" lengthAdjust="spacingAndGlyphs">1.0</text>
<text x="666.05" y="220.6" font-size="10.3" text-anchor="middle" textLength="50.32" lengthAdjust="spacingAndGlyphs">Grainsize</text>
<text transform="translate(458.12,110) scale(1.066,1) rotate(-90)" x="0" y="0" font-size="10.3" text-anchor="middle" textLength="74.3" lengthAdjust="spacingAndGlyphs">Cumulative Value</text>
<rect x="718.7" y="72.7" width="128.3" height="122.3" rx="1.8" fill="#ffffff" fill-opacity="0.8" stroke="#dcdcdc" stroke-width="0.9"/>
<path d="M722.4,79.3H743.3" stroke="#1f77b4" stroke-width="2.9" stroke-linecap="square"/>
<path d="M722.4,91.32H743.3" stroke="#ff7f0e" stroke-width="2.9" stroke-linecap="square"/>
<path d="M722.4,103.34H743.3" stroke="#2ca02c" stroke-width="1.1" stroke-dasharray="4.74 2.08"/>
<path d="M722.4,115.36H743.3" stroke="#d62728" stroke-width="1.1" stroke-dasharray="4.74 2.08"/>
<path d="M722.4,127.38H743.3" stroke="#9467bd" stroke-width="1.1" stroke-dasharray="4.74 2.08"/>
<path d="M722.4,139.4H743.3" stroke="#8c564b" stroke-width="1.1" stroke-dasharray="4.74 2.08"/>
<path d="M722.4,151.42H743.3" stroke="#e377c2" stroke-width="1.1" stroke-dasharray="4.74 2.08"/>
<path d="M722.4,163.44H743.3" stroke="#7f7f7f" stroke-width="1.1" stroke-dasharray="4.74 2.08"/>
<path d="M722.4,175.46H743.3" stroke="#bcbd22" stroke-width="1.1" stroke-dasharray="4.74 2.08"/>
<path d="M722.4,187.48H743.3" stroke="#17becf" stroke-width="1.1" stroke-dasharray="4.74 2.08"/>
<text x="0" y="0" font-size="8.7" transform="translate(750.8,82.25) scale(1.21,1)">Laser measurement</text>
<text x="0" y="0" font-size="8.7" transform="translate(750.8,94.27) scale(1.21,1)">Sedihist</text>
<text x="0" y="0" font-size="8.7" transform="translate(750.8,106.29) scale(1.21,1)">Resnet50_hist</text>
<text x="0" y="0" font-size="8.7" transform="translate(750.8,118.31) scale(1.21,1)">VGG_hist</text>
<text x="0" y="0" font-size="8.7" transform="translate(750.8,130.33) scale(1.21,1)">DeepTen</text>
<text x="0" y="0" font-size="8.7" transform="translate(750.8,142.35) scale(1.21,1)">Resnet50</text>
<text x="0" y="0" font-size="8.7" transform="translate(750.8,154.37) scale(1.21,1)">Resnet18</text>
<text x="0" y="0" font-size="8.7" transform="translate(750.8,166.39) scale(1.21,1)">VGG</text>
<text x="0" y="0" font-size="8.7" transform="translate(750.8,178.41) scale(1.21,1)">Sedinet</text>
<text x="0" y="0" font-size="8.7" transform="translate(750.8,190.43) scale(1.21,1)">Wavelet</text>
<text x="661.2" y="252.9" font-family='"Liberation Serif", serif' font-size="24.5" text-anchor="middle" textLength="28.0" lengthAdjust="spacingAndGlyphs" fill="#000">(<tspan font-weight="bold">b</tspan>)</text>
<rect x="10" y="261" width="386" height="231.5" fill="#fcfcfc"/>
<clipPath id="clipc"><rect x="46.25" y="288.6" width="347.45" height="178.7"/></clipPath>
<path d="M46.25,288.6V467.3M92.58,288.6V467.3M138.9,288.6V467.3M185.23,288.6V467.3M231.56,288.6V467.3M277.88,288.6V467.3M324.21,288.6V467.3M370.54,288.6V467.3M46.25,467.3H393.7M46.25,431.56H393.7M46.25,395.82H393.7M46.25,360.08H393.7M46.25,324.34H393.7M46.25,288.6H393.7" stroke="#d4d4d4" stroke-width="1" fill="none"/>
<g clip-path="url(#clipc)" fill="none" stroke-linejoin="round">
<path d="M71.73,467.3 L72.92,466.81 L74.09,466.31 L75.25,465.79 L76.39,465.25 L77.51,464.7 L78.62,464.13 L79.71,463.54 L80.78,462.94 L81.84,462.32 L82.88,461.69 L83.91,461.04 L84.92,460.38 L85.92,459.71 L86.9,459.01 L87.87,458.31 L88.82,457.59 L89.76,456.86 L90.69,456.12 L91.6,455.36 L92.5,454.59 L93.39,453.81 L94.27,453.02 L95.13,452.21 L95.98,451.4 L96.82,450.57 L97.65,449.73 L98.47,448.88 L99.27,448.02 L100.07,447.15 L100.85,446.27 L101.63,445.38 L102.39,444.48 L103.14,443.57 L103.89,442.65 L104.63,441.72 L105.35,440.79 L106.07,439.84 L106.78,438.89 L107.48,437.93 L108.18,436.96 L108.86,435.99 L109.54,435.01 L110.21,434.02 L110.88,433.03 L111.54,432.03 L112.19,431.02 L112.83,430.01 L113.47,428.99 L114.1,427.97 L114.73,426.94 L115.36,425.91 L115.97,424.87 L116.59,423.83 L117.2,422.79 L117.8,421.74 L118.4,420.69 L119,419.63 L119.59,418.57 L120.18,417.51 L120.77,416.45 L121.36,415.39 L121.94,414.32 L122.52,413.25 L123.1,412.18 L123.68,411.11 L124.25,410.04 L124.83,408.97 L125.4,407.89 L125.97,406.82 L126.54,405.74 L127.11,404.67 L127.68,403.59 L128.25,402.51 L128.82,401.43 L129.39,400.36 L129.96,399.28 L130.53,398.2 L131.1,397.13 L131.67,396.05 L132.24,394.97 L132.81,393.9 L133.38,392.82 L133.96,391.75 L134.53,390.68 L135.11,389.61 L135.69,388.53 L136.27,387.47 L136.85,386.4 L137.44,385.33 L138.02,384.27 L138.61,383.2 L139.21,382.14 L139.8,381.09 L140.4,380.03 L141.01,378.98 L141.61,377.92 L142.22,376.87 L142.84,375.83 L143.45,374.78 L144.07,373.74 L144.7,372.71 L145.33,371.67 L145.97,370.64 L146.61,369.61 L147.25,368.59 L147.9,367.57 L148.56,366.55 L149.22,365.54 L149.88,364.53 L150.55,363.52 L151.23,362.52 L151.92,361.53 L152.61,360.54 L153.31,359.55 L154.01,358.57 L154.72,357.59 L155.44,356.62 L156.16,355.65 L156.89,354.69 L157.63,353.73 L158.37,352.78 L159.12,351.83 L159.88,350.89 L160.64,349.96 L161.41,349.03 L162.19,348.1 L162.97,347.18 L163.76,346.27 L164.56,345.37 L165.36,344.47 L166.17,343.58 L166.98,342.69 L167.8,341.81 L168.63,340.94 L169.47,340.07 L170.31,339.21 L171.16,338.36 L172.01,337.51 L172.87,336.68 L173.74,335.84 L174.61,335.02 L175.49,334.21 L176.38,333.4 L177.27,332.6 L178.17,331.8 L179.08,331.02 L179.99,330.24 L180.91,329.47 L181.83,328.71 L182.76,327.96 L183.7,327.22 L184.64,326.48 L185.59,325.76 L186.55,325.04 L187.51,324.33 L188.48,323.63 L189.45,322.94 L190.43,322.26 L191.42,321.58 L192.42,320.92 L193.42,320.27 L194.42,319.62 L195.43,318.99 L196.45,318.36 L197.48,317.75 L198.51,317.14 L199.55,316.55 L200.59,315.96 L201.64,315.38 L202.69,314.81 L203.75,314.26 L204.81,313.71 L205.88,313.16 L206.96,312.63 L208.04,312.11 L209.13,311.59 L210.22,311.09 L211.31,310.59 L212.41,310.1 L213.51,309.61 L214.62,309.14 L215.73,308.67 L216.85,308.21 L217.97,307.76 L219.1,307.31 L220.23,306.87 L221.36,306.44 L222.49,306.02 L223.63,305.6 L224.78,305.19 L225.92,304.79 L227.07,304.39 L228.22,304 L229.38,303.61 L230.53,303.23 L231.7,302.86 L232.86,302.49 L234.02,302.13 L235.19,301.77 L236.36,301.42 L237.53,301.07 L238.71,300.73 L239.88,300.4 L241.06,300.07 L242.24,299.74 L243.42,299.42 L244.6,299.1 L245.79,298.79 L246.97,298.48 L248.16,298.17 L249.35,297.87 L250.53,297.57 L251.72,297.28 L252.91,296.99 L254.1,296.71 L255.29,296.42 L256.48,296.14 L257.67,295.87 L258.86,295.59 L260.05,295.32 L261.25,295.05 L262.44,294.79 L263.63,294.52 L264.82,294.26 L266,294 L267.19,293.75 L268.38,293.49 L269.57,293.24 L270.75,292.99 L271.94,292.74 L273.12,292.49 L274.3,292.24 L275.48,292 L276.66,291.75 L277.84,291.51 L279.01,291.26 L280.18,291.02 L281.35,290.78 L282.52,290.54 L283.69,290.3 L284.85,290.05 L286.01,289.81 L287.17,289.57 L288.33,289.33 L289.48,289.09 L290.63,288.84 L291.78,288.6" stroke="#1f77b4" stroke-width="3.5"/>
<path d="M64.78,467.3 L66.03,466.93 L67.26,466.54 L68.47,466.13 L69.65,465.69 L70.82,465.22 L71.97,464.74 L73.1,464.23 L74.2,463.7 L75.29,463.15 L76.36,462.58 L77.41,461.99 L78.44,461.37 L79.46,460.74 L80.46,460.09 L81.44,459.42 L82.4,458.73 L83.35,458.02 L84.28,457.3 L85.19,456.56 L86.09,455.8 L86.98,455.02 L87.85,454.23 L88.7,453.42 L89.55,452.6 L90.37,451.76 L91.19,450.91 L91.99,450.05 L92.77,449.17 L93.55,448.28 L94.31,447.37 L95.06,446.45 L95.8,445.53 L96.53,444.59 L97.25,443.63 L97.96,442.67 L98.65,441.7 L99.34,440.72 L100.02,439.73 L100.69,438.73 L101.34,437.72 L102,436.7 L102.64,435.68 L103.27,434.65 L103.9,433.61 L104.52,432.57 L105.13,431.51 L105.74,430.46 L106.34,429.4 L106.93,428.33 L107.52,427.26 L108.11,426.18 L108.68,425.11 L109.26,424.03 L109.83,422.94 L110.39,421.86 L110.96,420.77 L111.51,419.68 L112.07,418.59 L112.62,417.5 L113.18,416.41 L113.72,415.32 L114.27,414.22 L114.82,413.14 L115.36,412.05 L115.91,410.96 L116.45,409.88 L117,408.79 L117.54,407.71 L118.08,406.63 L118.63,405.55 L119.17,404.48 L119.72,403.4 L120.27,402.33 L120.81,401.26 L121.36,400.19 L121.91,399.12 L122.47,398.06 L123.02,396.99 L123.58,395.93 L124.14,394.87 L124.71,393.82 L125.27,392.76 L125.84,391.71 L126.42,390.66 L127,389.62 L127.58,388.57 L128.16,387.53 L128.75,386.5 L129.35,385.46 L129.95,384.43 L130.56,383.4 L131.17,382.37 L131.78,381.35 L132.41,380.33 L133.04,379.31 L133.67,378.3 L134.31,377.28 L134.96,376.28 L135.62,375.27 L136.28,374.27 L136.95,373.27 L137.62,372.28 L138.3,371.28 L138.98,370.29 L139.68,369.31 L140.37,368.32 L141.08,367.34 L141.79,366.36 L142.5,365.39 L143.22,364.41 L143.94,363.44 L144.67,362.48 L145.41,361.51 L146.15,360.55 L146.89,359.59 L147.64,358.63 L148.4,357.67 L149.16,356.72 L149.92,355.77 L150.69,354.82 L151.47,353.88 L152.25,352.94 L153.03,352 L153.82,351.07 L154.62,350.15 L155.42,349.23 L156.22,348.31 L157.04,347.4 L157.85,346.49 L158.68,345.59 L159.5,344.69 L160.34,343.81 L161.18,342.92 L162.02,342.05 L162.87,341.18 L163.73,340.31 L164.59,339.46 L165.46,338.61 L166.34,337.77 L167.22,336.94 L168.11,336.11 L169,335.29 L169.9,334.49 L170.81,333.69 L171.72,332.9 L172.64,332.11 L173.56,331.34 L174.49,330.58 L175.43,329.83 L176.38,329.08 L177.33,328.35 L178.29,327.63 L179.25,326.92 L180.22,326.22 L181.2,325.53 L182.19,324.85 L183.18,324.18 L184.18,323.53 L185.18,322.88 L186.2,322.25 L187.21,321.63 L188.24,321.02 L189.27,320.42 L190.31,319.83 L191.35,319.25 L192.4,318.67 L193.45,318.11 L194.51,317.56 L195.58,317.02 L196.65,316.48 L197.72,315.96 L198.8,315.44 L199.89,314.93 L200.97,314.43 L202.07,313.93 L203.16,313.45 L204.26,312.97 L205.37,312.49 L206.48,312.03 L207.59,311.56 L208.7,311.11 L209.82,310.66 L210.94,310.22 L212.06,309.78 L213.19,309.35 L214.32,308.92 L215.45,308.5 L216.58,308.08 L217.72,307.66 L218.85,307.25 L219.99,306.85 L221.13,306.44 L222.27,306.04 L223.41,305.65 L224.56,305.25 L225.7,304.86 L226.85,304.48 L228,304.09 L229.15,303.71 L230.3,303.34 L231.45,302.96 L232.61,302.6 L233.76,302.23 L234.92,301.87 L236.07,301.51 L237.23,301.15 L238.39,300.8 L239.55,300.45 L240.71,300.11 L241.87,299.77 L243.04,299.43 L244.2,299.1 L245.37,298.77 L246.53,298.44 L247.7,298.12 L248.87,297.8 L250.04,297.48 L251.21,297.17 L252.38,296.86 L253.55,296.56 L254.72,296.26 L255.9,295.96 L257.07,295.67 L258.24,295.38 L259.42,295.09 L260.59,294.81 L261.77,294.53 L262.95,294.25 L264.12,293.98 L265.3,293.71 L266.48,293.45 L267.66,293.19 L268.84,292.93 L270.02,292.68 L271.2,292.43 L272.38,292.18 L273.56,291.94 L274.74,291.7 L275.92,291.47 L277.1,291.24 L278.28,291.01 L279.47,290.79 L280.65,290.57 L281.83,290.36 L283.01,290.15 L284.2,289.94 L285.38,289.74 L286.56,289.54 L287.74,289.34 L288.93,289.15 L290.11,288.96 L291.29,288.78 L292.48,288.6" stroke="#ff7f0e" stroke-width="3.5"/>
<path d="M63.63,467.31 L64.77,466.8 L65.9,466.27 L67.01,465.72 L68.11,465.16 L69.18,464.58 L70.25,463.99 L71.3,463.39 L72.33,462.77 L73.35,462.13 L74.35,461.48 L75.35,460.82 L76.32,460.15 L77.28,459.46 L78.23,458.75 L79.17,458.04 L80.09,457.31 L81,456.57 L81.9,455.81 L82.78,455.05 L83.66,454.27 L84.52,453.48 L85.37,452.68 L86.2,451.87 L87.03,451.05 L87.84,450.21 L88.65,449.37 L89.44,448.51 L90.22,447.65 L90.99,446.77 L91.76,445.89 L92.51,444.99 L93.25,444.09 L93.99,443.17 L94.71,442.25 L95.43,441.32 L96.13,440.38 L96.83,439.43 L97.52,438.47 L98.2,437.51 L98.88,436.53 L99.54,435.55 L100.2,434.57 L100.86,433.57 L101.5,432.57 L102.14,431.56 L102.77,430.55 L103.4,429.53 L104.02,428.5 L104.63,427.47 L105.24,426.43 L105.84,425.38 L106.44,424.34 L107.04,423.28 L107.62,422.22 L108.21,421.16 L108.79,420.09 L109.36,419.02 L109.93,417.94 L110.5,416.86 L111.07,415.78 L111.63,414.69 L112.19,413.6 L112.74,412.51 L113.3,411.41 L113.85,410.31 L114.4,409.21 L114.95,408.11 L115.49,407.01 L116.04,405.9 L116.58,404.79 L117.12,403.68 L117.66,402.57 L118.2,401.46 L118.75,400.35 L119.29,399.24 L119.83,398.12 L120.37,397.01 L120.91,395.9 L121.45,394.79 L122,393.68 L122.54,392.57 L123.09,391.46 L123.64,390.35 L124.19,389.24 L124.74,388.14 L125.29,387.04 L125.85,385.94 L126.41,384.84 L126.98,383.74 L127.54,382.65 L128.11,381.56 L128.69,380.47 L129.26,379.39 L129.85,378.31 L130.43,377.23 L131.02,376.16 L131.62,375.09 L132.22,374.03 L132.83,372.97 L133.44,371.91 L134.05,370.86 L134.68,369.82 L135.31,368.78 L135.94,367.75 L136.58,366.72 L137.23,365.7 L137.89,364.68 L138.55,363.67 L139.22,362.67 L139.9,361.68 L140.59,360.69 L141.28,359.71 L141.99,358.74 L142.7,357.77 L143.42,356.81 L144.14,355.86 L144.88,354.92 L145.62,353.98 L146.38,353.06 L147.14,352.14 L147.9,351.22 L148.68,350.32 L149.46,349.42 L150.25,348.53 L151.05,347.64 L151.85,346.77 L152.67,345.9 L153.49,345.04 L154.31,344.18 L155.15,343.33 L155.99,342.49 L156.84,341.66 L157.7,340.84 L158.56,340.02 L159.43,339.21 L160.3,338.4 L161.19,337.6 L162.07,336.81 L162.97,336.03 L163.87,335.25 L164.78,334.49 L165.7,333.72 L166.62,332.97 L167.54,332.22 L168.48,331.48 L169.42,330.74 L170.36,330.02 L171.31,329.3 L172.27,328.58 L173.23,327.88 L174.2,327.18 L175.18,326.48 L176.16,325.8 L177.14,325.12 L178.13,324.44 L179.13,323.78 L180.13,323.12 L181.13,322.46 L182.14,321.82 L183.16,321.18 L184.18,320.55 L185.21,319.92 L186.24,319.3 L187.27,318.69 L188.31,318.08 L189.36,317.48 L190.41,316.89 L191.46,316.3 L192.52,315.72 L193.58,315.15 L194.65,314.58 L195.72,314.02 L196.79,313.46 L197.87,312.91 L198.95,312.37 L200.04,311.83 L201.13,311.31 L202.22,310.78 L203.32,310.26 L204.42,309.75 L205.52,309.25 L206.63,308.75 L207.74,308.26 L208.86,307.77 L209.97,307.29 L211.09,306.82 L212.22,306.35 L213.35,305.89 L214.47,305.44 L215.61,304.99 L216.74,304.54 L217.88,304.11 L219.02,303.67 L220.16,303.25 L221.31,302.83 L222.46,302.42 L223.61,302.01 L224.76,301.61 L225.92,301.21 L227.07,300.82 L228.23,300.44 L229.39,300.06 L230.55,299.69 L231.72,299.32 L232.89,298.96 L234.05,298.6 L235.22,298.26 L236.39,297.91 L237.57,297.57 L238.74,297.24 L239.92,296.91 L241.09,296.59 L242.27,296.28 L243.45,295.97 L244.63,295.66 L245.81,295.37 L246.99,295.07 L248.18,294.78 L249.36,294.5 L250.54,294.23 L251.73,293.95 L252.91,293.69 L254.1,293.43 L255.28,293.17 L256.47,292.92 L257.66,292.68 L258.84,292.44 L260.03,292.21 L261.22,291.98 L262.4,291.76 L263.59,291.54 L264.78,291.32 L265.96,291.12 L267.15,290.92 L268.34,290.72 L269.52,290.53 L270.7,290.34 L271.89,290.16 L273.07,289.98 L274.25,289.81 L275.44,289.64 L276.62,289.48 L277.8,289.33 L278.97,289.17 L280.15,289.03 L281.33,288.89 L282.5,288.75 L283.68,288.62" stroke="#2ca02c" stroke-width="1.1" stroke-dasharray="4.45 1.95"/>
<path d="M67.11,467.31 L68.29,466.83 L69.46,466.33 L70.61,465.81 L71.74,465.27 L72.86,464.72 L73.96,464.16 L75.05,463.58 L76.12,462.98 L77.17,462.37 L78.21,461.75 L79.24,461.11 L80.25,460.45 L81.24,459.79 L82.23,459.1 L83.2,458.41 L84.15,457.7 L85.09,456.98 L86.02,456.25 L86.94,455.5 L87.84,454.74 L88.73,453.97 L89.61,453.19 L90.48,452.4 L91.34,451.59 L92.18,450.78 L93.01,449.95 L93.84,449.11 L94.65,448.26 L95.45,447.4 L96.24,446.54 L97.02,445.66 L97.8,444.77 L98.56,443.87 L99.31,442.97 L100.06,442.05 L100.79,441.13 L101.52,440.2 L102.24,439.26 L102.95,438.31 L103.66,437.36 L104.35,436.39 L105.04,435.42 L105.73,434.45 L106.4,433.46 L107.07,432.47 L107.73,431.48 L108.39,430.48 L109.04,429.47 L109.69,428.46 L110.33,427.44 L110.97,426.41 L111.6,425.38 L112.22,424.35 L112.85,423.31 L113.46,422.27 L114.08,421.23 L114.69,420.18 L115.3,419.12 L115.9,418.07 L116.5,417.01 L117.1,415.95 L117.7,414.88 L118.3,413.81 L118.89,412.75 L119.48,411.67 L120.07,410.6 L120.66,409.53 L121.25,408.45 L121.84,407.38 L122.42,406.3 L123.01,405.22 L123.6,404.15 L124.18,403.07 L124.77,401.99 L125.36,400.92 L125.95,399.84 L126.54,398.76 L127.14,397.69 L127.73,396.62 L128.33,395.55 L128.93,394.48 L129.53,393.41 L130.14,392.35 L130.74,391.29 L131.35,390.23 L131.97,389.17 L132.59,388.12 L133.21,387.07 L133.84,386.02 L134.47,384.98 L135.1,383.94 L135.75,382.91 L136.39,381.88 L137.04,380.86 L137.7,379.84 L138.36,378.82 L139.03,377.82 L139.71,376.82 L140.39,375.82 L141.08,374.83 L141.78,373.84 L142.48,372.86 L143.18,371.89 L143.9,370.92 L144.62,369.96 L145.34,369.01 L146.08,368.06 L146.81,367.11 L147.56,366.17 L148.31,365.24 L149.07,364.31 L149.83,363.39 L150.6,362.47 L151.37,361.56 L152.15,360.66 L152.93,359.76 L153.72,358.87 L154.52,357.98 L155.32,357.1 L156.13,356.22 L156.94,355.35 L157.76,354.49 L158.59,353.63 L159.42,352.77 L160.25,351.93 L161.09,351.08 L161.94,350.25 L162.79,349.42 L163.65,348.59 L164.51,347.77 L165.37,346.96 L166.25,346.15 L167.12,345.35 L168.01,344.55 L168.89,343.76 L169.79,342.98 L170.68,342.2 L171.58,341.42 L172.49,340.65 L173.4,339.89 L174.32,339.13 L175.24,338.38 L176.17,337.64 L177.1,336.9 L178.03,336.16 L178.97,335.43 L179.92,334.71 L180.87,333.99 L181.82,333.28 L182.78,332.58 L183.74,331.88 L184.71,331.18 L185.68,330.49 L186.66,329.81 L187.64,329.13 L188.62,328.46 L189.61,327.79 L190.6,327.13 L191.6,326.47 L192.6,325.82 L193.61,325.18 L194.62,324.54 L195.63,323.91 L196.65,323.28 L197.67,322.66 L198.69,322.04 L199.72,321.43 L200.75,320.82 L201.79,320.22 L202.83,319.63 L203.87,319.04 L204.92,318.46 L205.97,317.88 L207.03,317.31 L208.08,316.74 L209.15,316.18 L210.21,315.63 L211.28,315.08 L212.35,314.53 L213.43,314 L214.5,313.46 L215.59,312.94 L216.67,312.41 L217.76,311.9 L218.85,311.39 L219.95,310.88 L221.04,310.38 L222.14,309.89 L223.25,309.4 L224.35,308.92 L225.46,308.44 L226.58,307.97 L227.69,307.5 L228.81,307.04 L229.93,306.58 L231.06,306.13 L232.18,305.69 L233.31,305.25 L234.44,304.82 L235.58,304.39 L236.72,303.97 L237.85,303.55 L239,303.14 L240.14,302.73 L241.29,302.33 L242.44,301.94 L243.59,301.55 L244.74,301.16 L245.9,300.79 L247.06,300.41 L248.22,300.05 L249.38,299.68 L250.55,299.33 L251.71,298.98 L252.88,298.63 L254.06,298.29 L255.23,297.96 L256.4,297.63 L257.58,297.3 L258.76,296.99 L259.94,296.67 L261.12,296.37 L262.31,296.06 L263.49,295.77 L264.68,295.48 L265.87,295.19 L267.06,294.91 L268.25,294.64 L269.45,294.37 L270.64,294.1 L271.84,293.85 L273.04,293.59 L274.24,293.35 L275.44,293.1 L276.64,292.87 L277.84,292.64 L279.05,292.41 L280.26,292.19 L281.46,291.98 L282.67,291.77 L283.88,291.56 L285.09,291.36 L286.3,291.17 L287.51,290.98 L288.73,290.8 L289.94,290.62 L291.16,290.45 L292.37,290.29 L293.59,290.12 L294.81,289.97 L296.03,289.82 L297.24,289.67 L298.46,289.54 L299.68,289.4 L300.9,289.27 L302.13,289.15 L303.35,289.03 L304.57,288.92 L305.79,288.81 L307.01,288.71 L308.24,288.61" stroke="#d62728" stroke-width="1.1" stroke-dasharray="4.45 1.95"/>
<path d="M74.05,467.3 L75.4,467.19 L76.72,467.02 L78,466.77 L79.24,466.47 L80.44,466.1 L81.61,465.69 L82.74,465.24 L83.84,464.74 L84.91,464.21 L85.95,463.65 L86.96,463.07 L87.93,462.47 L88.88,461.86 L89.81,461.23 L90.78,460.46 L91.69,459.56 L92.44,458.57 L92.91,457.55 L93.22,456.45 L93.46,455.27 L93.67,454.04 L93.86,452.8 L94.05,451.58 L94.25,450.39 L94.45,449.19 L94.63,448 L94.82,446.8 L94.99,445.61 L95.17,444.41 L95.35,443.22 L95.54,442.02 L95.73,440.83 L95.92,439.63 L96.11,438.44 L96.3,437.25 L96.49,436.05 L96.68,434.86 L96.87,433.67 L97.06,432.47 L97.25,431.28 L97.44,430.08 L97.61,428.88 L97.78,427.68 L97.95,426.47 L98.12,425.27 L98.31,424.07 L98.5,422.88 L98.71,421.7 L98.94,420.52 L99.19,419.36 L99.47,418.2 L99.78,417.04 L100.11,415.88 L100.46,414.73 L100.83,413.57 L101.22,412.42 L101.63,411.28 L102.05,410.13 L102.5,409 L102.95,407.86 L103.42,406.73 L103.91,405.61 L104.4,404.49 L104.9,403.37 L105.41,402.26 L105.93,401.16 L106.46,400.07 L106.99,398.98 L107.52,397.9 L108.05,396.83 L108.59,395.76 L109.14,394.71 L109.72,393.66 L110.32,392.63 L110.95,391.6 L111.59,390.58 L112.25,389.57 L112.93,388.57 L113.62,387.57 L114.31,386.57 L115.02,385.58 L115.72,384.59 L116.43,383.6 L117.14,382.61 L117.85,381.62 L118.55,380.62 L119.24,379.62 L119.93,378.62 L120.59,377.61 L121.25,376.59 L121.9,375.57 L122.54,374.53 L123.18,373.49 L123.82,372.44 L124.45,371.39 L125.08,370.35 L125.72,369.3 L126.36,368.27 L127.01,367.24 L127.67,366.22 L128.33,365.21 L129.01,364.21 L129.71,363.24 L130.42,362.28 L131.14,361.34 L131.89,360.43 L132.66,359.54 L133.45,358.67 L134.27,357.81 L135.11,356.97 L135.97,356.14 L136.84,355.32 L137.73,354.51 L138.64,353.72 L139.56,352.93 L140.49,352.15 L141.43,351.37 L142.38,350.61 L143.34,349.84 L144.3,349.08 L145.26,348.32 L146.22,347.56 L147.18,346.8 L148.14,346.04 L149.1,345.28 L150.04,344.51 L150.99,343.74 L151.92,342.96 L152.84,342.18 L153.75,341.38 L154.66,340.58 L155.57,339.78 L156.47,338.97 L157.37,338.15 L158.27,337.34 L159.17,336.52 L160.07,335.7 L160.97,334.88 L161.87,334.07 L162.77,333.26 L163.68,332.45 L164.58,331.64 L165.49,330.85 L166.41,330.06 L167.33,329.27 L168.26,328.5 L169.19,327.74 L170.13,326.99 L171.07,326.25 L172.03,325.52 L172.99,324.81 L173.97,324.11 L174.95,323.42 L175.93,322.72 L176.92,322.02 L177.92,321.32 L178.93,320.62 L179.94,319.92 L180.95,319.23 L181.98,318.55 L183,317.87 L184.04,317.21 L185.08,316.56 L186.12,315.92 L187.17,315.29 L188.23,314.69 L189.29,314.1 L190.36,313.53 L191.43,312.99 L192.51,312.47 L193.59,311.98 L194.68,311.51 L195.77,311.07 L196.87,310.66 L197.97,310.26 L199.09,309.87 L200.21,309.49 L201.35,309.12 L202.48,308.76 L203.63,308.41 L204.78,308.07 L205.94,307.74 L207.1,307.41 L208.27,307.09 L209.44,306.78 L210.62,306.48 L211.8,306.18 L212.98,305.89 L214.17,305.6 L215.36,305.32 L216.55,305.05 L217.74,304.77 L218.94,304.51 L220.13,304.24 L221.33,303.98 L222.52,303.73 L223.72,303.47 L224.91,303.22 L226.11,302.97 L227.3,302.72 L228.49,302.47 L229.68,302.22 L230.86,301.97 L232.04,301.72 L233.22,301.48 L234.41,301.25 L235.59,301.02 L236.78,300.8 L237.97,300.58 L239.16,300.37 L240.35,300.16 L241.55,299.96 L242.74,299.76 L243.94,299.57 L245.13,299.38 L246.33,299.19 L247.53,299 L248.73,298.82 L249.93,298.63 L251.12,298.45 L252.32,298.27 L253.52,298.09 L254.72,297.9 L255.92,297.72 L257.12,297.53 L258.31,297.35 L259.51,297.16 L260.7,296.96 L261.9,296.77 L263.09,296.57 L264.28,296.36 L265.47,296.16 L266.66,295.94 L267.85,295.72 L269.03,295.5 L270.22,295.27 L271.4,295.03 L272.57,294.78 L273.75,294.53 L274.92,294.27 L276.1,294 L277.26,293.72 L278.43,293.42 L279.59,293.11 L280.75,292.78 L281.91,292.44 L283.07,292.09 L284.22,291.73 L285.37,291.36 L286.53,290.98 L287.67,290.59 L288.82,290.2 L289.97,289.81 L291.11,289.41 L292.26,289 L293.4,288.6" stroke="#9467bd" stroke-width="1.1" stroke-dasharray="4.45 1.95"/>
<path d="M67.11,467.31 L68.3,466.83 L69.47,466.34 L70.63,465.82 L71.76,465.29 L72.89,464.75 L73.99,464.19 L75.08,463.61 L76.16,463.02 L77.22,462.41 L78.26,461.79 L79.29,461.15 L80.31,460.5 L81.31,459.84 L82.29,459.16 L83.27,458.47 L84.22,457.76 L85.17,457.04 L86.1,456.31 L87.02,455.57 L87.93,454.81 L88.82,454.05 L89.7,453.27 L90.57,452.47 L91.43,451.67 L92.27,450.86 L93.11,450.03 L93.93,449.19 L94.75,448.35 L95.55,447.49 L96.34,446.62 L97.12,445.75 L97.9,444.86 L98.66,443.96 L99.41,443.06 L100.16,442.15 L100.9,441.22 L101.62,440.29 L102.34,439.35 L103.05,438.41 L103.76,437.45 L104.45,436.49 L105.14,435.52 L105.82,434.54 L106.5,433.56 L107.17,432.57 L107.83,431.57 L108.49,430.57 L109.14,429.56 L109.78,428.55 L110.42,427.53 L111.06,426.51 L111.68,425.48 L112.31,424.44 L112.93,423.4 L113.55,422.36 L114.16,421.31 L114.77,420.26 L115.37,419.21 L115.98,418.15 L116.58,417.09 L117.17,416.03 L117.77,414.96 L118.36,413.9 L118.95,412.83 L119.54,411.75 L120.13,410.68 L120.72,409.61 L121.3,408.53 L121.89,407.45 L122.47,406.37 L123.06,405.3 L123.64,404.22 L124.23,403.14 L124.81,402.06 L125.4,400.98 L125.99,399.9 L126.58,398.83 L127.17,397.75 L127.76,396.68 L128.35,395.61 L128.95,394.54 L129.55,393.47 L130.15,392.4 L130.76,391.34 L131.37,390.28 L131.98,389.22 L132.59,388.17 L133.21,387.11 L133.84,386.07 L134.47,385.02 L135.1,383.99 L135.74,382.95 L136.38,381.92 L137.03,380.9 L137.69,379.88 L138.35,378.86 L139.02,377.85 L139.69,376.85 L140.37,375.85 L141.06,374.86 L141.75,373.87 L142.45,372.89 L143.16,371.92 L143.87,370.95 L144.59,369.99 L145.32,369.03 L146.05,368.08 L146.78,367.13 L147.53,366.19 L148.27,365.26 L149.03,364.33 L149.79,363.41 L150.56,362.49 L151.33,361.58 L152.11,360.67 L152.89,359.77 L153.68,358.88 L154.48,357.99 L155.28,357.11 L156.09,356.23 L156.9,355.36 L157.72,354.5 L158.54,353.64 L159.37,352.78 L160.21,351.94 L161.05,351.09 L161.89,350.26 L162.74,349.43 L163.6,348.6 L164.46,347.78 L165.33,346.97 L166.2,346.16 L167.08,345.36 L167.96,344.56 L168.85,343.77 L169.74,342.98 L170.64,342.2 L171.54,341.43 L172.45,340.66 L173.36,339.9 L174.28,339.14 L175.2,338.39 L176.12,337.64 L177.05,336.9 L177.99,336.17 L178.93,335.44 L179.88,334.72 L180.83,334 L181.78,333.29 L182.74,332.58 L183.7,331.88 L184.67,331.19 L185.64,330.5 L186.62,329.81 L187.6,329.14 L188.59,328.46 L189.57,327.8 L190.57,327.13 L191.57,326.48 L192.57,325.83 L193.57,325.18 L194.58,324.55 L195.6,323.91 L196.62,323.29 L197.64,322.66 L198.66,322.05 L199.69,321.44 L200.73,320.83 L201.76,320.23 L202.8,319.64 L203.85,319.05 L204.9,318.47 L205.95,317.89 L207,317.32 L208.06,316.75 L209.13,316.19 L210.19,315.64 L211.26,315.09 L212.33,314.54 L213.41,314.01 L214.49,313.47 L215.57,312.95 L216.66,312.42 L217.75,311.91 L218.84,311.4 L219.94,310.89 L221.03,310.39 L222.14,309.9 L223.24,309.41 L224.35,308.93 L225.46,308.45 L226.57,307.98 L227.69,307.51 L228.81,307.05 L229.93,306.6 L231.06,306.15 L232.18,305.7 L233.31,305.26 L234.45,304.83 L235.58,304.4 L236.72,303.98 L237.86,303.57 L239,303.15 L240.15,302.75 L241.3,302.35 L242.45,301.95 L243.6,301.56 L244.75,301.18 L245.91,300.8 L247.07,300.43 L248.23,300.06 L249.39,299.7 L250.56,299.34 L251.73,298.99 L252.9,298.65 L254.07,298.31 L255.24,297.97 L256.42,297.64 L257.6,297.32 L258.78,297 L259.96,296.69 L261.14,296.38 L262.32,296.08 L263.51,295.78 L264.7,295.49 L265.89,295.21 L267.08,294.93 L268.27,294.65 L269.47,294.38 L270.66,294.12 L271.86,293.86 L273.06,293.61 L274.26,293.36 L275.46,293.12 L276.66,292.88 L277.86,292.65 L279.07,292.43 L280.27,292.2 L281.48,291.99 L282.69,291.78 L283.9,291.58 L285.11,291.38 L286.32,291.18 L287.53,290.99 L288.74,290.81 L289.96,290.63 L291.17,290.46 L292.39,290.3 L293.6,290.13 L294.82,289.98 L296.04,289.83 L297.25,289.68 L298.47,289.54 L299.69,289.41 L300.91,289.28 L302.13,289.15 L303.35,289.04 L304.57,288.92 L305.79,288.81 L307.02,288.71 L308.24,288.61" stroke="#8c564b" stroke-width="1.1" stroke-dasharray="4.45 1.95"/>
<path d="M65.95,467.32 L67.1,466.8 L68.23,466.27 L69.35,465.73 L70.45,465.17 L71.54,464.6 L72.62,464.02 L73.68,463.42 L74.72,462.81 L75.76,462.18 L76.78,461.55 L77.79,460.9 L78.78,460.23 L79.76,459.56 L80.73,458.87 L81.69,458.17 L82.63,457.46 L83.57,456.73 L84.49,456 L85.4,455.25 L86.3,454.49 L87.19,453.72 L88.06,452.95 L88.93,452.16 L89.78,451.36 L90.63,450.55 L91.47,449.72 L92.29,448.89 L93.11,448.06 L93.91,447.21 L94.71,446.35 L95.5,445.48 L96.28,444.61 L97.05,443.72 L97.81,442.83 L98.57,441.93 L99.31,441.02 L100.05,440.1 L100.78,439.18 L101.51,438.24 L102.22,437.3 L102.93,436.36 L103.63,435.4 L104.33,434.44 L105.02,433.48 L105.7,432.51 L106.38,431.53 L107.05,430.54 L107.72,429.55 L108.38,428.55 L109.03,427.55 L109.68,426.55 L110.33,425.54 L110.97,424.52 L111.6,423.5 L112.24,422.47 L112.86,421.44 L113.49,420.41 L114.11,419.37 L114.73,418.33 L115.34,417.29 L115.95,416.24 L116.56,415.19 L117.17,414.14 L117.77,413.08 L118.37,412.02 L118.97,410.96 L119.57,409.9 L120.17,408.84 L120.76,407.77 L121.36,406.7 L121.95,405.63 L122.54,404.56 L123.13,403.49 L123.73,402.42 L124.32,401.35 L124.91,400.28 L125.5,399.21 L126.09,398.13 L126.68,397.06 L127.28,395.99 L127.87,394.92 L128.47,393.85 L129.07,392.78 L129.67,391.71 L130.27,390.64 L130.87,389.58 L131.47,388.52 L132.08,387.45 L132.69,386.4 L133.31,385.34 L133.92,384.29 L134.54,383.23 L135.17,382.19 L135.79,381.14 L136.43,380.1 L137.06,379.06 L137.7,378.03 L138.34,376.99 L138.99,375.97 L139.65,374.95 L140.3,373.93 L140.97,372.91 L141.63,371.9 L142.31,370.9 L142.98,369.9 L143.66,368.9 L144.35,367.91 L145.04,366.92 L145.74,365.94 L146.44,364.96 L147.14,363.98 L147.85,363.02 L148.57,362.05 L149.29,361.09 L150.02,360.14 L150.75,359.19 L151.48,358.25 L152.23,357.31 L152.97,356.38 L153.72,355.45 L154.48,354.53 L155.24,353.61 L156.01,352.7 L156.78,351.8 L157.56,350.9 L158.35,350.01 L159.13,349.12 L159.93,348.24 L160.73,347.36 L161.54,346.49 L162.35,345.63 L163.16,344.78 L163.99,343.93 L164.82,343.08 L165.65,342.24 L166.49,341.41 L167.34,340.59 L168.19,339.77 L169.04,338.96 L169.91,338.16 L170.78,337.36 L171.65,336.57 L172.53,335.79 L173.42,335.01 L174.31,334.24 L175.21,333.48 L176.12,332.73 L177.03,331.98 L177.95,331.24 L178.87,330.51 L179.8,329.78 L180.74,329.07 L181.68,328.36 L182.63,327.66 L183.58,326.96 L184.54,326.28 L185.51,325.6 L186.49,324.93 L187.47,324.27 L188.45,323.61 L189.45,322.97 L190.45,322.33 L191.45,321.7 L192.46,321.08 L193.48,320.47 L194.51,319.86 L195.54,319.26 L196.57,318.67 L197.61,318.08 L198.66,317.51 L199.71,316.94 L200.77,316.38 L201.83,315.82 L202.89,315.28 L203.97,314.73 L205.04,314.2 L206.13,313.67 L207.21,313.16 L208.3,312.64 L209.4,312.14 L210.5,311.64 L211.6,311.14 L212.71,310.66 L213.82,310.18 L214.94,309.71 L216.06,309.24 L217.19,308.78 L218.31,308.32 L219.45,307.87 L220.58,307.43 L221.72,307 L222.86,306.57 L224.01,306.14 L225.16,305.72 L226.31,305.31 L227.47,304.9 L228.62,304.5 L229.78,304.11 L230.95,303.72 L232.11,303.33 L233.28,302.95 L234.45,302.58 L235.63,302.21 L236.8,301.85 L237.98,301.49 L239.16,301.13 L240.34,300.78 L241.53,300.44 L242.71,300.1 L243.9,299.77 L245.09,299.44 L246.28,299.11 L247.47,298.79 L248.67,298.48 L249.86,298.17 L251.06,297.86 L252.25,297.56 L253.45,297.26 L254.65,296.97 L255.85,296.68 L257.05,296.39 L258.25,296.11 L259.45,295.83 L260.65,295.56 L261.86,295.29 L263.06,295.02 L264.26,294.76 L265.46,294.5 L266.66,294.24 L267.87,293.99 L269.07,293.74 L270.27,293.5 L271.47,293.25 L272.67,293.01 L273.87,292.78 L275.07,292.55 L276.27,292.32 L277.46,292.09 L278.66,291.86 L279.85,291.64 L281.05,291.42 L282.24,291.21 L283.43,291 L284.62,290.79 L285.81,290.58 L286.99,290.37 L288.18,290.17 L289.36,289.97 L290.54,289.77 L291.72,289.57 L292.9,289.38 L294.07,289.18 L295.24,288.99 L296.41,288.81 L297.58,288.62" stroke="#e377c2" stroke-width="1.1" stroke-dasharray="4.45 1.95"/>
<path d="M67.11,467.31 L68.26,466.82 L69.39,466.31 L70.5,465.78 L71.6,465.24 L72.69,464.69 L73.77,464.12 L74.83,463.54 L75.87,462.94 L76.91,462.33 L77.93,461.7 L78.94,461.07 L79.93,460.42 L80.92,459.75 L81.89,459.07 L82.85,458.38 L83.8,457.68 L84.74,456.97 L85.66,456.24 L86.58,455.5 L87.48,454.75 L88.38,453.99 L89.26,453.22 L90.13,452.43 L90.99,451.64 L91.85,450.83 L92.69,450.02 L93.52,449.19 L94.35,448.36 L95.16,447.51 L95.97,446.66 L96.76,445.79 L97.55,444.92 L98.33,444.04 L99.1,443.15 L99.87,442.25 L100.62,441.34 L101.37,440.42 L102.11,439.5 L102.84,438.57 L103.57,437.63 L104.29,436.68 L105,435.73 L105.71,434.76 L106.41,433.8 L107.1,432.82 L107.79,431.84 L108.47,430.86 L109.15,429.86 L109.82,428.86 L110.49,427.86 L111.15,426.85 L111.81,425.84 L112.46,424.82 L113.1,423.79 L113.75,422.77 L114.39,421.73 L115.02,420.7 L115.65,419.66 L116.28,418.61 L116.91,417.56 L117.53,416.51 L118.15,415.46 L118.77,414.4 L119.38,413.34 L119.99,412.28 L120.6,411.22 L121.21,410.15 L121.82,409.08 L122.42,408.01 L123.02,406.94 L123.63,405.87 L124.23,404.79 L124.83,403.72 L125.43,402.64 L126.03,401.57 L126.63,400.49 L127.22,399.42 L127.82,398.34 L128.42,397.26 L129.02,396.19 L129.63,395.12 L130.23,394.04 L130.83,392.97 L131.44,391.9 L132.04,390.83 L132.65,389.76 L133.26,388.7 L133.87,387.64 L134.49,386.58 L135.1,385.52 L135.72,384.46 L136.35,383.41 L136.97,382.36 L137.6,381.32 L138.23,380.27 L138.87,379.24 L139.51,378.2 L140.15,377.17 L140.8,376.15 L141.45,375.13 L142.11,374.11 L142.77,373.1 L143.44,372.1 L144.11,371.1 L144.79,370.1 L145.47,369.11 L146.16,368.13 L146.85,367.15 L147.55,366.19 L148.26,365.22 L148.97,364.27 L149.69,363.32 L150.42,362.38 L151.16,361.44 L151.9,360.51 L152.65,359.6 L153.4,358.69 L154.17,357.78 L154.94,356.89 L155.72,356 L156.5,355.12 L157.3,354.25 L158.1,353.39 L158.91,352.53 L159.72,351.68 L160.54,350.84 L161.37,350.01 L162.21,349.19 L163.05,348.37 L163.9,347.56 L164.76,346.76 L165.62,345.96 L166.49,345.17 L167.36,344.39 L168.25,343.62 L169.13,342.85 L170.03,342.09 L170.93,341.34 L171.84,340.6 L172.75,339.86 L173.67,339.13 L174.6,338.41 L175.53,337.69 L176.46,336.98 L177.41,336.28 L178.36,335.58 L179.31,334.89 L180.27,334.21 L181.24,333.54 L182.21,332.87 L183.18,332.2 L184.16,331.55 L185.15,330.9 L186.14,330.26 L187.14,329.62 L188.14,328.99 L189.15,328.37 L190.16,327.75 L191.18,327.14 L192.2,326.54 L193.23,325.94 L194.26,325.34 L195.3,324.76 L196.34,324.18 L197.38,323.6 L198.43,323.04 L199.48,322.47 L200.54,321.92 L201.61,321.37 L202.67,320.82 L203.74,320.29 L204.82,319.75 L205.9,319.23 L206.98,318.7 L208.07,318.19 L209.16,317.68 L210.25,317.17 L211.35,316.67 L212.45,316.18 L213.55,315.69 L214.66,315.21 L215.77,314.73 L216.89,314.26 L218.01,313.79 L219.13,313.33 L220.25,312.87 L221.38,312.42 L222.51,311.98 L223.65,311.54 L224.78,311.1 L225.92,310.67 L227.06,310.24 L228.21,309.82 L229.36,309.4 L230.51,308.99 L231.66,308.58 L232.81,308.18 L233.97,307.79 L235.13,307.39 L236.29,307 L237.46,306.62 L238.62,306.24 L239.79,305.87 L240.96,305.5 L242.13,305.13 L243.31,304.77 L244.48,304.41 L245.66,304.06 L246.84,303.71 L248.02,303.36 L249.2,303.02 L250.39,302.69 L251.57,302.35 L252.76,302.03 L253.95,301.7 L255.14,301.38 L256.33,301.06 L257.52,300.75 L258.71,300.44 L259.9,300.14 L261.1,299.84 L262.29,299.54 L263.49,299.24 L264.68,298.95 L265.88,298.67 L267.08,298.38 L268.28,298.1 L269.48,297.83 L270.67,297.55 L271.87,297.29 L273.07,297.02 L274.27,296.76 L275.47,296.5 L276.67,296.24 L277.87,295.99 L279.07,295.74 L280.27,295.49 L281.47,295.24 L282.67,295 L283.87,294.76 L285.07,294.53 L286.26,294.3 L287.46,294.07 L288.66,293.84 L289.85,293.62 L291.05,293.39 L292.24,293.18 L293.44,292.96 L294.63,292.75 L295.82,292.53 L297.01,292.33 L298.2,292.12 L299.39,291.92 L300.58,291.72 L301.76,291.52 L302.95,291.32 L304.13,291.12 L305.31,290.93 L306.49,290.74 L307.67,290.55 L308.85,290.37 L310.02,290.18 L311.2,290 L312.37,289.82 L313.54,289.64 L314.7,289.47 L315.87,289.29 L317.03,289.12 L318.19,288.95 L319.35,288.78 L320.51,288.61" stroke="#7f7f7f" stroke-width="1.1" stroke-dasharray="4.45 1.95"/>
<path d="M62.94,467.32 L64.06,466.75 L65.17,466.16 L66.25,465.55 L67.31,464.93 L68.36,464.3 L69.39,463.65 L70.41,462.99 L71.4,462.31 L72.38,461.61 L73.35,460.91 L74.3,460.19 L75.23,459.45 L76.15,458.71 L77.05,457.95 L77.94,457.17 L78.81,456.39 L79.67,455.59 L80.52,454.78 L81.35,453.96 L82.17,453.12 L82.97,452.28 L83.76,451.42 L84.54,450.55 L85.31,449.67 L86.07,448.78 L86.81,447.88 L87.54,446.97 L88.27,446.06 L88.98,445.13 L89.68,444.19 L90.37,443.24 L91.05,442.28 L91.72,441.32 L92.38,440.34 L93.03,439.36 L93.67,438.37 L94.3,437.38 L94.93,436.37 L95.55,435.36 L96.16,434.34 L96.76,433.31 L97.35,432.28 L97.94,431.24 L98.52,430.19 L99.1,429.14 L99.67,428.08 L100.23,427.02 L100.79,425.95 L101.34,424.88 L101.88,423.8 L102.43,422.72 L102.96,421.63 L103.5,420.54 L104.03,419.45 L104.55,418.35 L105.08,417.25 L105.6,416.14 L106.11,415.03 L106.63,413.92 L107.14,412.81 L107.65,411.69 L108.16,410.57 L108.66,409.46 L109.17,408.33 L109.68,407.21 L110.18,406.09 L110.68,404.96 L111.19,403.84 L111.69,402.71 L112.2,401.59 L112.7,400.46 L113.21,399.34 L113.72,398.21 L114.23,397.09 L114.74,395.97 L115.26,394.84 L115.77,393.72 L116.29,392.6 L116.82,391.49 L117.34,390.37 L117.87,389.26 L118.41,388.15 L118.94,387.04 L119.48,385.94 L120.03,384.84 L120.58,383.74 L121.14,382.65 L121.7,381.56 L122.27,380.47 L122.85,379.39 L123.43,378.31 L124.02,377.24 L124.61,376.18 L125.21,375.12 L125.82,374.06 L126.44,373.01 L127.06,371.96 L127.69,370.92 L128.32,369.88 L128.96,368.85 L129.61,367.83 L130.27,366.81 L130.93,365.79 L131.6,364.78 L132.27,363.78 L132.95,362.78 L133.64,361.79 L134.34,360.8 L135.04,359.82 L135.74,358.84 L136.46,357.87 L137.18,356.9 L137.9,355.94 L138.63,354.99 L139.37,354.04 L140.12,353.1 L140.87,352.16 L141.62,351.23 L142.39,350.3 L143.16,349.38 L143.93,348.46 L144.71,347.55 L145.5,346.65 L146.29,345.75 L147.09,344.86 L147.9,343.98 L148.71,343.1 L149.52,342.22 L150.35,341.35 L151.17,340.49 L152.01,339.63 L152.85,338.78 L153.69,337.94 L154.54,337.1 L155.4,336.27 L156.26,335.44 L157.13,334.63 L158,333.81 L158.88,333 L159.76,332.2 L160.65,331.41 L161.55,330.62 L162.45,329.84 L163.35,329.06 L164.26,328.29 L165.18,327.53 L166.1,326.77 L167.03,326.02 L167.96,325.28 L168.9,324.54 L169.84,323.81 L170.78,323.08 L171.74,322.37 L172.69,321.66 L173.66,320.95 L174.62,320.25 L175.59,319.56 L176.57,318.88 L177.55,318.2 L178.54,317.53 L179.53,316.86 L180.53,316.2 L181.53,315.55 L182.54,314.91 L183.55,314.27 L184.56,313.64 L185.58,313.02 L186.61,312.4 L187.63,311.79 L188.67,311.19 L189.71,310.59 L190.75,310 L191.8,309.42 L192.85,308.85 L193.9,308.28 L194.96,307.72 L196.03,307.17 L197.1,306.62 L198.17,306.08 L199.25,305.55 L200.33,305.03 L201.42,304.51 L202.51,304 L203.6,303.5 L204.7,303 L205.8,302.52 L206.91,302.04 L208.02,301.56 L209.13,301.1 L210.25,300.64 L211.37,300.19 L212.5,299.75 L213.63,299.31 L214.76,298.88 L215.9,298.46 L217.04,298.05 L218.19,297.65 L219.34,297.25 L220.49,296.86 L221.65,296.48 L222.81,296.1 L223.97,295.74 L225.14,295.38 L226.31,295.03 L227.48,294.68 L228.66,294.35 L229.84,294.02 L231.02,293.7 L232.21,293.39 L233.4,293.09 L234.6,292.79 L235.79,292.51 L236.99,292.23 L238.2,291.96 L239.41,291.7 L240.62,291.44 L241.83,291.19 L243.05,290.96 L244.27,290.73 L245.49,290.5 L246.72,290.29 L247.94,290.08 L249.18,289.89 L250.41,289.7 L251.65,289.52 L252.89,289.35 L254.13,289.18 L255.38,289.03 L256.63,288.88 L257.88,288.74 L259.13,288.61" stroke="#bcbd22" stroke-width="1.1" stroke-dasharray="4.45 1.95"/>
<path d="M58.47,467.3 L59.37,466.55 L60.26,465.79 L61.15,465.03 L62.04,464.26 L62.92,463.48 L63.79,462.7 L64.67,461.91 L65.54,461.12 L66.4,460.32 L67.26,459.51 L68.12,458.7 L68.97,457.88 L69.82,457.06 L70.67,456.23 L71.51,455.4 L72.35,454.56 L73.19,453.71 L74.02,452.86 L74.85,452.01 L75.68,451.15 L76.5,450.28 L77.32,449.41 L78.14,448.54 L78.95,447.66 L79.77,446.78 L80.58,445.89 L81.38,445 L82.19,444.11 L82.99,443.21 L83.79,442.3 L84.58,441.4 L85.38,440.49 L86.17,439.57 L86.96,438.65 L87.75,437.73 L88.53,436.81 L89.32,435.88 L90.1,434.95 L90.88,434.02 L91.66,433.08 L92.43,432.14 L93.21,431.2 L93.98,430.25 L94.75,429.31 L95.52,428.36 L96.29,427.41 L97.06,426.45 L97.82,425.5 L98.59,424.54 L99.35,423.58 L100.11,422.62 L100.88,421.66 L101.64,420.69 L102.4,419.72 L103.15,418.76 L103.91,417.79 L104.67,416.82 L105.43,415.85 L106.18,414.88 L106.94,413.9 L107.7,412.93 L108.45,411.95 L109.21,410.98 L109.96,410 L110.71,409.03 L111.47,408.05 L112.22,407.08 L112.98,406.1 L113.73,405.12 L114.49,404.15 L115.24,403.17 L116,402.2 L116.75,401.22 L117.51,400.25 L118.27,399.27 L119.02,398.3 L119.78,397.33 L120.54,396.36 L121.3,395.39 L122.06,394.42 L122.82,393.45 L123.59,392.49 L124.35,391.52 L125.11,390.56 L125.88,389.6 L126.65,388.64 L127.42,387.68 L128.19,386.72 L128.96,385.77 L129.73,384.82 L130.5,383.87 L131.28,382.92 L132.06,381.97 L132.84,381.03 L133.62,380.09 L134.4,379.16 L135.19,378.22 L135.98,377.29 L136.77,376.36 L137.56,375.44 L138.35,374.52 L139.15,373.6 L139.95,372.69 L140.75,371.77 L141.55,370.87 L142.36,369.96 L143.17,369.06 L143.98,368.17 L144.79,367.28 L145.61,366.39 L146.43,365.51 L147.26,364.63 L148.08,363.75 L148.91,362.88 L149.74,362.02 L150.58,361.16 L151.42,360.3 L152.26,359.45 L153.11,358.61 L153.96,357.77 L154.81,356.93 L155.67,356.1 L156.53,355.28 L157.39,354.46 L158.26,353.65 L159.14,352.84 L160.01,352.04 L160.89,351.25 L161.78,350.46 L162.67,349.68 L163.56,348.9 L164.46,348.13 L165.36,347.37 L166.27,346.61 L167.18,345.86 L168.09,345.12 L169.01,344.38 L169.94,343.65 L170.87,342.93 L171.8,342.21 L172.74,341.5 L173.68,340.8 L174.63,340.11 L175.59,339.42 L176.55,338.75 L177.51,338.07 L178.48,337.41 L179.45,336.75 L180.43,336.1 L181.41,335.46 L182.4,334.82 L183.39,334.19 L184.38,333.57 L185.38,332.95 L186.39,332.34 L187.4,331.74 L188.41,331.14 L189.43,330.55 L190.45,329.97 L191.47,329.39 L192.5,328.82 L193.53,328.26 L194.57,327.7 L195.61,327.15 L196.66,326.6 L197.71,326.06 L198.76,325.53 L199.82,325.01 L200.88,324.49 L201.94,323.97 L203.01,323.47 L204.08,322.96 L205.15,322.47 L206.23,321.98 L207.31,321.49 L208.4,321.02 L209.49,320.54 L210.58,320.08 L211.67,319.62 L212.77,319.16 L213.87,318.71 L214.98,318.27 L216.09,317.83 L217.2,317.4 L218.31,316.97 L219.43,316.55 L220.55,316.13 L221.67,315.72 L222.8,315.32 L223.92,314.92 L225.05,314.52 L226.19,314.13 L227.33,313.75 L228.46,313.37 L229.61,312.99 L230.75,312.62 L231.9,312.26 L233.05,311.9 L234.2,311.54 L235.35,311.19 L236.51,310.85 L237.67,310.51 L238.83,310.17 L239.99,309.84 L241.16,309.51 L242.32,309.19 L243.49,308.87 L244.66,308.56 L245.84,308.25 L247.01,307.95 L248.19,307.65 L249.37,307.35 L250.55,307.06 L251.73,306.78 L252.91,306.49 L254.1,306.22 L255.29,305.94 L256.48,305.67 L257.67,305.41 L258.86,305.14 L260.05,304.89 L261.25,304.63 L262.44,304.38 L263.64,304.14 L264.84,303.89 L266.04,303.66 L267.24,303.42 L268.45,303.19 L269.65,302.96 L270.85,302.74 L272.06,302.52 L273.27,302.3 L274.47,302.09 L275.68,301.88 L276.89,301.67 L278.1,301.47 L279.31,301.27 L280.52,301.07 L281.73,300.88 L282.95,300.68 L284.16,300.5 L285.37,300.31 L286.59,300.13 L287.8,299.95 L289.02,299.77 L290.23,299.59 L291.45,299.42 L292.67,299.25 L293.88,299.08 L295.1,298.91 L296.31,298.74 L297.53,298.58 L298.75,298.42 L299.96,298.25 L301.18,298.09 L302.4,297.93 L303.61,297.78 L304.83,297.62 L306.04,297.46 L307.26,297.3 L308.47,297.15 L309.69,296.99 L310.9,296.84 L312.11,296.68 L313.33,296.53 L314.54,296.37 L315.75,296.22 L316.96,296.06 L318.17,295.91 L319.38,295.75 L320.59,295.6 L321.79,295.44 L323,295.28 L324.21,295.12 L325.41,294.96 L326.61,294.8 L327.82,294.64 L329.02,294.48 L330.22,294.31 L331.42,294.14 L332.61,293.97 L333.81,293.8 L335,293.63 L336.2,293.46 L337.39,293.28 L338.58,293.1 L339.77,292.92 L340.95,292.74 L342.14,292.55 L343.32,292.36 L344.5,292.17 L345.68,291.97 L346.86,291.78 L348.03,291.57 L349.21,291.37 L350.38,291.16 L351.55,290.95 L352.72,290.73 L353.88,290.52 L355.05,290.29 L356.21,290.07 L357.37,289.83 L358.52,289.6 L359.68,289.36 L360.83,289.12 L361.98,288.87 L363.12,288.61" stroke="#17becf" stroke-width="1.1" stroke-dasharray="4.45 1.95"/>
</g>
<path d="M46.25,467.3V289H393.7V467.3Z" fill="none" stroke="#474747" stroke-width="1"/>
<path d="M46.25,467.3v2.4M92.58,467.3v2.4M138.9,467.3v2.4M185.23,467.3v2.4M231.56,467.3v2.4M277.88,467.3v2.4M324.21,467.3v2.4M370.54,467.3v2.4M46.25,467.3h-3.2M46.25,431.56h-3.2M46.25,395.82h-3.2M46.25,360.08h-3.2M46.25,324.34h-3.2M46.25,288.6h-3.2" stroke="#474747" stroke-width="0.9" fill="none"/>
<text x="46.25" y="477.2" font-size="7" text-anchor="middle" textLength="4.33" lengthAdjust="spacingAndGlyphs">0</text>
<text x="92.58" y="477.2" font-size="7" text-anchor="middle" textLength="12.99" lengthAdjust="spacingAndGlyphs">200</text>
<text x="138.9" y="477.2" font-size="7" text-anchor="middle" textLength="12.99" lengthAdjust="spacingAndGlyphs">400</text>
<text x="185.23" y="477.2" font-size="7" text-anchor="middle" textLength="12.99" lengthAdjust="spacingAndGlyphs">600</text>
<text x="231.56" y="477.2" font-size="7" text-anchor="middle" textLength="12.99" lengthAdjust="spacingAndGlyphs">800</text>
<text x="277.88" y="477.2" font-size="7" text-anchor="middle" textLength="17.32" lengthAdjust="spacingAndGlyphs">1000</text>
<text x="324.21" y="477.2" font-size="7" text-anchor="middle" textLength="17.32" lengthAdjust="spacingAndGlyphs">1200</text>
<text x="370.54" y="477.2" font-size="7" text-anchor="middle" textLength="17.32" lengthAdjust="spacingAndGlyphs">1400</text>
<text x="40.45" y="470.4" font-size="7" text-anchor="end" textLength="10.6" lengthAdjust="spacingAndGlyphs">0.0</text>
<text x="40.45" y="434.66" font-size="7" text-anchor="end" textLength="10.6" lengthAdjust="spacingAndGlyphs">0.2</text>
<text x="40.45" y="398.92" font-size="7" text-anchor="end" textLength="10.6" lengthAdjust="spacingAndGlyphs">0.4</text>
<text x="40.45" y="363.18" font-size="7" text-anchor="end" textLength="10.6" lengthAdjust="spacingAndGlyphs">0.6</text>
<text x="40.45" y="327.44" font-size="7" text-anchor="end" textLength="10.6" lengthAdjust="spacingAndGlyphs">0.8</text>
<text x="40.45" y="291.7" font-size="7" text-anchor="end" textLength="10.6" lengthAdjust="spacingAndGlyphs">1.0</text>
<text x="218.47" y="488.6" font-size="10.3" text-anchor="middle" textLength="47.2" lengthAdjust="spacingAndGlyphs">Grainsize</text>
<text transform="translate(23.75,377.95) scale(1.0,1) rotate(-90)" x="0" y="0" font-size="10.3" text-anchor="middle" textLength="74.3" lengthAdjust="spacingAndGlyphs">Cumulative Value</text>
<rect x="268.2" y="340.7" width="120.2" height="122.8" rx="1.8" fill="#ffffff" fill-opacity="0.8" stroke="#dcdcdc" stroke-width="0.9"/>
<path d="M271.4,347H290.8" stroke="#1f77b4" stroke-width="2.9" stroke-linecap="square"/>
<path d="M271.4,359.1H290.8" stroke="#ff7f0e" stroke-width="2.9" stroke-linecap="square"/>
<path d="M271.4,371.2H290.8" stroke="#2ca02c" stroke-width="1.1" stroke-dasharray="4.45 1.95"/>
<path d="M271.4,383.3H290.8" stroke="#d62728" stroke-width="1.1" stroke-dasharray="4.45 1.95"/>
<path d="M271.4,395.4H290.8" stroke="#9467bd" stroke-width="1.1" stroke-dasharray="4.45 1.95"/>
<path d="M271.4,407.5H290.8" stroke="#8c564b" stroke-width="1.1" stroke-dasharray="4.45 1.95"/>
<path d="M271.4,419.6H290.8" stroke="#e377c2" stroke-width="1.1" stroke-dasharray="4.45 1.95"/>
<path d="M271.4,431.7H290.8" stroke="#7f7f7f" stroke-width="1.1" stroke-dasharray="4.45 1.95"/>
<path d="M271.4,443.8H290.8" stroke="#bcbd22" stroke-width="1.1" stroke-dasharray="4.45 1.95"/>
<path d="M271.4,455.9H290.8" stroke="#17becf" stroke-width="1.1" stroke-dasharray="4.45 1.95"/>
<text x="0" y="0" font-size="8.7" transform="translate(298.3,349.95) scale(1.13,1)">Laser measurement</text>
<text x="0" y="0" font-size="8.7" transform="translate(298.3,362.05) scale(1.13,1)">Sedihist</text>
<text x="0" y="0" font-size="8.7" transform="translate(298.3,374.15) scale(1.13,1)">Resnet50_hist</text>
<text x="0" y="0" font-size="8.7" transform="translate(298.3,386.25) scale(1.13,1)">VGG_hist</text>
<text x="0" y="0" font-size="8.7" transform="translate(298.3,398.35) scale(1.13,1)">DeepTen</text>
<text x="0" y="0" font-size="8.7" transform="translate(298.3,410.45) scale(1.13,1)">Resnet50</text>
<text x="0" y="0" font-size="8.7" transform="translate(298.3,422.55) scale(1.13,1)">Resnet18</text>
<text x="0" y="0" font-size="8.7" transform="translate(298.3,434.65) scale(1.13,1)">VGG</text>
<text x="0" y="0" font-size="8.7" transform="translate(298.3,446.75) scale(1.13,1)">Sedinet</text>
<text x="0" y="0" font-size="8.7" transform="translate(298.3,458.85) scale(1.13,1)">Wavelet</text>
<text x="201.8" y="521.3" font-family='"Liberation Serif", serif' font-size="24.5" text-anchor="middle" textLength="25.3" lengthAdjust="spacingAndGlyphs" fill="#000">(<tspan font-weight="bold">c</tspan>)</text>
<rect x="423" y="261" width="455" height="231.5" fill="#fcfcfc"/>
<clipPath id="clipd"><rect x="482.6" y="288.8" width="370" height="178.5"/></clipPath>
<path d="M482.6,288.8V467.3M531.93,288.8V467.3M581.27,288.8V467.3M630.6,288.8V467.3M679.93,288.8V467.3M729.27,288.8V467.3M778.6,288.8V467.3M827.93,288.8V467.3M482.6,467.3H852.6M482.6,431.6H852.6M482.6,395.9H852.6M482.6,360.2H852.6M482.6,324.5H852.6M482.6,288.8H852.6" stroke="#d4d4d4" stroke-width="1" fill="none"/>
<g clip-path="url(#clipd)" fill="none" stroke-linejoin="round">
<path d="M514.91,467.3 L516.27,467.29 L517.6,467.24 L518.91,467.15 L520.2,467.03 L521.47,466.87 L522.73,466.69 L523.96,466.47 L525.17,466.21 L526.37,465.93 L527.55,465.62 L528.71,465.28 L529.85,464.91 L530.98,464.51 L532.09,464.08 L533.18,463.63 L534.26,463.15 L535.32,462.65 L536.37,462.12 L537.4,461.57 L538.42,460.99 L539.42,460.4 L540.41,459.78 L541.38,459.14 L542.35,458.48 L543.3,457.8 L544.23,457.1 L545.16,456.39 L546.07,455.65 L546.97,454.9 L547.86,454.14 L548.74,453.36 L549.61,452.56 L550.47,451.75 L551.32,450.93 L552.17,450.09 L553,449.25 L553.82,448.39 L554.64,447.52 L555.44,446.64 L556.24,445.75 L557.03,444.85 L557.82,443.94 L558.6,443.03 L559.37,442.1 L560.14,441.17 L560.9,440.24 L561.65,439.29 L562.4,438.34 L563.15,437.39 L563.89,436.43 L564.63,435.46 L565.36,434.5 L566.09,433.53 L566.82,432.55 L567.54,431.58 L568.27,430.6 L568.99,429.62 L569.7,428.64 L570.42,427.66 L571.13,426.68 L571.85,425.7 L572.56,424.71 L573.27,423.73 L573.97,422.74 L574.68,421.75 L575.39,420.77 L576.09,419.78 L576.8,418.79 L577.5,417.8 L578.2,416.82 L578.91,415.83 L579.61,414.84 L580.31,413.85 L581.01,412.87 L581.72,411.88 L582.42,410.89 L583.12,409.91 L583.83,408.92 L584.53,407.94 L585.24,406.96 L585.95,405.98 L586.66,405 L587.37,404.02 L588.08,403.04 L588.79,402.07 L589.51,401.09 L590.22,400.12 L590.94,399.15 L591.66,398.19 L592.39,397.22 L593.11,396.26 L593.84,395.3 L594.57,394.34 L595.31,393.39 L596.05,392.44 L596.79,391.49 L597.53,390.54 L598.28,389.6 L599.03,388.66 L599.78,387.73 L600.54,386.79 L601.3,385.87 L602.07,384.94 L602.84,384.02 L603.62,383.1 L604.4,382.19 L605.18,381.28 L605.97,380.38 L606.77,379.48 L607.57,378.59 L608.37,377.7 L609.18,376.81 L610,375.93 L610.82,375.06 L611.64,374.19 L612.47,373.32 L613.31,372.46 L614.15,371.6 L615,370.75 L615.85,369.91 L616.71,369.07 L617.57,368.23 L618.44,367.4 L619.31,366.57 L620.19,365.75 L621.07,364.94 L621.95,364.12 L622.84,363.32 L623.74,362.52 L624.64,361.72 L625.55,360.93 L626.45,360.15 L627.37,359.37 L628.29,358.59 L629.21,357.82 L630.14,357.06 L631.07,356.3 L632.01,355.54 L632.95,354.79 L633.9,354.05 L634.84,353.31 L635.8,352.58 L636.76,351.85 L637.72,351.13 L638.69,350.41 L639.66,349.7 L640.63,348.99 L641.61,348.29 L642.59,347.59 L643.58,346.9 L644.57,346.22 L645.57,345.54 L646.56,344.87 L647.57,344.2 L648.57,343.53 L649.58,342.88 L650.6,342.22 L651.61,341.58 L652.63,340.94 L653.66,340.3 L654.69,339.67 L655.72,339.04 L656.75,338.42 L657.79,337.81 L658.83,337.2 L659.87,336.59 L660.92,335.99 L661.97,335.39 L663.02,334.8 L664.07,334.21 L665.13,333.63 L666.19,333.05 L667.25,332.48 L668.32,331.91 L669.38,331.34 L670.45,330.78 L671.52,330.22 L672.6,329.67 L673.67,329.12 L674.75,328.57 L675.82,328.03 L676.9,327.49 L677.99,326.95 L679.07,326.41 L680.15,325.88 L681.24,325.36 L682.32,324.83 L683.41,324.31 L684.5,323.8 L685.59,323.28 L686.69,322.77 L687.78,322.27 L688.88,321.76 L689.97,321.26 L691.07,320.77 L692.17,320.27 L693.27,319.78 L694.37,319.3 L695.48,318.82 L696.58,318.34 L697.69,317.87 L698.8,317.4 L699.91,316.93 L701.02,316.47 L702.13,316.01 L703.25,315.56 L704.36,315.11 L705.48,314.67 L706.6,314.23 L707.72,313.79 L708.84,313.36 L709.97,312.93 L711.09,312.5 L712.22,312.08 L713.35,311.67 L714.48,311.26 L715.61,310.85 L716.74,310.44 L717.88,310.05 L719.01,309.65 L720.15,309.26 L721.29,308.87 L722.43,308.49 L723.57,308.11 L724.71,307.73 L725.85,307.36 L727,306.99 L728.14,306.63 L729.29,306.26 L730.44,305.91 L731.59,305.55 L732.74,305.2 L733.89,304.86 L735.04,304.52 L736.2,304.18 L737.35,303.84 L738.51,303.51 L739.67,303.19 L740.83,302.86 L741.99,302.54 L743.15,302.22 L744.31,301.91 L745.47,301.6 L746.64,301.3 L747.8,300.99 L748.97,300.69 L750.13,300.4 L751.3,300.11 L752.47,299.82 L753.64,299.53 L754.81,299.25 L755.98,298.97 L757.15,298.69 L758.33,298.42 L759.5,298.15 L760.68,297.89 L761.85,297.62 L763.03,297.36 L764.21,297.11 L765.38,296.86 L766.56,296.61 L767.74,296.36 L768.92,296.11 L770.1,295.87 L771.28,295.64 L772.47,295.4 L773.65,295.17 L774.83,294.94 L776.02,294.72 L777.2,294.49 L778.39,294.27 L779.57,294.06 L780.76,293.84 L781.95,293.63 L783.14,293.42 L784.32,293.22 L785.51,293.02 L786.7,292.82 L787.89,292.62 L789.08,292.42 L790.27,292.23 L791.46,292.04 L792.66,291.86 L793.85,291.67 L795.04,291.49 L796.23,291.31 L797.43,291.14 L798.62,290.97 L799.81,290.79 L801.01,290.63 L802.2,290.46 L803.4,290.3 L804.59,290.14 L805.79,289.98 L806.98,289.82 L808.18,289.67 L809.37,289.52 L810.57,289.37 L811.76,289.22 L812.96,289.08 L814.16,288.94 L815.35,288.8" stroke="#1f77b4" stroke-width="3.5"/>
<path d="M510.97,467.3 L512.24,467.06 L513.5,466.79 L514.74,466.51 L515.97,466.2 L517.19,465.87 L518.4,465.52 L519.59,465.15 L520.77,464.75 L521.93,464.34 L523.09,463.91 L524.23,463.45 L525.35,462.98 L526.47,462.49 L527.57,461.98 L528.65,461.45 L529.73,460.91 L530.79,460.34 L531.84,459.76 L532.88,459.16 L533.9,458.55 L534.91,457.92 L535.91,457.27 L536.9,456.6 L537.87,455.92 L538.84,455.23 L539.79,454.52 L540.72,453.79 L541.65,453.05 L542.56,452.3 L543.46,451.53 L544.35,450.75 L545.22,449.95 L546.09,449.15 L546.94,448.33 L547.78,447.5 L548.61,446.65 L549.43,445.8 L550.24,444.93 L551.04,444.06 L551.83,443.18 L552.61,442.28 L553.39,441.38 L554.16,440.47 L554.92,439.55 L555.67,438.63 L556.42,437.7 L557.17,436.76 L557.91,435.82 L558.64,434.87 L559.38,433.92 L560.1,432.96 L560.83,432.01 L561.55,431.04 L562.28,430.08 L563,429.11 L563.71,428.14 L564.43,427.17 L565.15,426.19 L565.86,425.21 L566.57,424.23 L567.29,423.25 L568,422.27 L568.71,421.28 L569.41,420.3 L570.12,419.31 L570.83,418.32 L571.54,417.33 L572.25,416.34 L572.95,415.35 L573.66,414.36 L574.37,413.37 L575.08,412.38 L575.79,411.39 L576.5,410.39 L577.2,409.4 L577.92,408.41 L578.63,407.42 L579.34,406.43 L580.05,405.44 L580.77,404.45 L581.48,403.46 L582.2,402.48 L582.92,401.49 L583.64,400.51 L584.36,399.53 L585.09,398.55 L585.82,397.57 L586.54,396.59 L587.28,395.62 L588.01,394.65 L588.75,393.68 L589.49,392.71 L590.23,391.75 L590.97,390.79 L591.72,389.83 L592.47,388.88 L593.23,387.93 L593.99,386.98 L594.75,386.04 L595.52,385.1 L596.29,384.16 L597.06,383.23 L597.84,382.3 L598.62,381.38 L599.41,380.46 L600.2,379.55 L600.99,378.64 L601.79,377.74 L602.6,376.84 L603.41,375.94 L604.22,375.05 L605.04,374.17 L605.87,373.29 L606.69,372.42 L607.53,371.55 L608.37,370.69 L609.21,369.83 L610.05,368.98 L610.91,368.13 L611.76,367.29 L612.62,366.45 L613.49,365.61 L614.36,364.79 L615.23,363.96 L616.11,363.15 L616.99,362.33 L617.88,361.52 L618.77,360.72 L619.66,359.92 L620.56,359.13 L621.47,358.34 L622.37,357.56 L623.29,356.78 L624.2,356 L625.12,355.24 L626.05,354.47 L626.97,353.71 L627.9,352.96 L628.84,352.21 L629.78,351.46 L630.72,350.72 L631.67,349.99 L632.62,349.26 L633.58,348.53 L634.54,347.81 L635.5,347.1 L636.46,346.39 L637.43,345.68 L638.41,344.98 L639.38,344.28 L640.36,343.59 L641.35,342.9 L642.34,342.22 L643.33,341.54 L644.32,340.87 L645.32,340.2 L646.32,339.54 L647.32,338.88 L648.33,338.22 L649.34,337.57 L650.36,336.93 L651.38,336.29 L652.4,335.65 L653.42,335.02 L654.45,334.4 L655.48,333.77 L656.51,333.16 L657.55,332.54 L658.59,331.94 L659.63,331.33 L660.68,330.73 L661.72,330.14 L662.78,329.55 L663.83,328.96 L664.89,328.38 L665.95,327.81 L667.01,327.24 L668.08,326.67 L669.14,326.11 L670.21,325.55 L671.29,325 L672.36,324.45 L673.44,323.9 L674.52,323.36 L675.61,322.83 L676.7,322.29 L677.78,321.77 L678.88,321.25 L679.97,320.73 L681.07,320.21 L682.17,319.7 L683.27,319.2 L684.37,318.7 L685.48,318.2 L686.58,317.71 L687.69,317.22 L688.81,316.74 L689.92,316.26 L691.04,315.79 L692.16,315.32 L693.28,314.85 L694.4,314.39 L695.53,313.94 L696.65,313.48 L697.78,313.03 L698.91,312.59 L700.05,312.15 L701.18,311.71 L702.32,311.28 L703.46,310.86 L704.6,310.43 L705.74,310.02 L706.88,309.6 L708.03,309.19 L709.17,308.78 L710.32,308.38 L711.47,307.99 L712.62,307.59 L713.78,307.2 L714.93,306.82 L716.09,306.44 L717.25,306.06 L718.41,305.69 L719.57,305.32 L720.73,304.95 L721.89,304.59 L723.06,304.24 L724.22,303.88 L725.39,303.54 L726.56,303.19 L727.73,302.85 L728.9,302.52 L730.07,302.19 L731.24,301.86 L732.42,301.53 L733.59,301.21 L734.77,300.9 L735.95,300.59 L737.13,300.28 L738.3,299.97 L739.48,299.67 L740.67,299.38 L741.85,299.09 L743.03,298.8 L744.21,298.52 L745.4,298.24 L746.58,297.96 L747.77,297.69 L748.95,297.42 L750.14,297.15 L751.33,296.89 L752.52,296.64 L753.7,296.38 L754.89,296.14 L756.08,295.89 L757.27,295.65 L758.46,295.41 L759.65,295.18 L760.84,294.95 L762.04,294.72 L763.23,294.5 L764.42,294.28 L765.61,294.07 L766.8,293.86 L768,293.65 L769.19,293.45 L770.38,293.25 L771.58,293.05 L772.77,292.86 L773.96,292.67 L775.15,292.49 L776.35,292.31 L777.54,292.13 L778.73,291.96 L779.93,291.79 L781.12,291.62 L782.31,291.46 L783.5,291.3 L784.7,291.15 L785.89,290.99 L787.08,290.85 L788.27,290.7 L789.46,290.56 L790.65,290.43 L791.84,290.29 L793.03,290.16 L794.22,290.04 L795.41,289.91 L796.6,289.8 L797.79,289.68 L798.97,289.57 L800.16,289.46 L801.35,289.36 L802.53,289.25 L803.71,289.16 L804.9,289.06 L806.08,288.97 L807.26,288.88 L808.44,288.8" stroke="#ff7f0e" stroke-width="3.5"/>
<path d="M508.51,467.31 L509.76,466.97 L511,466.61 L512.22,466.23 L513.42,465.84 L514.6,465.42 L515.77,464.99 L516.92,464.53 L518.06,464.06 L519.18,463.57 L520.28,463.07 L521.37,462.55 L522.44,462.01 L523.5,461.45 L524.54,460.88 L525.57,460.29 L526.59,459.69 L527.59,459.07 L528.58,458.44 L529.56,457.79 L530.52,457.12 L531.47,456.45 L532.41,455.76 L533.34,455.05 L534.25,454.33 L535.15,453.6 L536.04,452.86 L536.93,452.1 L537.8,451.33 L538.66,450.55 L539.5,449.76 L540.34,448.96 L541.17,448.14 L542,447.31 L542.81,446.48 L543.61,445.63 L544.41,444.78 L545.19,443.91 L545.97,443.03 L546.74,442.15 L547.51,441.26 L548.26,440.35 L549.01,439.44 L549.75,438.52 L550.49,437.6 L551.22,436.67 L551.95,435.72 L552.67,434.78 L553.38,433.82 L554.09,432.86 L554.79,431.9 L555.49,430.92 L556.19,429.95 L556.88,428.96 L557.57,427.98 L558.26,426.98 L558.94,425.99 L559.62,424.99 L560.3,423.98 L560.97,422.98 L561.64,421.96 L562.31,420.95 L562.98,419.93 L563.65,418.92 L564.32,417.9 L564.99,416.87 L565.66,415.85 L566.32,414.82 L566.99,413.8 L567.66,412.77 L568.33,411.74 L569,410.72 L569.66,409.69 L570.33,408.66 L571.01,407.63 L571.68,406.6 L572.35,405.57 L573.03,404.55 L573.7,403.52 L574.38,402.49 L575.06,401.46 L575.74,400.44 L576.42,399.41 L577.1,398.39 L577.79,397.37 L578.47,396.35 L579.16,395.33 L579.85,394.31 L580.55,393.29 L581.24,392.28 L581.94,391.27 L582.64,390.26 L583.34,389.25 L584.05,388.24 L584.76,387.24 L585.47,386.24 L586.18,385.24 L586.9,384.25 L587.62,383.25 L588.34,382.26 L589.06,381.28 L589.79,380.3 L590.53,379.32 L591.26,378.34 L592,377.37 L592.75,376.4 L593.49,375.44 L594.24,374.48 L595,373.52 L595.76,372.57 L596.52,371.63 L597.29,370.68 L598.06,369.75 L598.84,368.81 L599.62,367.89 L600.4,366.96 L601.19,366.05 L601.99,365.14 L602.79,364.23 L603.59,363.33 L604.4,362.44 L605.22,361.55 L606.04,360.66 L606.86,359.79 L607.69,358.92 L608.53,358.05 L609.37,357.2 L610.22,356.35 L611.07,355.5 L611.93,354.66 L612.79,353.83 L613.66,353.01 L614.54,352.19 L615.41,351.37 L616.3,350.57 L617.19,349.77 L618.08,348.97 L618.98,348.18 L619.88,347.4 L620.79,346.62 L621.71,345.85 L622.63,345.09 L623.55,344.33 L624.48,343.58 L625.41,342.84 L626.35,342.1 L627.29,341.36 L628.24,340.64 L629.19,339.91 L630.14,339.2 L631.11,338.49 L632.07,337.78 L633.04,337.09 L634.01,336.39 L634.99,335.71 L635.97,335.03 L636.96,334.35 L637.95,333.68 L638.94,333.02 L639.94,332.36 L640.95,331.71 L641.95,331.07 L642.96,330.43 L643.98,329.79 L645,329.16 L646.02,328.54 L647.04,327.92 L648.07,327.31 L649.11,326.7 L650.15,326.1 L651.19,325.51 L652.23,324.92 L653.28,324.33 L654.33,323.76 L655.39,323.18 L656.44,322.61 L657.51,322.05 L658.57,321.49 L659.64,320.94 L660.71,320.4 L661.79,319.86 L662.87,319.32 L663.95,318.79 L665.03,318.27 L666.12,317.75 L667.21,317.23 L668.3,316.72 L669.4,316.22 L670.5,315.72 L671.6,315.23 L672.71,314.74 L673.82,314.25 L674.93,313.78 L676.04,313.3 L677.16,312.84 L678.27,312.37 L679.39,311.91 L680.52,311.46 L681.64,311.01 L682.77,310.57 L683.9,310.13 L685.04,309.7 L686.17,309.27 L687.31,308.85 L688.45,308.43 L689.59,308.02 L690.74,307.61 L691.88,307.21 L693.03,306.81 L694.18,306.41 L695.34,306.02 L696.49,305.64 L697.65,305.26 L698.81,304.88 L699.97,304.51 L701.13,304.15 L702.29,303.79 L703.46,303.43 L704.62,303.08 L705.79,302.73 L706.96,302.39 L708.14,302.05 L709.31,301.72 L710.48,301.39 L711.66,301.07 L712.84,300.75 L714.02,300.43 L715.2,300.12 L716.38,299.81 L717.56,299.51 L718.74,299.21 L719.93,298.92 L721.12,298.63 L722.3,298.35 L723.49,298.07 L724.68,297.79 L725.87,297.52 L727.06,297.25 L728.25,296.99 L729.44,296.73 L730.64,296.47 L731.83,296.22 L733.02,295.98 L734.22,295.73 L735.42,295.5 L736.61,295.26 L737.81,295.03 L739.01,294.81 L740.2,294.58 L741.4,294.37 L742.6,294.15 L743.8,293.94 L745,293.74 L746.2,293.53 L747.4,293.34 L748.59,293.14 L749.79,292.95 L750.99,292.77 L752.19,292.58 L753.39,292.4 L754.59,292.23 L755.79,292.06 L756.99,291.89 L758.19,291.73 L759.39,291.57 L760.59,291.41 L761.78,291.26 L762.98,291.11 L764.18,290.97 L765.38,290.82 L766.57,290.69 L767.77,290.55 L768.96,290.42 L770.16,290.29 L771.35,290.17 L772.54,290.05 L773.74,289.93 L774.93,289.82 L776.12,289.71 L777.31,289.61 L778.5,289.5 L779.69,289.41 L780.87,289.31 L782.06,289.22 L783.24,289.13 L784.43,289.04 L785.61,288.96 L786.79,288.88 L787.97,288.81" stroke="#2ca02c" stroke-width="1.1" stroke-dasharray="4.45 1.95"/>
<path d="M507.28,467.32 L508.51,466.93 L509.71,466.52 L510.9,466.09 L512.07,465.64 L513.22,465.18 L514.36,464.69 L515.48,464.19 L516.59,463.68 L517.68,463.14 L518.75,462.59 L519.81,462.03 L520.85,461.45 L521.88,460.85 L522.89,460.24 L523.89,459.61 L524.88,458.96 L525.85,458.31 L526.81,457.63 L527.76,456.95 L528.69,456.25 L529.61,455.54 L530.52,454.81 L531.41,454.07 L532.3,453.32 L533.17,452.55 L534.03,451.77 L534.88,450.98 L535.72,450.18 L536.55,449.37 L537.36,448.55 L538.17,447.71 L538.97,446.87 L539.76,446.01 L540.54,445.15 L541.31,444.27 L542.07,443.39 L542.82,442.49 L543.57,441.59 L544.31,440.68 L545.04,439.76 L545.76,438.83 L546.47,437.89 L547.18,436.95 L547.88,436 L548.58,435.04 L549.27,434.07 L549.95,433.1 L550.63,432.12 L551.3,431.14 L551.97,430.15 L552.63,429.15 L553.29,428.15 L553.94,427.15 L554.59,426.14 L555.24,425.12 L555.88,424.1 L556.52,423.08 L557.15,422.05 L557.79,421.02 L558.42,419.99 L559.05,418.95 L559.67,417.91 L560.3,416.87 L560.92,415.83 L561.54,414.79 L562.17,413.74 L562.79,412.69 L563.41,411.64 L564.03,410.59 L564.65,409.54 L565.27,408.49 L565.89,407.44 L566.51,406.39 L567.13,405.34 L567.75,404.29 L568.38,403.24 L569,402.19 L569.62,401.14 L570.25,400.09 L570.88,399.04 L571.5,397.99 L572.13,396.95 L572.77,395.9 L573.4,394.86 L574.04,393.82 L574.68,392.78 L575.32,391.75 L575.96,390.71 L576.61,389.68 L577.25,388.65 L577.91,387.63 L578.56,386.6 L579.22,385.58 L579.88,384.57 L580.55,383.56 L581.22,382.55 L581.89,381.54 L582.57,380.54 L583.25,379.54 L583.93,378.55 L584.62,377.56 L585.32,376.58 L586.02,375.6 L586.72,374.63 L587.43,373.66 L588.15,372.7 L588.87,371.74 L589.6,370.79 L590.33,369.84 L591.07,368.9 L591.81,367.97 L592.56,367.04 L593.32,366.12 L594.08,365.21 L594.85,364.3 L595.63,363.4 L596.41,362.51 L597.2,361.63 L597.99,360.75 L598.8,359.88 L599.61,359.01 L600.42,358.15 L601.24,357.3 L602.07,356.46 L602.91,355.62 L603.75,354.79 L604.59,353.97 L605.45,353.15 L606.3,352.34 L607.17,351.53 L608.04,350.74 L608.92,349.95 L609.8,349.16 L610.69,348.38 L611.58,347.61 L612.48,346.85 L613.39,346.09 L614.3,345.34 L615.21,344.59 L616.14,343.85 L617.06,343.12 L617.99,342.39 L618.93,341.67 L619.88,340.96 L620.82,340.25 L621.78,339.55 L622.74,338.85 L623.7,338.16 L624.67,337.48 L625.64,336.8 L626.62,336.13 L627.6,335.47 L628.59,334.81 L629.58,334.15 L630.58,333.51 L631.58,332.86 L632.59,332.23 L633.6,331.6 L634.61,330.98 L635.63,330.36 L636.66,329.74 L637.68,329.14 L638.72,328.54 L639.75,327.94 L640.79,327.35 L641.84,326.77 L642.89,326.19 L643.94,325.62 L645,325.05 L646.06,324.49 L647.12,323.93 L648.19,323.38 L649.26,322.83 L650.34,322.29 L651.42,321.76 L652.5,321.23 L653.59,320.7 L654.68,320.19 L655.77,319.67 L656.87,319.16 L657.97,318.66 L659.07,318.16 L660.18,317.67 L661.28,317.18 L662.4,316.7 L663.51,316.22 L664.63,315.75 L665.75,315.28 L666.88,314.82 L668,314.36 L669.13,313.91 L670.26,313.46 L671.4,313.01 L672.54,312.58 L673.68,312.14 L674.82,311.71 L675.97,311.29 L677.11,310.87 L678.26,310.45 L679.41,310.04 L680.57,309.64 L681.73,309.24 L682.88,308.84 L684.05,308.45 L685.21,308.06 L686.37,307.68 L687.54,307.3 L688.71,306.93 L689.88,306.56 L691.05,306.19 L692.22,305.83 L693.4,305.47 L694.58,305.12 L695.75,304.77 L696.93,304.43 L698.12,304.09 L699.3,303.75 L700.48,303.42 L701.67,303.09 L702.85,302.77 L704.04,302.45 L705.23,302.14 L706.42,301.83 L707.61,301.52 L708.8,301.22 L710,300.92 L711.19,300.62 L712.39,300.33 L713.58,300.04 L714.78,299.76 L715.97,299.48 L717.17,299.2 L718.37,298.93 L719.57,298.66 L720.77,298.39 L721.97,298.13 L723.16,297.87 L724.36,297.62 L725.56,297.37 L726.76,297.12 L727.96,296.88 L729.16,296.63 L730.37,296.4 L731.57,296.16 L732.77,295.93 L733.97,295.71 L735.17,295.48 L736.36,295.26 L737.56,295.04 L738.76,294.83 L739.96,294.62 L741.16,294.41 L742.36,294.21 L743.55,294.01 L744.75,293.81 L745.95,293.61 L747.14,293.42 L748.33,293.23 L749.53,293.04 L750.72,292.86 L751.91,292.68 L753.1,292.5 L754.29,292.33 L755.48,292.16 L756.67,291.99 L757.85,291.82 L759.04,291.66 L760.22,291.5 L761.4,291.34 L762.58,291.18 L763.76,291.03 L764.94,290.88 L766.12,290.73 L767.29,290.59 L768.46,290.44 L769.64,290.3 L770.8,290.17 L771.97,290.03 L773.14,289.9 L774.3,289.77 L775.46,289.64 L776.62,289.51 L777.78,289.39 L778.93,289.27 L780.09,289.15 L781.24,289.03 L782.39,288.92 L783.53,288.8" stroke="#d62728" stroke-width="1.1" stroke-dasharray="4.45 1.95"/>
<path d="M514.67,467.3 L516.39,467.27 L518.06,467.19 L519.66,467.06 L521.2,466.88 L522.66,466.65 L524.05,466.38 L525.37,466.08 L526.6,465.73 L527.75,465.35 L528.81,464.93 L529.78,464.49 L530.66,464.02 L531.45,463.52 L532.13,463 L532.72,462.46 L533.19,461.91 L533.6,461.18 L533.97,460.19 L534.3,459.01 L534.6,457.7 L534.85,456.33 L535.07,454.96 L535.24,453.67 L535.38,452.47 L535.48,451.27 L535.57,450.06 L535.65,448.85 L535.74,447.65 L535.86,446.44 L535.97,445.23 L536.09,444.01 L536.22,442.79 L536.38,441.59 L536.57,440.42 L536.83,439.27 L537.24,438.07 L537.79,436.91 L538.44,435.89 L539.16,435.1 L540.12,434.49 L541.25,433.97 L542.44,433.47 L543.57,432.94 L544.64,432.39 L545.71,431.83 L546.78,431.27 L547.86,430.72 L548.95,430.2 L550.05,429.69 L551.15,429.18 L552.24,428.66 L553.32,428.12 L554.37,427.54 L555.45,426.92 L556.54,426.28 L557.6,425.6 L558.57,424.88 L559.39,424.11 L560.08,423.29 L560.73,422.42 L561.34,421.51 L561.92,420.56 L562.47,419.56 L563,418.54 L563.51,417.48 L563.99,416.39 L564.45,415.27 L564.9,414.14 L565.33,412.98 L565.75,411.8 L566.16,410.62 L566.56,409.42 L566.96,408.21 L567.36,407 L567.75,405.78 L568.15,404.57 L568.55,403.36 L568.96,402.16 L569.38,400.96 L569.81,399.78 L570.26,398.62 L570.72,397.48 L571.2,396.35 L571.69,395.25 L572.19,394.15 L572.68,393.04 L573.17,391.92 L573.66,390.81 L574.15,389.69 L574.65,388.58 L575.15,387.47 L575.66,386.36 L576.18,385.26 L576.7,384.17 L577.24,383.09 L577.79,382.02 L578.35,380.96 L578.93,379.91 L579.53,378.88 L580.14,377.87 L580.78,376.87 L581.45,375.88 L582.13,374.9 L582.84,373.93 L583.56,372.97 L584.31,372.01 L585.07,371.06 L585.84,370.13 L586.62,369.19 L587.42,368.27 L588.22,367.35 L589.03,366.44 L589.85,365.53 L590.67,364.63 L591.49,363.73 L592.32,362.84 L593.14,361.95 L593.96,361.06 L594.78,360.18 L595.6,359.3 L596.43,358.42 L597.27,357.55 L598.12,356.69 L598.97,355.83 L599.83,354.97 L600.7,354.12 L601.57,353.28 L602.45,352.44 L603.34,351.62 L604.23,350.8 L605.12,349.98 L606.03,349.18 L606.93,348.39 L607.85,347.61 L608.76,346.84 L609.69,346.07 L610.62,345.31 L611.56,344.56 L612.51,343.81 L613.46,343.07 L614.42,342.33 L615.39,341.6 L616.36,340.87 L617.33,340.15 L618.31,339.44 L619.3,338.73 L620.28,338.02 L621.28,337.33 L622.27,336.63 L623.27,335.94 L624.27,335.26 L625.27,334.58 L626.28,333.9 L627.28,333.23 L628.29,332.57 L629.3,331.91 L630.31,331.25 L631.32,330.59 L632.33,329.93 L633.34,329.27 L634.36,328.61 L635.38,327.95 L636.4,327.29 L637.42,326.63 L638.44,325.97 L639.47,325.31 L640.5,324.66 L641.53,324.01 L642.57,323.37 L643.6,322.73 L644.64,322.1 L645.69,321.47 L646.74,320.85 L647.79,320.25 L648.84,319.65 L649.9,319.06 L650.96,318.48 L652.02,317.91 L653.09,317.35 L654.17,316.81 L655.24,316.28 L656.33,315.76 L657.41,315.26 L658.5,314.77 L659.6,314.3 L660.7,313.84 L661.81,313.4 L662.93,312.98 L664.05,312.56 L665.19,312.16 L666.33,311.77 L667.48,311.39 L668.63,311.01 L669.79,310.65 L670.95,310.29 L672.11,309.93 L673.27,309.57 L674.43,309.22 L675.6,308.87 L676.76,308.52 L677.92,308.17 L679.08,307.81 L680.23,307.45 L681.38,307.09 L682.54,306.73 L683.69,306.36 L684.84,306 L686,305.64 L687.15,305.28 L688.31,304.92 L689.46,304.56 L690.62,304.21 L691.77,303.85 L692.93,303.5 L694.09,303.16 L695.25,302.81 L696.41,302.47 L697.57,302.14 L698.73,301.81 L699.89,301.48 L701.06,301.16 L702.22,300.85 L703.39,300.54 L704.56,300.23 L705.73,299.94 L706.9,299.64 L708.07,299.35 L709.24,299.07 L710.42,298.78 L711.59,298.5 L712.77,298.23 L713.95,297.96 L715.13,297.69 L716.31,297.42 L717.49,297.16 L718.67,296.9 L719.85,296.64 L721.03,296.38 L722.21,296.13 L723.4,295.88 L724.58,295.64 L725.76,295.39 L726.95,295.15 L728.13,294.92 L729.32,294.68 L730.5,294.44 L731.69,294.21 L732.87,293.96 L734.06,293.72 L735.24,293.48 L736.43,293.23 L737.61,292.99 L738.8,292.75 L739.99,292.51 L741.18,292.27 L742.36,292.03 L743.55,291.8 L744.74,291.57 L745.93,291.35 L747.12,291.13 L748.31,290.92 L749.51,290.72 L750.7,290.52 L751.89,290.33 L753.08,290.15 L754.28,289.98 L755.48,289.82 L756.67,289.67 L757.87,289.54 L759.07,289.41 L760.27,289.3 L761.47,289.19 L762.67,289.1 L763.88,289.01 L765.08,288.93 L766.29,288.86 L767.5,288.8" stroke="#9467bd" stroke-width="1.1" stroke-dasharray="4.45 1.95"/>
<path d="M507.28,467.32 L508.51,466.93 L509.71,466.52 L510.9,466.09 L512.07,465.64 L513.22,465.18 L514.36,464.69 L515.48,464.19 L516.59,463.68 L517.68,463.14 L518.75,462.59 L519.81,462.03 L520.85,461.45 L521.88,460.85 L522.89,460.24 L523.89,459.61 L524.88,458.96 L525.85,458.31 L526.81,457.63 L527.76,456.95 L528.69,456.25 L529.61,455.54 L530.52,454.81 L531.41,454.07 L532.3,453.32 L533.17,452.55 L534.03,451.77 L534.88,450.98 L535.72,450.18 L536.55,449.37 L537.36,448.55 L538.17,447.71 L538.97,446.87 L539.76,446.01 L540.54,445.15 L541.31,444.27 L542.07,443.39 L542.82,442.49 L543.57,441.59 L544.31,440.68 L545.04,439.76 L545.76,438.83 L546.47,437.89 L547.18,436.95 L547.88,436 L548.58,435.04 L549.27,434.07 L549.95,433.1 L550.63,432.12 L551.3,431.14 L551.97,430.15 L552.63,429.15 L553.29,428.15 L553.94,427.15 L554.59,426.14 L555.24,425.12 L555.88,424.1 L556.52,423.08 L557.15,422.05 L557.79,421.02 L558.42,419.99 L559.05,418.95 L559.67,417.91 L560.3,416.87 L560.92,415.83 L561.54,414.79 L562.17,413.74 L562.79,412.69 L563.41,411.64 L564.03,410.59 L564.65,409.54 L565.27,408.49 L565.89,407.44 L566.51,406.39 L567.13,405.34 L567.75,404.29 L568.38,403.24 L569,402.19 L569.62,401.14 L570.25,400.09 L570.88,399.04 L571.5,397.99 L572.13,396.95 L572.77,395.9 L573.4,394.86 L574.04,393.82 L574.68,392.78 L575.32,391.75 L575.96,390.71 L576.61,389.68 L577.25,388.65 L577.91,387.63 L578.56,386.6 L579.22,385.58 L579.88,384.57 L580.55,383.56 L581.22,382.55 L581.89,381.54 L582.57,380.54 L583.25,379.54 L583.93,378.55 L584.62,377.56 L585.32,376.58 L586.02,375.6 L586.72,374.63 L587.43,373.66 L588.15,372.7 L588.87,371.74 L589.6,370.79 L590.33,369.84 L591.07,368.9 L591.81,367.97 L592.56,367.04 L593.32,366.12 L594.08,365.21 L594.85,364.3 L595.63,363.4 L596.41,362.51 L597.2,361.63 L597.99,360.75 L598.8,359.88 L599.61,359.01 L600.42,358.15 L601.24,357.3 L602.07,356.46 L602.91,355.62 L603.75,354.79 L604.59,353.97 L605.45,353.15 L606.3,352.34 L607.17,351.53 L608.04,350.74 L608.92,349.95 L609.8,349.16 L610.69,348.38 L611.58,347.61 L612.48,346.85 L613.39,346.09 L614.3,345.34 L615.21,344.59 L616.14,343.85 L617.06,343.12 L617.99,342.39 L618.93,341.67 L619.88,340.96 L620.82,340.25 L621.78,339.55 L622.74,338.85 L623.7,338.16 L624.67,337.48 L625.64,336.8 L626.62,336.13 L627.6,335.47 L628.59,334.81 L629.58,334.15 L630.58,333.51 L631.58,332.86 L632.59,332.23 L633.6,331.6 L634.61,330.98 L635.63,330.36 L636.66,329.74 L637.68,329.14 L638.72,328.54 L639.75,327.94 L640.79,327.35 L641.84,326.77 L642.89,326.19 L643.94,325.62 L645,325.05 L646.06,324.49 L647.12,323.93 L648.19,323.38 L649.26,322.83 L650.34,322.29 L651.42,321.76 L652.5,321.23 L653.59,320.7 L654.68,320.19 L655.77,319.67 L656.87,319.16 L657.97,318.66 L659.07,318.16 L660.18,317.67 L661.28,317.18 L662.4,316.7 L663.51,316.22 L664.63,315.75 L665.75,315.28 L666.88,314.82 L668,314.36 L669.13,313.91 L670.26,313.46 L671.4,313.01 L672.54,312.58 L673.68,312.14 L674.82,311.71 L675.97,311.29 L677.11,310.87 L678.26,310.45 L679.41,310.04 L680.57,309.64 L681.73,309.24 L682.88,308.84 L684.05,308.45 L685.21,308.06 L686.37,307.68 L687.54,307.3 L688.71,306.93 L689.88,306.56 L691.05,306.19 L692.22,305.83 L693.4,305.47 L694.58,305.12 L695.75,304.77 L696.93,304.43 L698.12,304.09 L699.3,303.75 L700.48,303.42 L701.67,303.09 L702.85,302.77 L704.04,302.45 L705.23,302.14 L706.42,301.83 L707.61,301.52 L708.8,301.22 L710,300.92 L711.19,300.62 L712.39,300.33 L713.58,300.04 L714.78,299.76 L715.97,299.48 L717.17,299.2 L718.37,298.93 L719.57,298.66 L720.77,298.39 L721.97,298.13 L723.16,297.87 L724.36,297.62 L725.56,297.37 L726.76,297.12 L727.96,296.88 L729.16,296.63 L730.37,296.4 L731.57,296.16 L732.77,295.93 L733.97,295.71 L735.17,295.48 L736.36,295.26 L737.56,295.04 L738.76,294.83 L739.96,294.62 L741.16,294.41 L742.36,294.21 L743.55,294.01 L744.75,293.81 L745.95,293.61 L747.14,293.42 L748.33,293.23 L749.53,293.04 L750.72,292.86 L751.91,292.68 L753.1,292.5 L754.29,292.33 L755.48,292.16 L756.67,291.99 L757.85,291.82 L759.04,291.66 L760.22,291.5 L761.4,291.34 L762.58,291.18 L763.76,291.03 L764.94,290.88 L766.12,290.73 L767.29,290.59 L768.46,290.44 L769.64,290.3 L770.8,290.17 L771.97,290.03 L773.14,289.9 L774.3,289.77 L775.46,289.64 L776.62,289.51 L777.78,289.39 L778.93,289.27 L780.09,289.15 L781.24,289.03 L782.39,288.92 L783.53,288.8" stroke="#8c564b" stroke-width="1.1" stroke-dasharray="4.45 1.95"/>
<path d="M510.96,467.3 L512.31,467.09 L513.63,466.86 L514.93,466.61 L516.21,466.33 L517.47,466.02 L518.71,465.69 L519.93,465.34 L521.13,464.97 L522.31,464.57 L523.48,464.15 L524.62,463.7 L525.75,463.24 L526.86,462.75 L527.95,462.25 L529.03,461.72 L530.09,461.18 L531.13,460.61 L532.16,460.03 L533.17,459.43 L534.17,458.81 L535.16,458.17 L536.13,457.52 L537.08,456.85 L538.03,456.16 L538.96,455.46 L539.87,454.75 L540.78,454.01 L541.67,453.27 L542.56,452.51 L543.43,451.74 L544.29,450.95 L545.14,450.16 L545.98,449.35 L546.81,448.52 L547.63,447.69 L548.45,446.85 L549.25,446 L550.05,445.14 L550.84,444.26 L551.62,443.38 L552.39,442.5 L553.16,441.6 L553.92,440.7 L554.68,439.78 L555.43,438.87 L556.18,437.94 L556.92,437.02 L557.66,436.08 L558.39,435.14 L559.12,434.2 L559.85,433.25 L560.57,432.3 L561.29,431.35 L562.01,430.39 L562.73,429.44 L563.45,428.48 L564.16,427.51 L564.88,426.55 L565.59,425.59 L566.3,424.62 L567.01,423.65 L567.72,422.68 L568.43,421.71 L569.14,420.74 L569.85,419.77 L570.56,418.8 L571.27,417.83 L571.98,416.86 L572.69,415.89 L573.4,414.91 L574.11,413.94 L574.83,412.97 L575.54,412 L576.26,411.04 L576.98,410.07 L577.7,409.11 L578.42,408.14 L579.15,407.18 L579.87,406.22 L580.6,405.26 L581.33,404.31 L582.07,403.35 L582.81,402.4 L583.55,401.45 L584.29,400.51 L585.04,399.57 L585.8,398.63 L586.55,397.7 L587.31,396.76 L588.08,395.84 L588.85,394.91 L589.62,393.99 L590.4,393.08 L591.18,392.17 L591.97,391.26 L592.75,390.35 L593.55,389.45 L594.34,388.54 L595.14,387.64 L595.94,386.75 L596.74,385.85 L597.55,384.96 L598.36,384.06 L599.17,383.17 L599.98,382.28 L600.79,381.39 L601.6,380.5 L602.42,379.6 L603.23,378.71 L604.05,377.82 L604.87,376.93 L605.68,376.03 L606.5,375.14 L607.32,374.24 L608.14,373.35 L608.96,372.45 L609.78,371.56 L610.6,370.67 L611.42,369.77 L612.25,368.88 L613.07,367.98 L613.9,367.09 L614.72,366.2 L615.55,365.31 L616.38,364.42 L617.21,363.53 L618.05,362.64 L618.88,361.76 L619.72,360.88 L620.56,360 L621.4,359.12 L622.24,358.24 L623.09,357.37 L623.93,356.49 L624.78,355.62 L625.63,354.76 L626.49,353.89 L627.34,353.03 L628.2,352.18 L629.06,351.32 L629.93,350.47 L630.8,349.63 L631.67,348.79 L632.54,347.95 L633.42,347.11 L634.3,346.28 L635.18,345.46 L636.06,344.64 L636.95,343.82 L637.85,343.01 L638.74,342.21 L639.64,341.4 L640.55,340.61 L641.46,339.82 L642.37,339.04 L643.28,338.26 L644.2,337.49 L645.13,336.72 L646.05,335.96 L646.99,335.21 L647.92,334.46 L648.86,333.72 L649.81,332.98 L650.76,332.26 L651.71,331.54 L652.67,330.83 L653.64,330.12 L654.61,329.42 L655.58,328.74 L656.56,328.05 L657.55,327.38 L658.54,326.71 L659.53,326.06 L660.53,325.41 L661.54,324.77 L662.55,324.14 L663.57,323.52 L664.59,322.9 L665.62,322.3 L666.65,321.7 L667.69,321.11 L668.73,320.53 L669.78,319.96 L670.84,319.4 L671.89,318.84 L672.96,318.29 L674.03,317.75 L675.1,317.22 L676.17,316.7 L677.26,316.18 L678.34,315.67 L679.43,315.17 L680.53,314.68 L681.63,314.19 L682.73,313.71 L683.84,313.24 L684.95,312.77 L686.06,312.31 L687.18,311.86 L688.3,311.41 L689.43,310.97 L690.56,310.54 L691.69,310.12 L692.83,309.7 L693.96,309.29 L695.11,308.88 L696.25,308.48 L697.4,308.08 L698.55,307.7 L699.71,307.31 L700.87,306.94 L702.03,306.57 L703.19,306.2 L704.35,305.84 L705.52,305.49 L706.69,305.14 L707.86,304.79 L709.04,304.46 L710.21,304.12 L711.39,303.79 L712.57,303.47 L713.76,303.15 L714.94,302.84 L716.13,302.53 L717.32,302.23 L718.51,301.93 L719.7,301.63 L720.89,301.34 L722.08,301.05 L723.28,300.77 L724.48,300.49 L725.67,300.22 L726.87,299.95 L728.07,299.68 L729.27,299.42 L730.47,299.16 L731.68,298.9 L732.88,298.65 L734.08,298.4 L735.29,298.16 L736.49,297.92 L737.69,297.68 L738.9,297.44 L740.1,297.21 L741.31,296.98 L742.51,296.75 L743.72,296.53 L744.92,296.3 L746.13,296.08 L747.33,295.87 L748.54,295.65 L749.74,295.44 L750.94,295.23 L752.14,295.02 L753.35,294.82 L754.55,294.61 L755.75,294.41 L756.94,294.21 L758.14,294.01 L759.34,293.82 L760.53,293.62 L761.73,293.43 L762.92,293.24 L764.11,293.04 L765.3,292.85 L766.49,292.67 L767.68,292.48 L768.86,292.29 L770.05,292.1 L771.23,291.92 L772.41,291.73 L773.58,291.55 L774.76,291.37 L775.93,291.18 L777.1,291 L778.27,290.82 L779.43,290.64 L780.6,290.45 L781.76,290.27 L782.91,290.09 L784.07,289.91 L785.22,289.72 L786.37,289.54 L787.51,289.36 L788.66,289.17 L789.8,288.99 L790.93,288.8" stroke="#e377c2" stroke-width="1.1" stroke-dasharray="4.45 1.95"/>
<path d="M506.04,467.31 L507.2,466.81 L508.33,466.3 L509.46,465.76 L510.56,465.22 L511.66,464.66 L512.73,464.08 L513.8,463.49 L514.85,462.89 L515.88,462.27 L516.91,461.64 L517.92,461 L518.91,460.34 L519.9,459.67 L520.87,458.98 L521.83,458.29 L522.78,457.58 L523.71,456.86 L524.64,456.13 L525.55,455.39 L526.45,454.63 L527.35,453.87 L528.23,453.09 L529.1,452.3 L529.96,451.51 L530.81,450.7 L531.66,449.88 L532.49,449.05 L533.32,448.22 L534.13,447.37 L534.94,446.52 L535.74,445.66 L536.53,444.79 L537.32,443.91 L538.09,443.02 L538.86,442.12 L539.63,441.22 L540.38,440.31 L541.13,439.4 L541.88,438.47 L542.61,437.54 L543.35,436.61 L544.07,435.67 L544.8,434.72 L545.51,433.76 L546.22,432.81 L546.93,431.84 L547.64,430.87 L548.34,429.9 L549.03,428.92 L549.73,427.94 L550.42,426.96 L551.1,425.97 L551.79,424.97 L552.47,423.98 L553.14,422.97 L553.82,421.97 L554.49,420.96 L555.16,419.95 L555.83,418.94 L556.5,417.93 L557.16,416.91 L557.82,415.89 L558.49,414.87 L559.14,413.85 L559.8,412.82 L560.46,411.79 L561.12,410.77 L561.77,409.74 L562.43,408.71 L563.08,407.68 L563.74,406.65 L564.39,405.61 L565.05,404.58 L565.7,403.55 L566.36,402.52 L567.01,401.49 L567.67,400.45 L568.32,399.42 L568.98,398.39 L569.64,397.36 L570.3,396.34 L570.96,395.31 L571.62,394.28 L572.29,393.26 L572.96,392.24 L573.62,391.22 L574.3,390.2 L574.97,389.18 L575.64,388.17 L576.32,387.16 L577,386.15 L577.69,385.15 L578.37,384.15 L579.06,383.15 L579.76,382.15 L580.46,381.16 L581.16,380.18 L581.86,379.19 L582.57,378.21 L583.28,377.24 L584,376.27 L584.72,375.3 L585.45,374.34 L586.18,373.39 L586.92,372.44 L587.66,371.49 L588.41,370.55 L589.16,369.62 L589.92,368.69 L590.68,367.77 L591.45,366.86 L592.22,365.95 L593,365.04 L593.79,364.15 L594.59,363.26 L595.39,362.38 L596.19,361.5 L597.01,360.64 L597.83,359.78 L598.65,358.92 L599.49,358.08 L600.33,357.23 L601.17,356.4 L602.02,355.57 L602.88,354.75 L603.74,353.94 L604.61,353.13 L605.48,352.33 L606.36,351.54 L607.25,350.75 L608.14,349.97 L609.04,349.2 L609.94,348.43 L610.85,347.67 L611.76,346.91 L612.68,346.17 L613.61,345.42 L614.54,344.69 L615.47,343.96 L616.41,343.23 L617.36,342.52 L618.31,341.81 L619.27,341.1 L620.23,340.4 L621.19,339.71 L622.16,339.02 L623.14,338.34 L624.12,337.67 L625.11,337 L626.1,336.34 L627.09,335.68 L628.09,335.03 L629.09,334.38 L630.1,333.74 L631.11,333.11 L632.13,332.48 L633.15,331.86 L634.18,331.24 L635.21,330.63 L636.24,330.03 L637.28,329.43 L638.32,328.83 L639.37,328.24 L640.42,327.66 L641.47,327.08 L642.53,326.51 L643.59,325.94 L644.66,325.38 L645.73,324.83 L646.8,324.28 L647.88,323.73 L648.96,323.19 L650.04,322.66 L651.13,322.13 L652.22,321.6 L653.31,321.08 L654.41,320.57 L655.51,320.06 L656.61,319.56 L657.72,319.06 L658.83,318.56 L659.94,318.07 L661.06,317.59 L662.17,317.11 L663.29,316.63 L664.42,316.17 L665.55,315.7 L666.68,315.24 L667.81,314.78 L668.94,314.33 L670.08,313.89 L671.22,313.45 L672.36,313.01 L673.51,312.58 L674.65,312.15 L675.8,311.73 L676.95,311.31 L678.11,310.9 L679.26,310.49 L680.42,310.08 L681.58,309.68 L682.74,309.28 L683.91,308.89 L685.07,308.5 L686.24,308.12 L687.41,307.74 L688.58,307.37 L689.75,306.99 L690.93,306.63 L692.1,306.26 L693.28,305.91 L694.46,305.55 L695.64,305.2 L696.82,304.85 L698.01,304.51 L699.19,304.17 L700.37,303.84 L701.56,303.51 L702.75,303.18 L703.94,302.86 L705.13,302.54 L706.32,302.22 L707.51,301.91 L708.7,301.6 L709.89,301.29 L711.09,300.99 L712.28,300.7 L713.48,300.4 L714.67,300.11 L715.87,299.82 L717.06,299.54 L718.26,299.26 L719.46,298.98 L720.65,298.71 L721.85,298.44 L723.05,298.17 L724.25,297.91 L725.45,297.65 L726.64,297.39 L727.84,297.14 L729.04,296.89 L730.24,296.64 L731.43,296.4 L732.63,296.15 L733.83,295.92 L735.03,295.68 L736.22,295.45 L737.42,295.22 L738.61,294.99 L739.81,294.77 L741,294.55 L742.2,294.33 L743.39,294.12 L744.58,293.9 L745.77,293.69 L746.96,293.49 L748.15,293.28 L749.34,293.08 L750.53,292.88 L751.72,292.69 L752.9,292.49 L754.09,292.3 L755.27,292.11 L756.45,291.93 L757.63,291.74 L758.81,291.56 L759.99,291.38 L761.16,291.2 L762.34,291.03 L763.51,290.86 L764.68,290.69 L765.85,290.52 L767.02,290.35 L768.19,290.19 L769.35,290.03 L770.51,289.87 L771.67,289.71 L772.83,289.56 L773.99,289.41 L775.14,289.25 L776.3,289.11 L777.45,288.96 L778.59,288.81" stroke="#7f7f7f" stroke-width="1.1" stroke-dasharray="4.45 1.95"/>
<path d="M509.75,467.31 L511,466.99 L512.24,466.65 L513.46,466.29 L514.67,465.9 L515.86,465.51 L517.04,465.09 L518.19,464.65 L519.34,464.2 L520.46,463.73 L521.58,463.24 L522.68,462.74 L523.76,462.22 L524.83,461.68 L525.88,461.13 L526.93,460.56 L527.95,459.98 L528.97,459.38 L529.97,458.76 L530.96,458.14 L531.94,457.49 L532.9,456.83 L533.85,456.16 L534.79,455.48 L535.72,454.78 L536.64,454.07 L537.54,453.34 L538.44,452.61 L539.32,451.86 L540.2,451.1 L541.06,450.32 L541.92,449.54 L542.76,448.74 L543.6,447.93 L544.42,447.12 L545.24,446.29 L546.05,445.45 L546.85,444.6 L547.64,443.74 L548.42,442.87 L549.2,442 L549.97,441.11 L550.73,440.22 L551.48,439.31 L552.23,438.4 L552.97,437.48 L553.7,436.55 L554.43,435.62 L555.16,434.68 L555.87,433.73 L556.59,432.78 L557.29,431.82 L557.99,430.85 L558.69,429.87 L559.39,428.9 L560.07,427.91 L560.76,426.92 L561.44,425.93 L562.12,424.93 L562.8,423.93 L563.47,422.92 L564.14,421.91 L564.8,420.9 L565.47,419.88 L566.13,418.86 L566.8,417.84 L567.46,416.82 L568.11,415.79 L568.77,414.76 L569.43,413.73 L570.09,412.7 L570.74,411.67 L571.4,410.63 L572.06,409.6 L572.71,408.56 L573.37,407.53 L574.02,406.49 L574.68,405.45 L575.34,404.41 L575.99,403.38 L576.65,402.34 L577.31,401.3 L577.97,400.27 L578.63,399.23 L579.3,398.19 L579.96,397.16 L580.62,396.13 L581.29,395.09 L581.96,394.06 L582.63,393.03 L583.3,392 L583.97,390.98 L584.65,389.95 L585.33,388.93 L586.01,387.91 L586.69,386.89 L587.38,385.88 L588.07,384.86 L588.76,383.85 L589.45,382.84 L590.15,381.84 L590.85,380.84 L591.55,379.84 L592.26,378.85 L592.97,377.86 L593.69,376.87 L594.4,375.89 L595.13,374.91 L595.85,373.94 L596.58,372.97 L597.32,372 L598.06,371.04 L598.8,370.09 L599.55,369.14 L600.3,368.19 L601.06,367.25 L601.83,366.32 L602.6,365.39 L603.37,364.46 L604.15,363.55 L604.93,362.64 L605.72,361.73 L606.52,360.83 L607.32,359.94 L608.13,359.06 L608.94,358.18 L609.76,357.31 L610.59,356.44 L611.42,355.58 L612.26,354.73 L613.1,353.89 L613.95,353.05 L614.81,352.22 L615.67,351.39 L616.54,350.57 L617.41,349.76 L618.29,348.96 L619.17,348.16 L620.06,347.37 L620.95,346.58 L621.85,345.8 L622.76,345.03 L623.67,344.26 L624.58,343.5 L625.5,342.75 L626.43,342 L627.36,341.26 L628.3,340.53 L629.24,339.8 L630.18,339.07 L631.13,338.36 L632.09,337.65 L633.05,336.94 L634.02,336.25 L634.99,335.56 L635.96,334.87 L636.94,334.19 L637.92,333.52 L638.91,332.85 L639.9,332.19 L640.9,331.53 L641.9,330.89 L642.91,330.24 L643.92,329.6 L644.93,328.97 L645.95,328.35 L646.97,327.73 L648,327.11 L649.03,326.51 L650.07,325.9 L651.1,325.31 L652.15,324.72 L653.19,324.13 L654.24,323.55 L655.3,322.98 L656.36,322.41 L657.42,321.85 L658.48,321.29 L659.55,320.74 L660.62,320.19 L661.7,319.65 L662.78,319.12 L663.86,318.59 L664.94,318.06 L666.03,317.54 L667.13,317.03 L668.22,316.52 L669.32,316.02 L670.42,315.52 L671.52,315.03 L672.63,314.55 L673.74,314.07 L674.86,313.59 L675.97,313.12 L677.09,312.65 L678.21,312.19 L679.34,311.74 L680.46,311.29 L681.59,310.84 L682.73,310.4 L683.86,309.97 L685,309.54 L686.14,309.11 L687.28,308.69 L688.42,308.28 L689.57,307.87 L690.72,307.46 L691.87,307.06 L693.02,306.67 L694.18,306.28 L695.34,305.89 L696.5,305.51 L697.66,305.14 L698.82,304.77 L699.99,304.4 L701.15,304.04 L702.32,303.68 L703.49,303.33 L704.66,302.98 L705.84,302.64 L707.01,302.3 L708.19,301.97 L709.37,301.64 L710.55,301.31 L711.73,300.99 L712.91,300.68 L714.09,300.36 L715.28,300.06 L716.46,299.76 L717.65,299.46 L718.84,299.16 L720.03,298.87 L721.22,298.59 L722.41,298.31 L723.6,298.03 L724.79,297.76 L725.99,297.49 L727.18,297.23 L728.38,296.97 L729.57,296.71 L730.77,296.46 L731.96,296.21 L733.16,295.97 L734.36,295.73 L735.56,295.5 L736.76,295.27 L737.96,295.04 L739.15,294.82 L740.35,294.6 L741.55,294.38 L742.75,294.17 L743.95,293.96 L745.15,293.76 L746.35,293.56 L747.55,293.36 L748.75,293.17 L749.95,292.98 L751.15,292.8 L752.35,292.62 L753.55,292.44 L754.75,292.27 L755.95,292.1 L757.14,291.93 L758.34,291.77 L759.54,291.61 L760.73,291.45 L761.93,291.3 L763.12,291.15 L764.32,291.01 L765.51,290.87 L766.7,290.73 L767.9,290.59 L769.09,290.46 L770.28,290.34 L771.46,290.21 L772.65,290.09 L773.84,289.97 L775.02,289.86 L776.21,289.75 L777.39,289.64 L778.57,289.53 L779.75,289.43 L780.93,289.33 L782.11,289.24 L783.29,289.14 L784.46,289.06 L785.63,288.97 L786.8,288.89 L787.97,288.81" stroke="#bcbd22" stroke-width="1.1" stroke-dasharray="4.45 1.95"/>
<path d="M496.68,467.32 L497.64,466.62 L498.59,465.92 L499.54,465.21 L500.48,464.49 L501.41,463.77 L502.35,463.05 L503.28,462.31 L504.2,461.57 L505.12,460.83 L506.04,460.08 L506.95,459.32 L507.86,458.56 L508.76,457.79 L509.66,457.02 L510.56,456.24 L511.45,455.45 L512.34,454.66 L513.23,453.87 L514.11,453.07 L514.99,452.27 L515.87,451.46 L516.74,450.64 L517.61,449.82 L518.48,449 L519.34,448.17 L520.2,447.34 L521.06,446.51 L521.92,445.67 L522.77,444.82 L523.62,443.98 L524.46,443.12 L525.31,442.27 L526.15,441.41 L526.99,440.55 L527.82,439.68 L528.66,438.81 L529.49,437.94 L530.32,437.06 L531.15,436.18 L531.97,435.3 L532.8,434.41 L533.62,433.52 L534.44,432.63 L535.25,431.74 L536.07,430.84 L536.88,429.94 L537.7,429.04 L538.51,428.14 L539.32,427.23 L540.12,426.33 L540.93,425.42 L541.73,424.5 L542.54,423.59 L543.34,422.67 L544.14,421.76 L544.94,420.84 L545.74,419.92 L546.54,419 L547.34,418.07 L548.14,417.15 L548.93,416.22 L549.73,415.3 L550.52,414.37 L551.32,413.44 L552.11,412.51 L552.9,411.58 L553.7,410.65 L554.49,409.72 L555.28,408.79 L556.07,407.86 L556.86,406.93 L557.66,406 L558.45,405.07 L559.24,404.14 L560.03,403.21 L560.83,402.27 L561.62,401.34 L562.41,400.41 L563.2,399.48 L564,398.56 L564.79,397.63 L565.59,396.7 L566.38,395.77 L567.18,394.85 L567.98,393.92 L568.78,393 L569.58,392.08 L570.38,391.16 L571.18,390.24 L571.98,389.32 L572.78,388.41 L573.59,387.49 L574.39,386.58 L575.2,385.67 L576.01,384.76 L576.82,383.86 L577.63,382.95 L578.44,382.05 L579.26,381.15 L580.08,380.26 L580.9,379.36 L581.72,378.47 L582.54,377.58 L583.36,376.7 L584.19,375.81 L585.02,374.93 L585.85,374.06 L586.68,373.18 L587.52,372.31 L588.36,371.44 L589.2,370.58 L590.04,369.72 L590.89,368.87 L591.74,368.01 L592.59,367.16 L593.44,366.32 L594.3,365.48 L595.16,364.64 L596.02,363.81 L596.89,362.98 L597.75,362.16 L598.63,361.34 L599.5,360.53 L600.38,359.72 L601.26,358.91 L602.15,358.11 L603.04,357.32 L603.93,356.53 L604.83,355.74 L605.72,354.96 L606.63,354.19 L607.54,353.42 L608.45,352.66 L609.36,351.9 L610.28,351.15 L611.2,350.4 L612.13,349.66 L613.06,348.93 L614,348.2 L614.94,347.47 L615.88,346.75 L616.83,346.04 L617.78,345.33 L618.73,344.63 L619.69,343.94 L620.65,343.25 L621.61,342.56 L622.58,341.88 L623.56,341.21 L624.53,340.54 L625.51,339.88 L626.49,339.22 L627.48,338.57 L628.47,337.92 L629.47,337.28 L630.46,336.65 L631.46,336.02 L632.47,335.39 L633.48,334.77 L634.49,334.16 L635.5,333.55 L636.52,332.95 L637.54,332.35 L638.57,331.76 L639.59,331.17 L640.63,330.59 L641.66,330.02 L642.7,329.45 L643.74,328.88 L644.78,328.32 L645.83,327.77 L646.88,327.22 L647.93,326.67 L648.99,326.13 L650.05,325.6 L651.11,325.07 L652.18,324.55 L653.24,324.03 L654.32,323.52 L655.39,323.01 L656.47,322.51 L657.55,322.01 L658.63,321.52 L659.72,321.03 L660.8,320.55 L661.9,320.07 L662.99,319.6 L664.09,319.14 L665.19,318.68 L666.29,318.22 L667.39,317.77 L668.5,317.32 L669.61,316.88 L670.72,316.45 L671.84,316.02 L672.96,315.59 L674.08,315.17 L675.2,314.75 L676.33,314.34 L677.45,313.94 L678.58,313.54 L679.72,313.14 L680.85,312.75 L681.99,312.37 L683.13,311.99 L684.27,311.61 L685.42,311.24 L686.56,310.87 L687.71,310.51 L688.86,310.16 L690.02,309.81 L691.17,309.46 L692.33,309.12 L693.49,308.78 L694.65,308.45 L695.82,308.12 L696.98,307.8 L698.15,307.48 L699.32,307.17 L700.49,306.86 L701.67,306.56 L702.84,306.26 L704.02,305.97 L705.2,305.68 L706.38,305.4 L707.57,305.12 L708.75,304.84 L709.94,304.57 L711.13,304.31 L712.32,304.04 L713.51,303.79 L714.7,303.53 L715.9,303.28 L717.09,303.04 L718.29,302.8 L719.49,302.56 L720.69,302.32 L721.89,302.09 L723.09,301.87 L724.3,301.64 L725.5,301.42 L726.71,301.21 L727.91,300.99 L729.12,300.78 L730.33,300.58 L731.54,300.37 L732.75,300.17 L733.96,299.97 L735.17,299.78 L736.38,299.59 L737.6,299.4 L738.81,299.21 L740.02,299.02 L741.24,298.84 L742.45,298.66 L743.67,298.48 L744.88,298.3 L746.1,298.13 L747.31,297.96 L748.53,297.79 L749.74,297.62 L750.96,297.45 L752.18,297.29 L753.39,297.12 L754.61,296.96 L755.82,296.8 L757.04,296.64 L758.25,296.48 L759.47,296.33 L760.68,296.17 L761.9,296.02 L763.11,295.86 L764.32,295.71 L765.54,295.56 L766.75,295.41 L767.96,295.25 L769.17,295.1 L770.38,294.95 L771.59,294.8 L772.8,294.66 L774.01,294.51 L775.22,294.36 L776.42,294.21 L777.63,294.06 L778.83,293.91 L780.03,293.76 L781.23,293.61 L782.43,293.46 L783.63,293.31 L784.83,293.16 L786.03,293.01 L787.22,292.86 L788.42,292.71 L789.61,292.55 L790.8,292.4 L791.99,292.24 L793.17,292.09 L794.36,291.93 L795.54,291.77 L796.73,291.61 L797.91,291.45 L799.08,291.29 L800.26,291.12 L801.44,290.96 L802.61,290.79 L803.78,290.62 L804.95,290.45 L806.11,290.28 L807.28,290.1 L808.44,289.92 L809.6,289.75 L810.75,289.56 L811.91,289.38 L813.06,289.19 L814.21,289 L815.36,288.81" stroke="#17becf" stroke-width="1.1" stroke-dasharray="4.45 1.95"/>
</g>
<path d="M482.6,467.3V289H852.6V467.3Z" fill="none" stroke="#474747" stroke-width="1"/>
<path d="M482.6,467.3v2.4M531.93,467.3v2.4M581.27,467.3v2.4M630.6,467.3v2.4M679.93,467.3v2.4M729.27,467.3v2.4M778.6,467.3v2.4M827.93,467.3v2.4M482.6,467.3h-3.2M482.6,431.6h-3.2M482.6,395.9h-3.2M482.6,360.2h-3.2M482.6,324.5h-3.2M482.6,288.8h-3.2" stroke="#474747" stroke-width="0.9" fill="none"/>
<text x="482.6" y="477.2" font-size="7" text-anchor="middle" textLength="4.62" lengthAdjust="spacingAndGlyphs">0</text>
<text x="531.93" y="477.2" font-size="7" text-anchor="middle" textLength="13.85" lengthAdjust="spacingAndGlyphs">200</text>
<text x="581.27" y="477.2" font-size="7" text-anchor="middle" textLength="13.85" lengthAdjust="spacingAndGlyphs">400</text>
<text x="630.6" y="477.2" font-size="7" text-anchor="middle" textLength="13.85" lengthAdjust="spacingAndGlyphs">600</text>
<text x="679.93" y="477.2" font-size="7" text-anchor="middle" textLength="13.85" lengthAdjust="spacingAndGlyphs">800</text>
<text x="729.27" y="477.2" font-size="7" text-anchor="middle" textLength="18.46" lengthAdjust="spacingAndGlyphs">1000</text>
<text x="778.6" y="477.2" font-size="7" text-anchor="middle" textLength="18.46" lengthAdjust="spacingAndGlyphs">1200</text>
<text x="827.93" y="477.2" font-size="7" text-anchor="middle" textLength="18.46" lengthAdjust="spacingAndGlyphs">1400</text>
<text x="476.42" y="470.4" font-size="7" text-anchor="end" textLength="11.3" lengthAdjust="spacingAndGlyphs">0.0</text>
<text x="476.42" y="434.7" font-size="7" text-anchor="end" textLength="11.3" lengthAdjust="spacingAndGlyphs">0.2</text>
<text x="476.42" y="399" font-size="7" text-anchor="end" textLength="11.3" lengthAdjust="spacingAndGlyphs">0.4</text>
<text x="476.42" y="363.3" font-size="7" text-anchor="end" textLength="11.3" lengthAdjust="spacingAndGlyphs">0.6</text>
<text x="476.42" y="327.6" font-size="7" text-anchor="end" textLength="11.3" lengthAdjust="spacingAndGlyphs">0.8</text>
<text x="476.42" y="291.9" font-size="7" text-anchor="end" textLength="11.3" lengthAdjust="spacingAndGlyphs">1.0</text>
<text x="666.1" y="488.6" font-size="10.3" text-anchor="middle" textLength="50.32" lengthAdjust="spacingAndGlyphs">Grainsize</text>
<text transform="translate(458.12,378.05) scale(1.066,1) rotate(-90)" x="0" y="0" font-size="10.3" text-anchor="middle" textLength="74.3" lengthAdjust="spacingAndGlyphs">Cumulative Value</text>
<rect x="718.7" y="340.7" width="128.3" height="122.7" rx="1.8" fill="#ffffff" fill-opacity="0.8" stroke="#dcdcdc" stroke-width="0.9"/>
<path d="M722.4,346.9H743.3" stroke="#1f77b4" stroke-width="2.9" stroke-linecap="square"/>
<path d="M722.4,359H743.3" stroke="#ff7f0e" stroke-width="2.9" stroke-linecap="square"/>
<path d="M722.4,371.1H743.3" stroke="#2ca02c" stroke-width="1.1" stroke-dasharray="4.74 2.08"/>
<path d="M722.4,383.2H743.3" stroke="#d62728" stroke-width="1.1" stroke-dasharray="4.74 2.08"/>
<path d="M722.4,395.3H743.3" stroke="#9467bd" stroke-width="1.1" stroke-dasharray="4.74 2.08"/>
<path d="M722.4,407.4H743.3" stroke="#8c564b" stroke-width="1.1" stroke-dasharray="4.74 2.08"/>
<path d="M722.4,419.5H743.3" stroke="#e377c2" stroke-width="1.1" stroke-dasharray="4.74 2.08"/>
<path d="M722.4,431.6H743.3" stroke="#7f7f7f" stroke-width="1.1" stroke-dasharray="4.74 2.08"/>
<path d="M722.4,443.7H743.3" stroke="#bcbd22" stroke-width="1.1" stroke-dasharray="4.74 2.08"/>
<path d="M722.4,455.8H743.3" stroke="#17becf" stroke-width="1.1" stroke-dasharray="4.74 2.08"/>
<text x="0" y="0" font-size="8.7" transform="translate(750.8,349.85) scale(1.21,1)">Laser measurement</text>
<text x="0" y="0" font-size="8.7" transform="translate(750.8,361.95) scale(1.21,1)">Sedihist</text>
<text x="0" y="0" font-size="8.7" transform="translate(750.8,374.05) scale(1.21,1)">Resnet50_hist</text>
<text x="0" y="0" font-size="8.7" transform="translate(750.8,386.15) scale(1.21,1)">VGG_hist</text>
<text x="0" y="0" font-size="8.7" transform="translate(750.8,398.25) scale(1.21,1)">DeepTen</text>
<text x="0" y="0" font-size="8.7" transform="translate(750.8,410.35) scale(1.21,1)">Resnet50</text>
<text x="0" y="0" font-size="8.7" transform="translate(750.8,422.45) scale(1.21,1)">Resnet18</text>
<text x="0" y="0" font-size="8.7" transform="translate(750.8,434.55) scale(1.21,1)">VGG</text>
<text x="0" y="0" font-size="8.7" transform="translate(750.8,446.65) scale(1.21,1)">Sedinet</text>
<text x="0" y="0" font-size="8.7" transform="translate(750.8,458.75) scale(1.21,1)">Wavelet</text>
<text x="661.2" y="521.3" font-family='"Liberation Serif", serif' font-size="24.5" text-anchor="middle" textLength="28.0" lengthAdjust="spacingAndGlyphs" fill="#000">(<tspan font-weight="bold">d</tspan>)</text>
</svg></body></html>
